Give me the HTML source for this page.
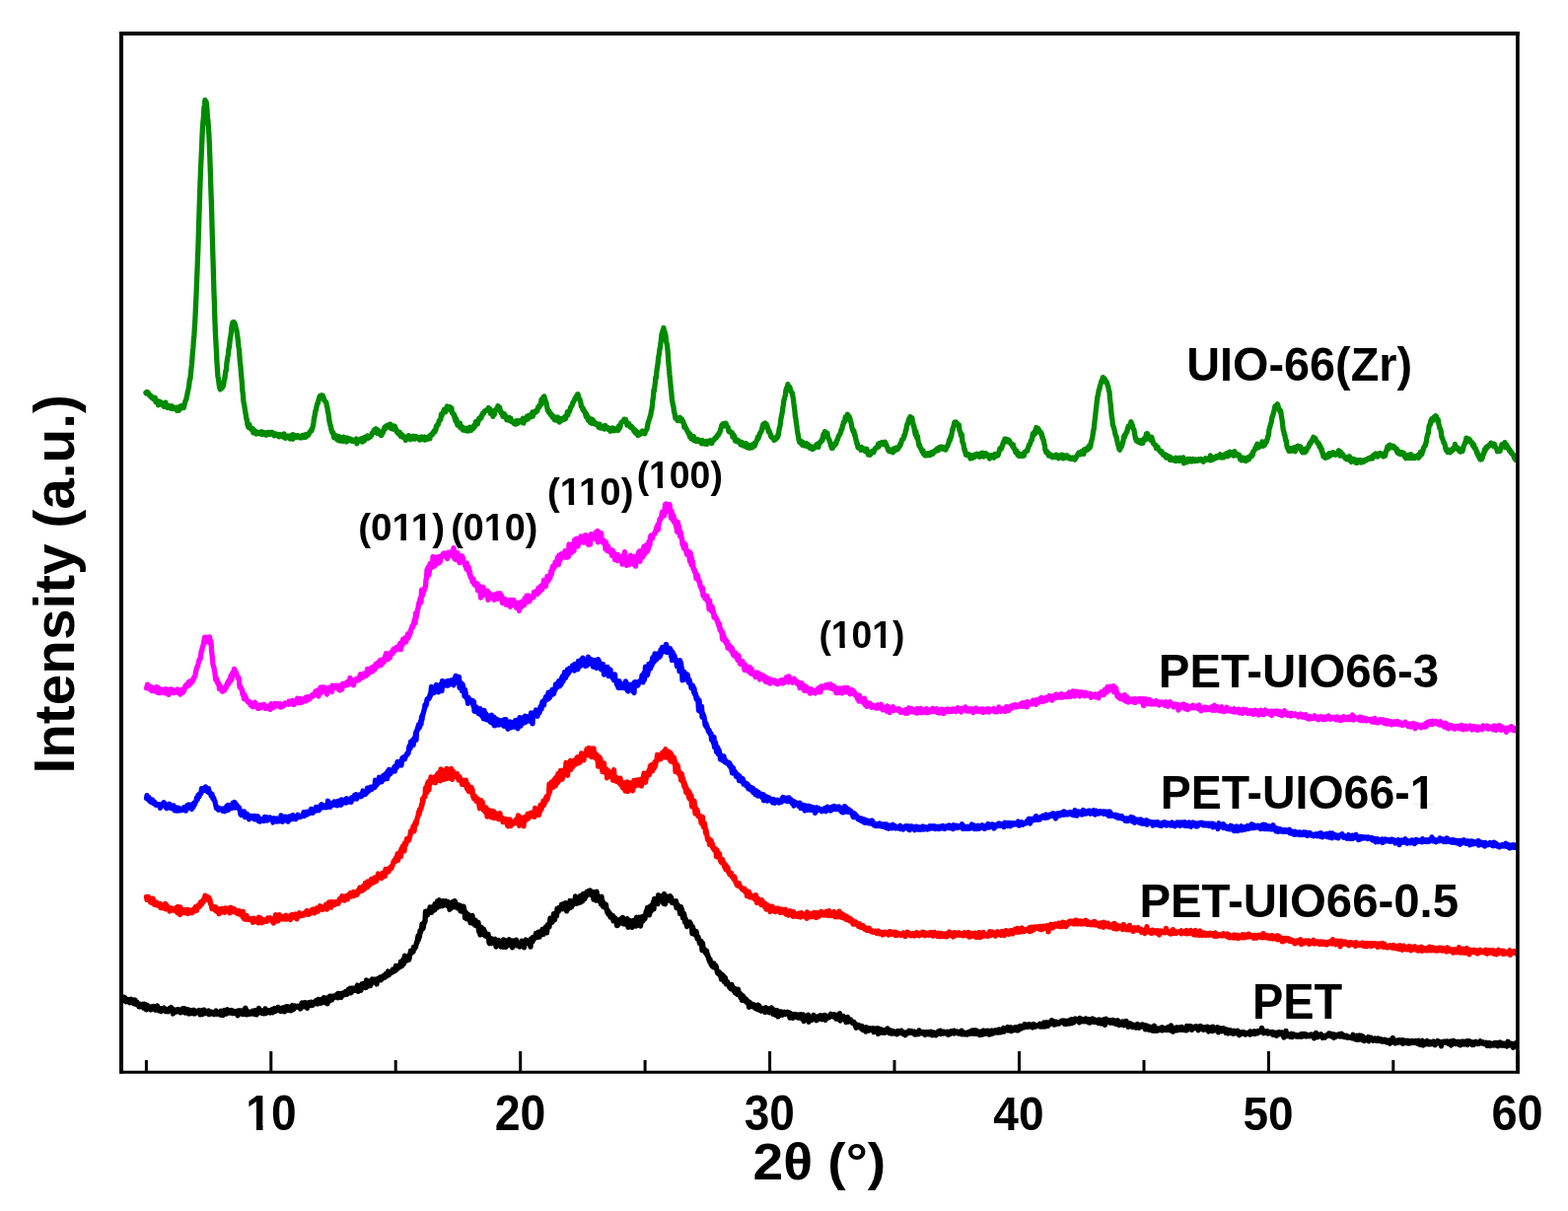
<!DOCTYPE html>
<html><head><meta charset="utf-8"><style>
html,body{margin:0;padding:0;background:#fff;}
svg{display:block;}
text{font-family:"Liberation Sans",Arial,sans-serif;font-weight:bold;fill:#000;}
</style></head><body>
<svg width="1590" height="1228" viewBox="0 0 1590 1228">
<rect width="1590" height="1228" fill="#fff"/>
<g fill="none" stroke-width="5.3" stroke-linejoin="round" stroke-linecap="round">
<path d="M124.0 1011.8 124.5 1012.6 125.0 1011.9 125.5 1011.2 126.0 1012.1 126.5 1011.6 127.0 1013.5 127.5 1015.8 128.0 1013.1 128.5 1013.2 129.0 1015.2 129.5 1015.3 130.0 1015.1 130.5 1013.7 131.0 1015.4 131.5 1016.7 132.0 1013.8 132.5 1015.4 133.0 1013.3 133.5 1014.5 134.0 1013.9 134.5 1016.6 135.0 1015.2 135.5 1017.8 136.0 1017.8 136.5 1017.4 137.0 1014.0 137.5 1017.3 138.0 1018.2 138.5 1018.6 139.0 1016.2 139.5 1018.0 140.0 1017.4 140.5 1017.8 141.0 1020.8 141.5 1018.0 142.0 1019.4 142.5 1020.9 143.0 1018.8 143.5 1019.6 144.0 1020.1 144.5 1020.1 145.0 1018.3 145.5 1020.4 146.0 1022.4 146.5 1018.2 147.0 1021.9 147.5 1020.9 148.0 1019.9 148.5 1023.9 149.0 1022.2 149.5 1019.3 150.0 1021.3 150.5 1022.2 151.0 1021.1 151.5 1022.5 152.0 1021.5 152.5 1022.7 153.0 1023.9 153.5 1020.9 154.0 1022.3 154.5 1021.3 155.0 1022.3 155.5 1020.4 156.0 1021.4 156.5 1022.1 157.0 1023.8 157.5 1024.2 158.0 1020.6 158.5 1021.5 159.0 1023.7 159.5 1019.8 160.0 1022.2 160.5 1022.8 161.0 1024.9 161.5 1024.1 162.0 1022.7 162.5 1022.7 163.0 1022.9 163.5 1025.6 164.0 1022.8 164.5 1023.0 165.0 1024.1 165.5 1023.4 166.0 1023.4 166.5 1022.1 167.0 1023.8 167.5 1023.2 168.0 1025.6 168.5 1024.9 169.0 1024.0 169.5 1025.1 170.0 1023.6 170.5 1025.7 171.0 1024.2 171.5 1025.2 172.0 1022.5 172.5 1024.9 173.0 1022.0 173.5 1021.6 174.0 1024.1 174.5 1023.3 175.0 1024.9 175.5 1028.0 176.0 1023.6 176.5 1023.9 177.0 1025.2 177.5 1025.7 178.0 1024.7 178.5 1024.7 179.0 1026.1 179.5 1025.9 180.0 1023.7 180.5 1025.1 181.0 1025.3 181.5 1023.8 182.0 1025.7 182.5 1024.1 183.0 1026.8 183.5 1025.7 184.0 1025.6 184.5 1024.7 185.0 1025.4 185.5 1022.7 186.0 1024.0 186.5 1026.2 187.0 1022.6 187.5 1027.0 188.0 1023.2 188.5 1026.9 189.0 1024.6 189.5 1027.0 190.0 1026.1 190.5 1023.7 191.0 1027.7 191.5 1028.0 192.0 1025.9 192.5 1025.6 193.0 1025.8 193.5 1024.6 194.0 1027.7 194.5 1025.3 195.0 1026.1 195.5 1025.0 196.0 1025.3 196.5 1024.4 197.0 1028.0 197.5 1026.0 198.0 1027.7 198.5 1026.3 199.0 1025.3 199.5 1025.9 200.0 1025.6 200.5 1026.4 201.0 1025.9 201.5 1026.0 202.0 1024.5 202.5 1025.3 203.0 1028.9 203.5 1025.5 204.0 1025.0 204.5 1027.0 205.0 1028.6 205.5 1024.5 206.0 1026.3 206.5 1025.7 207.0 1024.1 207.5 1027.7 208.0 1026.6 208.5 1026.8 209.0 1025.6 209.5 1027.4 210.0 1026.0 210.5 1026.5 211.0 1025.2 211.5 1025.0 212.0 1028.7 212.5 1026.1 213.0 1027.2 213.5 1026.8 214.0 1026.2 214.5 1026.1 215.0 1027.8 215.5 1026.4 216.0 1026.7 216.5 1026.9 217.0 1028.6 217.5 1027.9 218.0 1027.4 218.5 1026.1 219.0 1024.9 219.5 1028.3 220.0 1028.3 220.5 1026.7 221.0 1027.7 221.5 1028.0 222.0 1028.1 222.5 1028.2 223.0 1026.2 223.5 1029.1 224.0 1025.1 224.5 1028.1 225.0 1027.6 225.5 1028.1 226.0 1029.6 226.5 1029.0 227.0 1025.3 227.5 1024.5 228.0 1028.1 228.5 1025.4 229.0 1026.9 229.5 1028.1 230.0 1024.5 230.5 1023.9 231.0 1027.3 231.5 1027.0 232.0 1026.5 232.5 1027.0 233.0 1025.7 233.5 1024.7 234.0 1026.7 234.5 1025.5 235.0 1024.6 235.5 1027.6 236.0 1026.8 236.5 1027.5 237.0 1025.5 237.5 1026.0 238.0 1025.5 238.5 1025.6 239.0 1027.2 239.5 1025.8 240.0 1027.4 240.5 1027.4 241.0 1029.8 241.5 1024.9 242.0 1028.2 242.5 1026.8 243.0 1026.9 243.5 1024.8 244.0 1026.2 244.5 1028.0 245.0 1026.8 245.5 1027.0 246.0 1026.5 246.5 1028.6 247.0 1026.9 247.5 1023.8 248.0 1025.9 248.5 1024.1 249.0 1022.3 249.5 1026.1 250.0 1028.8 250.5 1027.0 251.0 1025.2 251.5 1025.6 252.0 1028.5 252.5 1027.1 253.0 1026.9 253.5 1026.8 254.0 1026.9 254.5 1028.0 255.0 1027.6 255.5 1027.1 256.0 1025.3 256.5 1027.5 257.0 1025.7 257.5 1028.2 258.0 1024.8 258.5 1026.4 259.0 1026.5 259.5 1024.6 260.0 1028.9 260.5 1028.5 261.0 1025.7 261.5 1027.5 262.0 1026.8 262.5 1022.5 263.0 1026.6 263.5 1026.1 264.0 1026.2 264.5 1024.5 265.0 1025.6 265.5 1025.7 266.0 1027.6 266.5 1026.3 267.0 1025.7 267.5 1027.9 268.0 1024.8 268.5 1025.0 269.0 1022.9 269.5 1027.7 270.0 1026.8 270.5 1026.6 271.0 1026.2 271.5 1025.3 272.0 1025.4 272.5 1024.7 273.0 1024.7 273.5 1025.0 274.0 1027.0 274.5 1025.6 275.0 1024.6 275.5 1023.8 276.0 1023.6 276.5 1026.8 277.0 1025.2 277.5 1024.5 278.0 1023.8 278.5 1022.6 279.0 1024.1 279.5 1025.4 280.0 1023.4 280.5 1023.6 281.0 1023.6 281.5 1024.0 282.0 1021.4 282.5 1023.4 283.0 1022.4 283.5 1024.9 284.0 1022.4 284.5 1024.3 285.0 1025.6 285.5 1022.8 286.0 1022.4 286.5 1023.5 287.0 1023.1 287.5 1021.6 288.0 1023.6 288.5 1025.9 289.0 1022.4 289.5 1022.4 290.0 1021.1 290.5 1023.1 291.0 1020.6 291.5 1020.8 292.0 1024.3 292.5 1020.9 293.0 1023.8 293.5 1024.4 294.0 1022.4 294.5 1022.8 295.0 1024.8 295.5 1021.5 296.0 1020.8 296.5 1019.6 297.0 1021.6 297.5 1023.7 298.0 1022.8 298.5 1019.9 299.0 1019.9 299.5 1020.3 300.0 1021.5 300.5 1020.6 301.0 1021.2 301.5 1021.2 302.0 1020.2 302.5 1020.5 303.0 1020.8 303.5 1020.3 304.0 1021.1 304.5 1023.0 305.0 1021.0 305.5 1020.1 306.0 1017.3 306.5 1020.4 307.0 1016.8 307.5 1017.5 308.0 1020.8 308.5 1020.5 309.0 1019.1 309.5 1016.6 310.0 1018.6 310.5 1018.0 311.0 1019.9 311.5 1022.3 312.0 1019.1 312.5 1017.4 313.0 1016.7 313.5 1018.3 314.0 1018.0 314.5 1016.4 315.0 1018.3 315.5 1016.2 316.0 1019.6 316.5 1019.4 317.0 1019.3 317.5 1016.8 318.0 1018.2 318.5 1017.1 319.0 1016.6 319.5 1016.5 320.0 1014.9 320.5 1014.6 321.0 1017.9 321.5 1016.3 322.0 1016.8 322.5 1017.9 323.0 1013.5 323.5 1014.8 324.0 1016.2 324.5 1016.4 325.0 1015.1 325.5 1017.2 326.0 1015.7 326.5 1013.3 327.0 1013.7 327.5 1016.3 328.0 1015.6 328.5 1011.7 329.0 1016.7 329.5 1015.4 330.0 1016.4 330.5 1013.5 331.0 1013.5 331.5 1012.1 332.0 1017.8 332.5 1013.3 333.0 1016.0 333.5 1012.2 334.0 1013.4 334.5 1010.2 335.0 1012.2 335.5 1014.2 336.0 1010.4 336.5 1014.0 337.0 1012.7 337.5 1010.3 338.0 1011.0 338.5 1010.9 339.0 1011.4 339.5 1010.4 340.0 1009.8 340.5 1010.4 341.0 1009.1 341.5 1008.5 342.0 1010.3 342.5 1011.7 343.0 1007.5 343.5 1009.9 344.0 1008.6 344.5 1007.9 345.0 1010.7 345.5 1008.3 346.0 1011.5 346.5 1007.5 347.0 1009.2 347.5 1008.0 348.0 1007.0 348.5 1009.0 349.0 1007.6 349.5 1008.6 350.0 1007.3 350.5 1005.4 351.0 1006.8 351.5 1006.9 352.0 1008.2 352.5 1004.9 353.0 1006.1 353.5 1003.1 354.0 1006.9 354.5 1003.7 355.0 1002.3 355.5 1005.1 356.0 1006.8 356.5 1002.1 357.0 1002.7 357.5 1003.0 358.0 1002.2 358.5 1004.6 359.0 1002.3 359.5 1002.2 360.0 1004.3 360.5 1001.8 361.0 1003.6 361.5 1001.0 362.0 1000.4 362.5 999.1 363.0 1005.3 363.5 1001.3 364.0 1002.1 364.5 1001.4 365.0 1001.6 365.5 1001.2 366.0 1004.3 366.5 998.9 367.0 997.8 367.5 998.6 368.0 997.8 368.5 1001.3 369.0 1001.2 369.5 997.9 370.0 996.9 370.5 998.5 371.0 1001.5 371.5 993.8 372.0 999.5 372.5 996.5 373.0 1000.1 373.5 996.1 374.0 997.3 374.5 994.9 375.0 995.6 375.5 999.7 376.0 998.5 376.5 996.0 377.0 995.0 377.5 992.9 378.0 995.4 378.5 995.9 379.0 995.6 379.5 995.3 380.0 993.2 380.5 995.0 381.0 994.8 381.5 997.0 382.0 997.9 382.5 994.0 383.0 992.6 383.5 993.7 384.0 992.5 384.5 992.0 385.0 993.1 385.5 991.0 386.0 993.9 386.5 992.3 387.0 992.8 387.5 991.7 388.0 990.5 388.5 989.8 389.0 990.9 389.5 990.1 390.0 991.3 390.5 990.6 391.0 987.8 391.5 990.2 392.0 987.2 392.5 988.3 393.0 988.6 393.5 985.0 394.0 988.8 394.5 988.6 395.0 987.6 395.5 986.8 396.0 986.5 396.5 985.0 397.0 986.0 397.5 985.0 398.0 985.9 398.5 983.0 399.0 985.3 399.5 984.7 400.0 983.8 400.5 982.7 401.0 984.2 401.5 979.5 402.0 983.2 402.5 982.3 403.0 981.9 403.5 981.7 404.0 979.2 404.5 979.5 405.0 980.9 405.5 980.0 406.0 979.1 406.5 975.2 407.0 978.8 407.5 979.6 408.0 978.8 408.5 976.8 409.0 972.7 409.5 977.2 410.0 974.5 410.5 969.1 411.0 974.5 411.5 970.1 412.0 969.9 412.5 970.7 413.0 974.0 413.5 970.0 414.0 970.7 414.5 973.2 415.0 972.2 415.5 968.0 416.0 967.0 416.5 964.1 417.0 964.6 417.5 966.2 418.0 965.4 418.5 964.0 419.0 965.1 419.5 960.4 420.0 961.1 420.5 961.9 421.0 960.6 421.5 960.6 422.0 958.1 422.5 955.4 423.0 955.8 423.5 951.6 424.0 949.0 424.5 952.7 425.0 950.1 425.5 949.7 426.0 943.8 426.5 945.6 427.0 943.7 427.5 941.7 428.0 937.1 428.5 940.2 429.0 941.6 429.5 938.9 430.0 935.0 430.5 934.9 431.0 934.9 431.5 924.2 432.0 928.4 432.5 927.9 433.0 926.5 433.5 927.8 434.0 925.8 434.5 923.3 435.0 922.8 435.5 923.6 436.0 920.0 436.5 920.9 437.0 923.0 437.5 925.4 438.0 919.9 438.5 920.0 439.0 920.4 439.5 923.1 440.0 919.4 440.5 923.0 441.0 916.6 441.5 918.3 442.0 918.0 442.5 920.2 443.0 920.6 443.5 913.9 444.0 915.1 444.5 918.0 445.0 915.2 445.5 912.8 446.0 919.1 446.5 917.5 447.0 917.4 447.5 914.8 448.0 918.5 448.5 915.3 449.0 918.7 449.5 913.6 450.0 913.8 450.5 916.5 451.0 914.2 451.5 917.7 452.0 916.7 452.5 913.8 453.0 916.3 453.5 915.3 454.0 918.6 454.5 914.7 455.0 915.3 455.5 919.5 456.0 922.2 456.5 921.7 457.0 916.9 457.5 917.3 458.0 920.7 458.5 916.6 459.0 914.6 459.5 917.5 460.0 918.5 460.5 915.5 461.0 913.6 461.5 914.3 462.0 919.9 462.5 916.5 463.0 918.3 463.5 919.5 464.0 920.8 464.5 918.7 465.0 921.1 465.5 917.9 466.0 919.5 466.5 918.2 467.0 923.9 467.5 921.3 468.0 919.9 468.5 921.2 469.0 921.9 469.5 924.5 470.0 919.2 470.5 921.0 471.0 923.1 471.5 930.8 472.0 927.5 472.5 925.4 473.0 927.9 473.5 931.8 474.0 926.8 474.5 927.1 475.0 931.5 475.5 930.4 476.0 931.4 476.5 929.2 477.0 935.7 477.5 935.8 478.0 933.6 478.5 934.4 479.0 928.5 479.5 935.5 480.0 934.1 480.5 936.3 481.0 937.5 481.5 935.7 482.0 933.1 482.5 938.7 483.0 936.7 483.5 938.3 484.0 938.3 484.5 939.5 485.0 935.5 485.5 944.4 486.0 942.7 486.5 945.3 487.0 947.9 487.5 943.8 488.0 940.1 488.5 942.7 489.0 942.5 489.5 944.7 490.0 946.5 490.5 942.2 491.0 948.1 491.5 944.4 492.0 949.0 492.5 948.5 493.0 948.5 493.5 949.5 494.0 948.9 494.5 949.2 495.0 947.2 495.5 951.3 496.0 955.9 496.5 956.6 497.0 955.4 497.5 954.3 498.0 951.5 498.5 956.5 499.0 953.4 499.5 953.6 500.0 953.3 500.5 954.3 501.0 953.3 501.5 954.3 502.0 952.3 502.5 954.0 503.0 960.1 503.5 955.1 504.0 954.9 504.5 956.7 505.0 957.3 505.5 953.4 506.0 955.6 506.5 958.2 507.0 956.9 507.5 956.7 508.0 960.0 508.5 955.2 509.0 957.0 509.5 955.8 510.0 960.3 510.5 952.8 511.0 955.7 511.5 956.1 512.0 958.7 512.5 958.7 513.0 960.4 513.5 953.9 514.0 959.0 514.5 956.8 515.0 955.9 515.5 958.6 516.0 955.4 516.5 952.8 517.0 956.6 517.5 954.1 518.0 956.0 518.5 958.2 519.0 958.1 519.5 960.9 520.0 957.0 520.5 954.0 521.0 955.7 521.5 955.4 522.0 954.7 522.5 958.4 523.0 956.0 523.5 953.1 524.0 958.9 524.5 957.2 525.0 958.2 525.5 957.6 526.0 958.8 526.5 957.5 527.0 960.1 527.5 958.3 528.0 958.3 528.5 958.3 529.0 954.2 529.5 957.0 530.0 956.8 530.5 957.8 531.0 954.3 531.5 960.8 532.0 957.3 532.5 954.3 533.0 953.0 533.5 956.0 534.0 956.2 534.5 954.6 535.0 956.2 535.5 954.4 536.0 956.8 536.5 953.7 537.0 954.9 537.5 956.9 538.0 960.2 538.5 951.9 539.0 952.9 539.5 951.7 540.0 955.0 540.5 950.4 541.0 951.6 541.5 952.3 542.0 949.9 542.5 949.6 543.0 950.4 543.5 946.4 544.0 947.5 544.5 949.5 545.0 950.3 545.5 949.2 546.0 945.1 546.5 947.7 547.0 950.1 547.5 949.1 548.0 947.1 548.5 944.8 549.0 947.7 549.5 944.4 550.0 942.5 550.5 942.8 551.0 947.5 551.5 944.1 552.0 945.7 552.5 941.3 553.0 944.0 553.5 939.8 554.0 940.3 554.5 945.9 555.0 941.3 555.5 937.7 556.0 938.1 556.5 938.4 557.0 939.8 557.5 935.0 558.0 931.2 558.5 933.9 559.0 933.7 559.5 933.1 560.0 935.1 560.5 931.8 561.0 932.1 561.5 926.6 562.0 930.5 562.5 932.7 563.0 928.6 563.5 926.5 564.0 925.5 564.5 928.8 565.0 921.4 565.5 922.8 566.0 923.7 566.5 923.9 567.0 920.5 567.5 922.1 568.0 920.3 568.5 921.0 569.0 920.1 569.5 917.3 570.0 919.8 570.5 921.8 571.0 917.0 571.5 918.6 572.0 920.7 572.5 916.1 573.0 919.1 573.5 915.7 574.0 921.1 574.5 923.9 575.0 923.0 575.5 917.1 576.0 919.4 576.5 917.7 577.0 917.4 577.5 920.9 578.0 913.5 578.5 919.3 579.0 916.3 579.5 919.8 580.0 916.5 580.5 914.0 581.0 916.2 581.5 917.2 582.0 915.2 582.5 916.1 583.0 913.3 583.5 908.9 584.0 916.4 584.5 915.7 585.0 914.0 585.5 913.6 586.0 915.8 586.5 911.8 587.0 910.9 587.5 911.9 588.0 915.2 588.5 908.3 589.0 914.7 589.5 909.6 590.0 908.1 590.5 913.9 591.0 910.0 591.5 906.4 592.0 908.3 592.5 911.2 593.0 911.3 593.5 906.6 594.0 908.3 594.5 908.6 595.0 904.5 595.5 906.7 596.0 905.3 596.5 903.7 597.0 903.5 597.5 904.8 598.0 904.6 598.5 903.0 599.0 903.5 599.5 907.6 600.0 905.5 600.5 907.5 601.0 908.7 601.5 907.4 602.0 912.2 602.5 904.6 603.0 909.3 603.5 906.9 604.0 913.0 604.5 913.1 605.0 904.2 605.5 907.3 606.0 912.0 606.5 912.8 607.0 913.2 607.5 911.6 608.0 913.5 608.5 914.6 609.0 913.4 609.5 916.8 610.0 909.1 610.5 917.1 611.0 913.6 611.5 919.3 612.0 917.0 612.5 916.1 613.0 920.0 613.5 917.4 614.0 918.1 614.5 917.2 615.0 921.8 615.5 923.7 616.0 925.7 616.5 923.4 617.0 927.1 617.5 925.2 618.0 925.7 618.5 928.1 619.0 930.0 619.5 927.3 620.0 928.2 620.5 929.1 621.0 930.4 621.5 928.6 622.0 933.9 622.5 930.9 623.0 933.4 623.5 930.6 624.0 933.8 624.5 934.1 625.0 932.4 625.5 938.5 626.0 934.7 626.5 938.3 627.0 936.6 627.5 932.9 628.0 933.8 628.5 935.9 629.0 935.2 629.5 935.3 630.0 934.7 630.5 931.2 631.0 935.2 631.5 930.5 632.0 936.8 632.5 934.3 633.0 934.5 633.5 935.8 634.0 937.0 634.5 933.0 635.0 932.3 635.5 934.0 636.0 931.7 636.5 934.3 637.0 940.4 637.5 934.1 638.0 938.1 638.5 933.3 639.0 937.2 639.5 935.7 640.0 936.2 640.5 937.6 641.0 940.3 641.5 936.5 642.0 936.2 642.5 933.5 643.0 937.0 643.5 934.9 644.0 937.3 644.5 935.1 645.0 939.2 645.5 930.1 646.0 933.9 646.5 936.5 647.0 933.4 647.5 932.1 648.0 933.2 648.5 930.3 649.0 933.6 649.5 939.0 650.0 935.7 650.5 930.0 651.0 930.2 651.5 931.0 652.0 934.0 652.5 929.1 653.0 928.9 653.5 932.1 654.0 931.5 654.5 927.8 655.0 925.3 655.5 923.6 656.0 925.0 656.5 920.5 657.0 927.1 657.5 923.0 658.0 925.1 658.5 927.8 659.0 925.4 659.5 919.0 660.0 923.4 660.5 923.6 661.0 918.2 661.5 917.2 662.0 918.8 662.5 914.5 663.0 921.8 663.5 911.4 664.0 914.1 664.5 915.7 665.0 915.3 665.5 915.7 666.0 915.4 666.5 913.7 667.0 916.6 667.5 907.7 668.0 912.7 668.5 910.4 669.0 912.2 669.5 912.0 670.0 908.8 670.5 909.2 671.0 912.7 671.5 911.3 672.0 908.5 672.5 915.5 673.0 916.2 673.5 906.4 674.0 911.0 674.5 916.8 675.0 912.4 675.5 911.1 676.0 910.0 676.5 909.3 677.0 910.3 677.5 909.6 678.0 913.1 678.5 910.3 679.0 910.4 679.5 908.6 680.0 911.8 680.5 909.8 681.0 911.9 681.5 915.3 682.0 913.8 682.5 914.4 683.0 914.4 683.5 914.0 684.0 914.1 684.5 914.3 685.0 917.7 685.5 913.7 686.0 920.7 686.5 918.2 687.0 917.1 687.5 918.7 688.0 919.1 688.5 922.1 689.0 920.9 689.5 926.4 690.0 922.5 690.5 919.7 691.0 924.3 691.5 922.0 692.0 927.5 692.5 930.9 693.0 930.6 693.5 926.4 694.0 928.5 694.5 935.4 695.0 932.5 695.5 932.4 696.0 935.5 696.5 939.5 697.0 937.4 697.5 935.3 698.0 936.4 698.5 937.7 699.0 935.5 699.5 935.1 700.0 938.4 700.5 936.8 701.0 939.6 701.5 940.7 702.0 946.7 702.5 940.0 703.0 942.5 703.5 943.3 704.0 945.5 704.5 947.8 705.0 945.2 705.5 945.5 706.0 944.6 706.5 947.2 707.0 951.6 707.5 951.5 708.0 950.1 708.5 952.6 709.0 954.5 709.5 956.6 710.0 955.1 710.5 956.9 711.0 954.4 711.5 956.8 712.0 963.7 712.5 956.3 713.0 961.2 713.5 963.3 714.0 962.9 714.5 962.8 715.0 965.3 715.5 966.3 716.0 967.0 716.5 964.1 717.0 968.5 717.5 967.9 718.0 969.4 718.5 971.8 719.0 973.4 719.5 974.8 720.0 972.7 720.5 976.4 721.0 977.7 721.5 978.3 722.0 979.6 722.5 977.3 723.0 977.9 723.5 980.7 724.0 977.0 724.5 980.9 725.0 980.1 725.5 981.2 726.0 979.2 726.5 981.5 727.0 983.9 727.5 986.4 728.0 987.2 728.5 985.8 729.0 986.3 729.5 985.7 730.0 988.7 730.5 988.1 731.0 990.4 731.5 993.1 732.0 990.4 732.5 988.3 733.0 990.0 733.5 989.5 734.0 990.6 734.5 995.8 735.0 994.3 735.5 991.7 736.0 996.2 736.5 997.9 737.0 995.4 737.5 995.4 738.0 996.5 738.5 998.2 739.0 999.3 739.5 1000.8 740.0 1001.3 740.5 1001.8 741.0 1002.6 741.5 1001.8 742.0 998.4 742.5 1001.4 743.0 1002.6 743.5 1001.9 744.0 1004.6 744.5 1002.9 745.0 1002.4 745.5 1006.9 746.0 1006.0 746.5 1005.7 747.0 1007.4 747.5 1008.1 748.0 1007.3 748.5 1003.1 749.0 1006.6 749.5 1007.4 750.0 1007.0 750.5 1009.5 751.0 1011.6 751.5 1009.3 752.0 1008.7 752.5 1014.4 753.0 1010.8 753.5 1010.0 754.0 1012.9 754.5 1013.6 755.0 1012.3 755.5 1015.1 756.0 1013.5 756.5 1013.2 757.0 1015.4 757.5 1016.7 758.0 1014.8 758.5 1016.7 759.0 1016.4 759.5 1021.3 760.0 1016.1 760.5 1019.6 761.0 1017.6 761.5 1017.8 762.0 1019.4 762.5 1019.9 763.0 1020.7 763.5 1019.5 764.0 1018.4 764.5 1018.7 765.0 1020.5 765.5 1020.9 766.0 1022.4 766.5 1021.1 767.0 1022.3 767.5 1023.2 768.0 1021.3 768.5 1019.1 769.0 1019.7 769.5 1019.6 770.0 1024.3 770.5 1020.8 771.0 1024.1 771.5 1023.3 772.0 1025.2 772.5 1024.3 773.0 1022.9 773.5 1022.9 774.0 1023.5 774.5 1023.8 775.0 1022.9 775.5 1023.8 776.0 1026.4 776.5 1021.6 777.0 1024.7 777.5 1023.1 778.0 1024.8 778.5 1025.9 779.0 1024.8 779.5 1026.1 780.0 1022.8 780.5 1026.8 781.0 1024.5 781.5 1026.4 782.0 1025.9 782.5 1022.0 783.0 1024.7 783.5 1026.3 784.0 1028.3 784.5 1026.6 785.0 1026.6 785.5 1024.3 786.0 1028.5 786.5 1029.2 787.0 1026.7 787.5 1026.5 788.0 1024.6 788.5 1028.2 789.0 1030.9 789.5 1028.2 790.0 1029.1 790.5 1028.1 791.0 1026.0 791.5 1029.4 792.0 1025.9 792.5 1027.4 793.0 1028.2 793.5 1029.1 794.0 1028.6 794.5 1028.6 795.0 1027.1 795.5 1026.4 796.0 1028.4 796.5 1027.4 797.0 1026.7 797.5 1026.8 798.0 1028.0 798.5 1026.2 799.0 1027.0 799.5 1026.7 800.0 1029.3 800.5 1029.7 801.0 1032.1 801.5 1027.3 802.0 1028.5 802.5 1030.9 803.0 1029.4 803.5 1029.4 804.0 1032.3 804.5 1029.6 805.0 1028.6 805.5 1028.4 806.0 1030.8 806.5 1030.9 807.0 1028.7 807.5 1029.4 808.0 1031.5 808.5 1031.7 809.0 1030.1 809.5 1032.0 810.0 1032.0 810.5 1028.9 811.0 1031.0 811.5 1032.1 812.0 1030.8 812.5 1028.8 813.0 1031.4 813.5 1032.9 814.0 1034.1 814.5 1029.0 815.0 1035.6 815.5 1030.6 816.0 1033.5 816.5 1033.9 817.0 1033.6 817.5 1032.6 818.0 1030.8 818.5 1033.3 819.0 1031.5 819.5 1029.1 820.0 1036.3 820.5 1033.5 821.0 1035.0 821.5 1031.3 822.0 1034.5 822.5 1034.6 823.0 1034.6 823.5 1032.4 824.0 1030.8 824.5 1032.1 825.0 1029.4 825.5 1030.0 826.0 1032.4 826.5 1030.9 827.0 1032.0 827.5 1032.0 828.0 1034.7 828.5 1033.8 829.0 1031.9 829.5 1033.6 830.0 1030.8 830.5 1031.4 831.0 1033.0 831.5 1030.0 832.0 1031.3 832.5 1029.8 833.0 1031.7 833.5 1033.7 834.0 1030.4 834.5 1031.7 835.0 1030.1 835.5 1029.7 836.0 1029.5 836.5 1033.2 837.0 1034.3 837.5 1031.7 838.0 1030.0 838.5 1031.9 839.0 1030.5 839.5 1032.0 840.0 1031.2 840.5 1031.2 841.0 1031.6 841.5 1029.9 842.0 1030.1 842.5 1028.3 843.0 1030.0 843.5 1028.7 844.0 1030.4 844.5 1029.3 845.0 1030.7 845.5 1031.2 846.0 1028.7 846.5 1029.5 847.0 1029.4 847.5 1031.7 848.0 1033.1 848.5 1032.0 849.0 1030.4 849.5 1033.0 850.0 1029.0 850.5 1033.3 851.0 1030.4 851.5 1027.6 852.0 1035.2 852.5 1033.8 853.0 1030.4 853.5 1032.2 854.0 1031.8 854.5 1032.4 855.0 1030.4 855.5 1031.7 856.0 1033.4 856.5 1033.2 857.0 1034.7 857.5 1033.4 858.0 1036.6 858.5 1032.7 859.0 1034.2 859.5 1031.4 860.0 1032.5 860.5 1036.1 861.0 1033.3 861.5 1035.4 862.0 1034.9 862.5 1033.9 863.0 1035.1 863.5 1035.2 864.0 1035.5 864.5 1037.5 865.0 1037.7 865.5 1036.4 866.0 1036.4 866.5 1038.2 867.0 1038.1 867.5 1039.9 868.0 1042.3 868.5 1040.3 869.0 1039.6 869.5 1039.7 870.0 1039.2 870.5 1039.5 871.0 1039.6 871.5 1040.6 872.0 1040.8 872.5 1042.4 873.0 1041.2 873.5 1041.6 874.0 1040.5 874.5 1044.1 875.0 1042.9 875.5 1044.5 876.0 1043.4 876.5 1044.4 877.0 1042.4 877.5 1043.7 878.0 1046.1 878.5 1041.6 879.0 1044.5 879.5 1045.2 880.0 1043.8 880.5 1044.3 881.0 1045.0 881.5 1042.8 882.0 1044.2 882.5 1042.7 883.0 1043.1 883.5 1043.2 884.0 1043.9 884.5 1044.3 885.0 1044.7 885.5 1042.6 886.0 1046.7 886.5 1045.8 887.0 1045.3 887.5 1044.1 888.0 1044.5 888.5 1045.3 889.0 1045.2 889.5 1042.8 890.0 1045.7 890.5 1048.4 891.0 1042.8 891.5 1046.2 892.0 1045.5 892.5 1045.0 893.0 1046.8 893.5 1043.9 894.0 1045.5 894.5 1047.1 895.0 1045.2 895.5 1045.0 896.0 1045.6 896.5 1045.0 897.0 1047.4 897.5 1044.6 898.0 1046.7 898.5 1044.3 899.0 1046.6 899.5 1045.7 900.0 1042.9 900.5 1045.9 901.0 1044.7 901.5 1045.5 902.0 1047.8 902.5 1044.8 903.0 1044.9 903.5 1047.9 904.0 1046.4 904.5 1048.1 905.0 1046.7 905.5 1045.4 906.0 1046.3 906.5 1047.9 907.0 1047.6 907.5 1046.5 908.0 1046.6 908.5 1046.5 909.0 1046.0 909.5 1048.9 910.0 1046.8 910.5 1045.5 911.0 1046.3 911.5 1047.7 912.0 1047.6 912.5 1046.8 913.0 1046.2 913.5 1047.0 914.0 1045.1 914.5 1045.6 915.0 1048.0 915.5 1046.6 916.0 1047.6 916.5 1048.6 917.0 1048.0 917.5 1047.3 918.0 1049.7 918.5 1048.1 919.0 1046.9 919.5 1048.2 920.0 1047.8 920.5 1046.4 921.0 1047.5 921.5 1047.2 922.0 1045.2 922.5 1047.3 923.0 1047.1 923.5 1047.0 924.0 1045.6 924.5 1047.1 925.0 1047.4 925.5 1047.6 926.0 1046.2 926.5 1048.2 927.0 1046.1 927.5 1047.2 928.0 1049.0 928.5 1046.7 929.0 1046.9 929.5 1048.7 930.0 1047.1 930.5 1047.2 931.0 1047.8 931.5 1048.7 932.0 1045.0 932.5 1046.6 933.0 1046.4 933.5 1046.3 934.0 1046.5 934.5 1046.5 935.0 1047.8 935.5 1046.5 936.0 1047.6 936.5 1048.0 937.0 1046.7 937.5 1047.6 938.0 1049.4 938.5 1047.9 939.0 1046.8 939.5 1047.4 940.0 1046.5 940.5 1047.8 941.0 1048.5 941.5 1046.6 942.0 1047.3 942.5 1048.8 943.0 1046.9 943.5 1047.7 944.0 1046.3 944.5 1046.6 945.0 1046.9 945.5 1049.9 946.0 1047.0 946.5 1046.9 947.0 1046.9 947.5 1047.3 948.0 1048.2 948.5 1047.7 949.0 1049.8 949.5 1047.7 950.0 1049.1 950.5 1047.8 951.0 1048.2 951.5 1045.9 952.0 1047.4 952.5 1047.4 953.0 1047.2 953.5 1045.1 954.0 1048.5 954.5 1047.1 955.0 1047.0 955.5 1047.2 956.0 1047.2 956.5 1047.9 957.0 1046.1 957.5 1046.5 958.0 1047.8 958.5 1047.7 959.0 1047.1 959.5 1046.9 960.0 1046.6 960.5 1047.4 961.0 1048.8 961.5 1046.3 962.0 1049.2 962.5 1048.4 963.0 1047.0 963.5 1048.4 964.0 1045.9 964.5 1045.6 965.0 1046.1 965.5 1047.0 966.0 1047.1 966.5 1046.9 967.0 1047.6 967.5 1045.1 968.0 1048.0 968.5 1045.9 969.0 1046.8 969.5 1047.0 970.0 1046.2 970.5 1046.0 971.0 1046.4 971.5 1047.5 972.0 1048.1 972.5 1048.1 973.0 1046.4 973.5 1046.6 974.0 1046.5 974.5 1048.0 975.0 1045.2 975.5 1048.8 976.0 1046.9 976.5 1046.6 977.0 1047.8 977.5 1048.6 978.0 1047.8 978.5 1048.6 979.0 1047.6 979.5 1048.8 980.0 1048.8 980.5 1047.3 981.0 1049.0 981.5 1047.6 982.0 1047.5 982.5 1046.4 983.0 1047.1 983.5 1048.2 984.0 1045.9 984.5 1048.1 985.0 1047.8 985.5 1047.7 986.0 1044.9 986.5 1047.2 987.0 1048.1 987.5 1046.5 988.0 1047.4 988.5 1044.7 989.0 1048.1 989.5 1046.6 990.0 1048.3 990.5 1045.2 991.0 1048.0 991.5 1047.0 992.0 1048.2 992.5 1046.2 993.0 1046.5 993.5 1049.7 994.0 1046.3 994.5 1046.4 995.0 1046.8 995.5 1046.0 996.0 1048.4 996.5 1049.0 997.0 1046.3 997.5 1045.1 998.0 1048.3 998.5 1048.2 999.0 1047.8 999.5 1048.2 1000.0 1045.9 1000.5 1046.6 1001.0 1045.2 1001.5 1045.2 1002.0 1047.8 1002.5 1045.9 1003.0 1049.2 1003.5 1046.7 1004.0 1045.8 1004.5 1047.4 1005.0 1048.5 1005.5 1047.0 1006.0 1045.0 1006.5 1046.8 1007.0 1047.9 1007.5 1045.7 1008.0 1045.4 1008.5 1047.3 1009.0 1046.3 1009.5 1044.8 1010.0 1045.6 1010.5 1045.1 1011.0 1046.3 1011.5 1046.0 1012.0 1047.1 1012.5 1046.5 1013.0 1043.9 1013.5 1046.1 1014.0 1046.6 1014.5 1046.0 1015.0 1046.6 1015.5 1044.7 1016.0 1044.1 1016.5 1046.2 1017.0 1043.8 1017.5 1042.5 1018.0 1046.1 1018.5 1044.0 1019.0 1044.4 1019.5 1043.0 1020.0 1043.0 1020.5 1043.1 1021.0 1043.9 1021.5 1044.7 1022.0 1041.5 1022.5 1044.9 1023.0 1042.6 1023.5 1042.6 1024.0 1044.6 1024.5 1043.6 1025.0 1041.8 1025.5 1045.7 1026.0 1042.4 1026.5 1043.6 1027.0 1043.4 1027.5 1044.8 1028.0 1042.5 1028.5 1044.1 1029.0 1041.9 1029.5 1044.0 1030.0 1041.7 1030.5 1042.1 1031.0 1044.7 1031.5 1042.7 1032.0 1042.4 1032.5 1044.9 1033.0 1042.5 1033.5 1041.0 1034.0 1042.8 1034.5 1040.4 1035.0 1043.1 1035.5 1043.1 1036.0 1040.9 1036.5 1040.8 1037.0 1041.7 1037.5 1041.4 1038.0 1040.1 1038.5 1041.9 1039.0 1038.7 1039.5 1040.5 1040.0 1040.5 1040.5 1040.6 1041.0 1041.2 1041.5 1039.3 1042.0 1041.4 1042.5 1040.4 1043.0 1039.8 1043.5 1038.8 1044.0 1039.0 1044.5 1040.8 1045.0 1039.1 1045.5 1040.3 1046.0 1041.4 1046.5 1041.3 1047.0 1041.9 1047.5 1039.6 1048.0 1038.5 1048.5 1041.0 1049.0 1040.1 1049.5 1041.0 1050.0 1039.6 1050.5 1041.0 1051.0 1040.5 1051.5 1040.3 1052.0 1039.9 1052.5 1039.7 1053.0 1039.5 1053.5 1039.4 1054.0 1040.3 1054.5 1038.3 1055.0 1041.1 1055.5 1038.7 1056.0 1040.0 1056.5 1038.6 1057.0 1038.3 1057.5 1041.1 1058.0 1038.1 1058.5 1036.9 1059.0 1037.5 1059.5 1037.9 1060.0 1041.0 1060.5 1038.5 1061.0 1039.3 1061.5 1036.8 1062.0 1038.5 1062.5 1038.8 1063.0 1040.2 1063.5 1037.0 1064.0 1038.6 1064.5 1038.1 1065.0 1036.4 1065.5 1037.6 1066.0 1037.2 1066.5 1034.6 1067.0 1038.2 1067.5 1038.1 1068.0 1036.8 1068.5 1035.6 1069.0 1039.1 1069.5 1037.5 1070.0 1038.4 1070.5 1038.8 1071.0 1036.3 1071.5 1037.9 1072.0 1036.5 1072.5 1036.7 1073.0 1036.6 1073.5 1036.6 1074.0 1038.0 1074.5 1036.6 1075.0 1036.2 1075.5 1036.0 1076.0 1036.7 1076.5 1035.1 1077.0 1035.5 1077.5 1036.0 1078.0 1035.3 1078.5 1035.8 1079.0 1035.1 1079.5 1038.4 1080.0 1037.5 1080.5 1036.3 1081.0 1035.6 1081.5 1038.5 1082.0 1036.0 1082.5 1035.4 1083.0 1035.9 1083.5 1035.8 1084.0 1037.2 1084.5 1035.3 1085.0 1038.0 1085.5 1034.1 1086.0 1036.1 1086.5 1033.8 1087.0 1037.5 1087.5 1034.7 1088.0 1035.0 1088.5 1036.2 1089.0 1036.7 1089.5 1033.5 1090.0 1034.5 1090.5 1033.1 1091.0 1035.1 1091.5 1034.8 1092.0 1034.5 1092.5 1034.0 1093.0 1034.4 1093.5 1033.9 1094.0 1035.6 1094.5 1036.9 1095.0 1032.4 1095.5 1034.8 1096.0 1034.4 1096.5 1035.6 1097.0 1033.7 1097.5 1034.7 1098.0 1033.6 1098.5 1035.9 1099.0 1035.1 1099.5 1034.7 1100.0 1035.5 1100.5 1034.7 1101.0 1032.9 1101.5 1035.8 1102.0 1035.4 1102.5 1034.8 1103.0 1036.3 1103.5 1036.6 1104.0 1033.6 1104.5 1034.1 1105.0 1037.1 1105.5 1037.0 1106.0 1034.2 1106.5 1033.6 1107.0 1034.3 1107.5 1034.5 1108.0 1033.1 1108.5 1035.3 1109.0 1033.6 1109.5 1033.7 1110.0 1036.5 1110.5 1034.4 1111.0 1035.2 1111.5 1036.1 1112.0 1036.4 1112.5 1034.9 1113.0 1035.4 1113.5 1034.3 1114.0 1037.7 1114.5 1036.3 1115.0 1034.0 1115.5 1035.5 1116.0 1036.5 1116.5 1036.2 1117.0 1038.0 1117.5 1037.4 1118.0 1034.9 1118.5 1035.5 1119.0 1034.0 1119.5 1036.0 1120.0 1035.9 1120.5 1039.3 1121.0 1035.9 1121.5 1033.1 1122.0 1035.0 1122.5 1036.0 1123.0 1034.3 1123.5 1034.8 1124.0 1035.5 1124.5 1036.4 1125.0 1035.8 1125.5 1034.9 1126.0 1037.2 1126.5 1035.5 1127.0 1035.6 1127.5 1034.5 1128.0 1035.3 1128.5 1037.3 1129.0 1034.4 1129.5 1036.4 1130.0 1037.5 1130.5 1036.2 1131.0 1037.0 1131.5 1035.4 1132.0 1038.5 1132.5 1038.3 1133.0 1037.3 1133.5 1034.8 1134.0 1035.8 1134.5 1038.5 1135.0 1039.5 1135.5 1037.8 1136.0 1039.0 1136.5 1036.8 1137.0 1037.4 1137.5 1037.7 1138.0 1038.3 1138.5 1035.9 1139.0 1039.1 1139.5 1039.7 1140.0 1036.6 1140.5 1036.5 1141.0 1038.7 1141.5 1037.5 1142.0 1035.4 1142.5 1039.5 1143.0 1038.8 1143.5 1038.1 1144.0 1041.4 1144.5 1039.0 1145.0 1038.0 1145.5 1039.1 1146.0 1037.8 1146.5 1038.2 1147.0 1039.7 1147.5 1038.6 1148.0 1038.8 1148.5 1041.5 1149.0 1040.6 1149.5 1040.6 1150.0 1040.3 1150.5 1040.3 1151.0 1041.6 1151.5 1039.8 1152.0 1042.2 1152.5 1038.8 1153.0 1039.8 1153.5 1038.5 1154.0 1039.8 1154.5 1041.0 1155.0 1042.2 1155.5 1039.7 1156.0 1040.6 1156.5 1040.2 1157.0 1039.8 1157.5 1039.4 1158.0 1041.0 1158.5 1038.9 1159.0 1041.2 1159.5 1041.2 1160.0 1040.5 1160.5 1040.2 1161.0 1039.8 1161.5 1043.8 1162.0 1040.0 1162.5 1043.6 1163.0 1042.5 1163.5 1041.5 1164.0 1040.6 1164.5 1043.3 1165.0 1044.2 1165.5 1041.1 1166.0 1042.0 1166.5 1043.6 1167.0 1042.9 1167.5 1044.9 1168.0 1041.9 1168.5 1043.3 1169.0 1041.3 1169.5 1045.3 1170.0 1042.0 1170.5 1040.3 1171.0 1042.8 1171.5 1042.9 1172.0 1045.3 1172.5 1042.7 1173.0 1043.2 1173.5 1043.9 1174.0 1045.1 1174.5 1043.2 1175.0 1044.5 1175.5 1043.9 1176.0 1043.0 1176.5 1043.5 1177.0 1043.4 1177.5 1042.3 1178.0 1044.8 1178.5 1041.8 1179.0 1044.8 1179.5 1044.5 1180.0 1043.3 1180.5 1042.5 1181.0 1043.1 1181.5 1043.9 1182.0 1044.2 1182.5 1043.7 1183.0 1044.5 1183.5 1042.7 1184.0 1043.6 1184.5 1041.5 1185.0 1044.2 1185.5 1043.5 1186.0 1042.8 1186.5 1044.7 1187.0 1044.1 1187.5 1039.9 1188.0 1043.3 1188.5 1041.5 1189.0 1044.5 1189.5 1046.1 1190.0 1042.6 1190.5 1043.3 1191.0 1042.9 1191.5 1043.6 1192.0 1043.9 1192.5 1044.6 1193.0 1041.9 1193.5 1044.9 1194.0 1042.0 1194.5 1043.4 1195.0 1044.4 1195.5 1043.8 1196.0 1041.9 1196.5 1042.1 1197.0 1042.4 1197.5 1042.9 1198.0 1044.3 1198.5 1041.4 1199.0 1043.4 1199.5 1043.6 1200.0 1043.5 1200.5 1043.4 1201.0 1044.6 1201.5 1043.4 1202.0 1043.8 1202.5 1043.4 1203.0 1044.9 1203.5 1040.5 1204.0 1044.2 1204.5 1042.4 1205.0 1042.3 1205.5 1041.5 1206.0 1040.4 1206.5 1042.2 1207.0 1041.8 1207.5 1043.2 1208.0 1040.8 1208.5 1044.3 1209.0 1042.9 1209.5 1042.3 1210.0 1041.7 1210.5 1041.6 1211.0 1041.2 1211.5 1041.9 1212.0 1042.5 1212.5 1042.3 1213.0 1040.8 1213.5 1042.2 1214.0 1041.4 1214.5 1042.7 1215.0 1044.7 1215.5 1043.2 1216.0 1042.1 1216.5 1040.6 1217.0 1040.8 1217.5 1040.5 1218.0 1043.4 1218.5 1041.6 1219.0 1042.6 1219.5 1041.8 1220.0 1042.7 1220.5 1044.3 1221.0 1041.8 1221.5 1042.3 1222.0 1041.8 1222.5 1043.8 1223.0 1041.6 1223.5 1041.5 1224.0 1041.2 1224.5 1041.2 1225.0 1043.5 1225.5 1046.0 1226.0 1041.9 1226.5 1044.2 1227.0 1043.4 1227.5 1041.9 1228.0 1042.9 1228.5 1043.0 1229.0 1042.6 1229.5 1045.7 1230.0 1041.2 1230.5 1044.0 1231.0 1044.0 1231.5 1043.0 1232.0 1043.9 1232.5 1044.8 1233.0 1044.0 1233.5 1044.4 1234.0 1044.8 1234.5 1041.7 1235.0 1045.8 1235.5 1046.8 1236.0 1045.4 1236.5 1045.5 1237.0 1042.7 1237.5 1044.3 1238.0 1043.6 1238.5 1043.9 1239.0 1045.8 1239.5 1043.8 1240.0 1044.6 1240.5 1042.6 1241.0 1044.7 1241.5 1045.1 1242.0 1044.2 1242.5 1044.3 1243.0 1047.3 1243.5 1043.8 1244.0 1044.1 1244.5 1044.4 1245.0 1046.8 1245.5 1047.9 1246.0 1045.9 1246.5 1044.8 1247.0 1045.2 1247.5 1047.0 1248.0 1044.8 1248.5 1047.6 1249.0 1047.7 1249.5 1046.2 1250.0 1047.0 1250.5 1047.2 1251.0 1048.2 1251.5 1045.3 1252.0 1047.9 1252.5 1046.3 1253.0 1046.0 1253.5 1047.0 1254.0 1046.8 1254.5 1046.0 1255.0 1045.4 1255.5 1046.2 1256.0 1049.0 1256.5 1049.6 1257.0 1048.2 1257.5 1048.9 1258.0 1047.1 1258.5 1047.6 1259.0 1048.1 1259.5 1046.6 1260.0 1046.8 1260.5 1048.0 1261.0 1047.6 1261.5 1046.8 1262.0 1048.4 1262.5 1047.7 1263.0 1049.1 1263.5 1048.0 1264.0 1047.7 1264.5 1048.1 1265.0 1047.7 1265.5 1047.2 1266.0 1047.4 1266.5 1048.6 1267.0 1048.5 1267.5 1049.1 1268.0 1045.8 1268.5 1047.1 1269.0 1047.0 1269.5 1047.6 1270.0 1046.8 1270.5 1046.7 1271.0 1048.1 1271.5 1047.3 1272.0 1045.7 1272.5 1048.5 1273.0 1048.0 1273.5 1046.2 1274.0 1047.7 1274.5 1045.9 1275.0 1047.9 1275.5 1046.3 1276.0 1045.6 1276.5 1046.1 1277.0 1045.6 1277.5 1046.7 1278.0 1046.6 1278.5 1046.4 1279.0 1045.8 1279.5 1042.3 1280.0 1046.5 1280.5 1044.3 1281.0 1046.7 1281.5 1047.7 1282.0 1046.8 1282.5 1046.1 1283.0 1046.3 1283.5 1046.4 1284.0 1046.0 1284.5 1046.0 1285.0 1045.6 1285.5 1048.0 1286.0 1046.7 1286.5 1047.9 1287.0 1046.6 1287.5 1047.0 1288.0 1046.8 1288.5 1047.5 1289.0 1048.0 1289.5 1047.4 1290.0 1046.4 1290.5 1046.4 1291.0 1049.2 1291.5 1047.1 1292.0 1047.1 1292.5 1049.1 1293.0 1048.8 1293.5 1048.3 1294.0 1047.3 1294.5 1050.4 1295.0 1048.3 1295.5 1048.6 1296.0 1047.8 1296.5 1046.6 1297.0 1046.7 1297.5 1048.7 1298.0 1048.8 1298.5 1048.1 1299.0 1047.2 1299.5 1047.0 1300.0 1048.3 1300.5 1047.1 1301.0 1049.8 1301.5 1050.1 1302.0 1052.0 1302.5 1050.0 1303.0 1048.4 1303.5 1048.2 1304.0 1045.4 1304.5 1048.6 1305.0 1049.1 1305.5 1050.5 1306.0 1050.1 1306.5 1050.2 1307.0 1049.8 1307.5 1050.4 1308.0 1051.3 1308.5 1048.6 1309.0 1049.3 1309.5 1048.3 1310.0 1051.7 1310.5 1051.4 1311.0 1050.8 1311.5 1048.7 1312.0 1050.2 1312.5 1049.8 1313.0 1050.2 1313.5 1049.9 1314.0 1050.7 1314.5 1049.7 1315.0 1051.1 1315.5 1050.5 1316.0 1049.9 1316.5 1050.1 1317.0 1049.7 1317.5 1051.1 1318.0 1049.9 1318.5 1050.5 1319.0 1049.8 1319.5 1048.6 1320.0 1051.2 1320.5 1049.0 1321.0 1050.9 1321.5 1050.7 1322.0 1048.4 1322.5 1049.2 1323.0 1049.6 1323.5 1049.3 1324.0 1048.9 1324.5 1051.0 1325.0 1049.9 1325.5 1050.6 1326.0 1049.7 1326.5 1050.5 1327.0 1049.4 1327.5 1050.2 1328.0 1050.8 1328.5 1050.2 1329.0 1049.7 1329.5 1049.0 1330.0 1050.4 1330.5 1050.6 1331.0 1049.9 1331.5 1049.4 1332.0 1050.8 1332.5 1052.9 1333.0 1049.9 1333.5 1050.6 1334.0 1050.6 1334.5 1047.4 1335.0 1050.3 1335.5 1049.4 1336.0 1051.7 1336.5 1049.9 1337.0 1049.3 1337.5 1050.0 1338.0 1050.4 1338.5 1049.6 1339.0 1050.1 1339.5 1048.7 1340.0 1050.0 1340.5 1051.1 1341.0 1052.4 1341.5 1051.0 1342.0 1050.5 1342.5 1051.5 1343.0 1051.3 1343.5 1052.0 1344.0 1051.4 1344.5 1050.1 1345.0 1050.5 1345.5 1050.4 1346.0 1050.5 1346.5 1050.4 1347.0 1049.3 1347.5 1047.9 1348.0 1049.5 1348.5 1048.0 1349.0 1050.3 1349.5 1050.2 1350.0 1048.4 1350.5 1051.0 1351.0 1051.2 1351.5 1050.3 1352.0 1052.0 1352.5 1052.3 1353.0 1048.9 1353.5 1051.3 1354.0 1050.7 1354.5 1050.7 1355.0 1051.2 1355.5 1049.4 1356.0 1049.6 1356.5 1049.3 1357.0 1049.4 1357.5 1050.1 1358.0 1048.7 1358.5 1049.1 1359.0 1051.0 1359.5 1050.3 1360.0 1050.8 1360.5 1048.3 1361.0 1049.6 1361.5 1049.9 1362.0 1050.5 1362.5 1049.9 1363.0 1051.6 1363.5 1050.6 1364.0 1050.7 1364.5 1050.7 1365.0 1051.5 1365.5 1050.3 1366.0 1052.1 1366.5 1051.4 1367.0 1051.1 1367.5 1051.1 1368.0 1051.6 1368.5 1052.2 1369.0 1052.2 1369.5 1051.7 1370.0 1052.3 1370.5 1051.5 1371.0 1052.8 1371.5 1051.5 1372.0 1049.3 1372.5 1053.1 1373.0 1051.8 1373.5 1050.4 1374.0 1051.6 1374.5 1050.9 1375.0 1054.2 1375.5 1052.5 1376.0 1050.3 1376.5 1052.7 1377.0 1051.8 1377.5 1054.4 1378.0 1051.2 1378.5 1049.9 1379.0 1052.5 1379.5 1052.2 1380.0 1052.1 1380.5 1050.3 1381.0 1053.2 1381.5 1054.6 1382.0 1050.8 1382.5 1054.2 1383.0 1052.4 1383.5 1055.6 1384.0 1053.6 1384.5 1053.0 1385.0 1054.5 1385.5 1053.9 1386.0 1052.7 1386.5 1054.2 1387.0 1052.9 1387.5 1051.6 1388.0 1055.8 1388.5 1053.3 1389.0 1053.0 1389.5 1054.1 1390.0 1052.1 1390.5 1052.4 1391.0 1053.4 1391.5 1053.4 1392.0 1054.1 1392.5 1055.3 1393.0 1053.6 1393.5 1054.7 1394.0 1054.8 1394.5 1053.0 1395.0 1054.5 1395.5 1053.3 1396.0 1055.5 1396.5 1054.9 1397.0 1054.4 1397.5 1053.0 1398.0 1054.6 1398.5 1053.7 1399.0 1055.4 1399.5 1054.5 1400.0 1053.8 1400.5 1055.8 1401.0 1055.6 1401.5 1054.2 1402.0 1056.2 1402.5 1054.6 1403.0 1054.6 1403.5 1055.2 1404.0 1054.2 1404.5 1054.6 1405.0 1055.0 1405.5 1056.9 1406.0 1056.9 1406.5 1055.0 1407.0 1057.1 1407.5 1055.3 1408.0 1055.8 1408.5 1056.4 1409.0 1055.8 1409.5 1058.2 1410.0 1055.9 1410.5 1054.3 1411.0 1057.1 1411.5 1055.3 1412.0 1055.4 1412.5 1052.5 1413.0 1056.9 1413.5 1056.8 1414.0 1056.8 1414.5 1057.0 1415.0 1057.9 1415.5 1056.0 1416.0 1057.1 1416.5 1055.3 1417.0 1055.8 1417.5 1057.3 1418.0 1056.6 1418.5 1054.8 1419.0 1056.7 1419.5 1056.1 1420.0 1055.4 1420.5 1056.9 1421.0 1056.0 1421.5 1054.7 1422.0 1055.2 1422.5 1058.4 1423.0 1054.9 1423.5 1056.8 1424.0 1057.2 1424.5 1057.3 1425.0 1055.3 1425.5 1056.3 1426.0 1056.8 1426.5 1057.6 1427.0 1056.0 1427.5 1055.4 1428.0 1057.8 1428.5 1058.0 1429.0 1057.2 1429.5 1056.1 1430.0 1057.3 1430.5 1056.9 1431.0 1057.8 1431.5 1055.5 1432.0 1057.0 1432.5 1056.7 1433.0 1055.7 1433.5 1057.1 1434.0 1056.9 1434.5 1056.5 1435.0 1057.4 1435.5 1055.4 1436.0 1056.9 1436.5 1057.4 1437.0 1057.3 1437.5 1058.2 1438.0 1055.7 1438.5 1055.3 1439.0 1057.3 1439.5 1057.5 1440.0 1059.4 1440.5 1057.7 1441.0 1056.1 1441.5 1057.9 1442.0 1056.1 1442.5 1055.4 1443.0 1060.0 1443.5 1057.5 1444.0 1057.9 1444.5 1057.7 1445.0 1059.1 1445.5 1057.4 1446.0 1058.5 1446.5 1056.0 1447.0 1055.6 1447.5 1058.7 1448.0 1058.8 1448.5 1057.7 1449.0 1057.4 1449.5 1057.4 1450.0 1056.4 1450.5 1058.9 1451.0 1057.9 1451.5 1057.8 1452.0 1057.6 1452.5 1058.4 1453.0 1057.8 1453.5 1058.1 1454.0 1056.0 1454.5 1057.8 1455.0 1059.7 1455.5 1056.7 1456.0 1057.1 1456.5 1058.2 1457.0 1058.3 1457.5 1058.0 1458.0 1055.5 1458.5 1057.8 1459.0 1056.0 1459.5 1056.4 1460.0 1057.9 1460.5 1057.0 1461.0 1058.2 1461.5 1060.8 1462.0 1058.2 1462.5 1058.1 1463.0 1056.4 1463.5 1056.6 1464.0 1056.2 1464.5 1056.8 1465.0 1056.2 1465.5 1056.6 1466.0 1057.1 1466.5 1056.3 1467.0 1055.8 1467.5 1055.9 1468.0 1057.9 1468.5 1057.5 1469.0 1058.5 1469.5 1058.6 1470.0 1057.0 1470.5 1058.2 1471.0 1055.9 1471.5 1060.0 1472.0 1058.8 1472.5 1057.2 1473.0 1056.2 1473.5 1057.9 1474.0 1055.4 1474.5 1056.6 1475.0 1058.3 1475.5 1057.6 1476.0 1057.0 1476.5 1058.6 1477.0 1056.4 1477.5 1057.8 1478.0 1057.0 1478.5 1056.6 1479.0 1058.1 1479.5 1056.5 1480.0 1059.7 1480.5 1056.9 1481.0 1059.8 1481.5 1056.4 1482.0 1058.3 1482.5 1056.3 1483.0 1056.2 1483.5 1057.8 1484.0 1058.4 1484.5 1056.3 1485.0 1059.0 1485.5 1056.8 1486.0 1057.8 1486.5 1058.1 1487.0 1058.4 1487.5 1055.7 1488.0 1059.5 1488.5 1058.4 1489.0 1057.3 1489.5 1056.6 1490.0 1055.9 1490.5 1056.3 1491.0 1058.4 1491.5 1057.4 1492.0 1056.6 1492.5 1057.3 1493.0 1059.6 1493.5 1057.5 1494.0 1057.2 1494.5 1059.4 1495.0 1058.4 1495.5 1058.0 1496.0 1057.3 1496.5 1056.3 1497.0 1056.7 1497.5 1057.5 1498.0 1057.8 1498.5 1058.4 1499.0 1058.6 1499.5 1058.3 1500.0 1058.3 1500.5 1057.0 1501.0 1055.7 1501.5 1057.5 1502.0 1057.1 1502.5 1057.4 1503.0 1057.9 1503.5 1056.8 1504.0 1057.0 1504.5 1058.1 1505.0 1058.4 1505.5 1057.5 1506.0 1058.8 1506.5 1058.0 1507.0 1057.2 1507.5 1058.4 1508.0 1060.4 1508.5 1057.6 1509.0 1059.7 1509.5 1059.9 1510.0 1060.1 1510.5 1057.5 1511.0 1060.7 1511.5 1058.6 1512.0 1058.2 1512.5 1058.3 1513.0 1059.2 1513.5 1058.6 1514.0 1058.4 1514.5 1060.0 1515.0 1057.8 1515.5 1057.5 1516.0 1059.5 1516.5 1059.4 1517.0 1059.9 1517.5 1057.5 1518.0 1059.9 1518.5 1059.3 1519.0 1060.7 1519.5 1057.4 1520.0 1059.1 1520.5 1058.5 1521.0 1057.1 1521.5 1058.1 1522.0 1060.1 1522.5 1058.4 1523.0 1058.1 1523.5 1059.9 1524.0 1060.1 1524.5 1060.1 1525.0 1058.2 1525.5 1059.0 1526.0 1060.2 1526.5 1058.4 1527.0 1058.3 1527.5 1060.1 1528.0 1060.9 1528.5 1057.9 1529.0 1056.3 1529.5 1057.6 1530.0 1058.1 1530.5 1059.1 1531.0 1060.0 1531.5 1059.2 1532.0 1058.6 1532.5 1059.5 1533.0 1058.3 1533.5 1059.4 1534.0 1058.7 1534.5 1062.4 1535.0 1060.4 1535.5 1058.6 1536.0 1058.4 1536.5 1059.1 1537.0 1057.8 1537.5 1058.8" stroke="#000000"/>
<path d="M148.5 909.4 149.0 912.4 149.5 910.5 150.0 910.2 150.5 909.6 151.0 910.2 151.5 912.3 152.0 912.3 152.5 914.8 153.0 912.2 153.5 915.2 154.0 914.2 154.5 914.1 155.0 911.1 155.5 912.5 156.0 916.0 156.5 917.3 157.0 915.6 157.5 916.7 158.0 915.1 158.5 915.4 159.0 915.2 159.5 918.0 160.0 917.2 160.5 916.5 161.0 916.6 161.5 918.2 162.0 918.0 162.5 916.5 163.0 920.6 163.5 918.6 164.0 918.4 164.5 920.9 165.0 920.4 165.5 918.9 166.0 920.0 166.5 917.8 167.0 918.6 167.5 916.4 168.0 921.9 168.5 917.3 169.0 921.4 169.5 919.3 170.0 919.2 170.5 920.6 171.0 921.5 171.5 922.1 172.0 924.0 172.5 922.1 173.0 923.0 173.5 920.9 174.0 923.0 174.5 922.3 175.0 921.5 175.5 922.2 176.0 922.4 176.5 922.8 177.0 923.3 177.5 922.0 178.0 921.8 178.5 924.1 179.0 920.5 179.5 922.2 180.0 925.5 180.5 919.3 181.0 922.4 181.5 924.5 182.0 921.1 182.5 927.5 183.0 919.9 183.5 925.9 184.0 926.2 184.5 925.3 185.0 923.7 185.5 924.7 186.0 922.9 186.5 925.4 187.0 922.7 187.5 924.0 188.0 925.9 188.5 922.9 189.0 924.0 189.5 924.8 190.0 922.6 190.5 926.3 191.0 925.2 191.5 922.5 192.0 924.6 192.5 923.6 193.0 923.7 193.5 924.7 194.0 923.4 194.5 925.7 195.0 923.0 195.5 925.1 196.0 923.3 196.5 924.2 197.0 921.7 197.5 921.2 198.0 919.8 198.5 921.9 199.0 921.9 199.5 923.2 200.0 921.4 200.5 919.3 201.0 918.1 201.5 918.5 202.0 917.4 202.5 919.3 203.0 918.0 203.5 914.7 204.0 914.4 204.5 917.1 205.0 914.8 205.5 913.4 206.0 915.1 206.5 912.0 207.0 911.7 207.5 910.9 208.0 908.1 208.5 912.4 209.0 908.8 209.5 909.7 210.0 909.4 210.5 912.1 211.0 911.3 211.5 912.1 212.0 910.3 212.5 913.8 213.0 912.6 213.5 916.4 214.0 917.5 214.5 917.8 215.0 921.7 215.5 919.9 216.0 920.5 216.5 920.2 217.0 920.1 217.5 922.3 218.0 922.9 218.5 919.7 219.0 923.6 219.5 923.2 220.0 924.2 220.5 923.8 221.0 921.6 221.5 922.0 222.0 926.7 222.5 924.6 223.0 922.3 223.5 925.0 224.0 924.1 224.5 922.0 225.0 921.4 225.5 922.3 226.0 925.0 226.5 924.5 227.0 924.1 227.5 924.8 228.0 925.1 228.5 921.0 229.0 923.5 229.5 922.6 230.0 921.8 230.5 922.7 231.0 923.2 231.5 922.8 232.0 920.9 232.5 922.3 233.0 925.9 233.5 921.3 234.0 920.3 234.5 923.2 235.0 923.7 235.5 923.6 236.0 921.3 236.5 924.6 237.0 922.1 237.5 921.7 238.0 922.7 238.5 923.6 239.0 925.1 239.5 925.2 240.0 924.5 240.5 926.1 241.0 925.1 241.5 926.6 242.0 923.5 242.5 923.6 243.0 927.2 243.5 924.4 244.0 926.2 244.5 926.8 245.0 926.5 245.5 926.8 246.0 929.6 246.5 924.3 247.0 929.4 247.5 931.7 248.0 928.8 248.5 929.1 249.0 930.4 249.5 932.3 250.0 928.5 250.5 930.6 251.0 930.5 251.5 931.9 252.0 931.6 252.5 932.6 253.0 931.4 253.5 932.3 254.0 931.6 254.5 931.8 255.0 932.7 255.5 932.8 256.0 931.5 256.5 935.3 257.0 933.0 257.5 931.3 258.0 934.7 258.5 932.2 259.0 933.9 259.5 933.1 260.0 933.5 260.5 933.4 261.0 932.4 261.5 933.2 262.0 935.8 262.5 930.1 263.0 933.1 263.5 933.6 264.0 931.6 264.5 931.1 265.0 935.8 265.5 932.4 266.0 935.6 266.5 933.5 267.0 932.9 267.5 933.4 268.0 933.5 268.5 934.2 269.0 933.2 269.5 932.7 270.0 932.7 270.5 934.3 271.0 933.5 271.5 931.0 272.0 931.4 272.5 932.7 273.0 931.4 273.5 931.6 274.0 930.8 274.5 931.7 275.0 932.6 275.5 933.3 276.0 931.9 276.5 934.7 277.0 931.7 277.5 936.1 278.0 933.0 278.5 932.3 279.0 930.9 279.5 927.7 280.0 931.2 280.5 931.6 281.0 934.0 281.5 929.4 282.0 933.9 282.5 930.9 283.0 932.1 283.5 927.6 284.0 931.2 284.5 930.5 285.0 931.8 285.5 931.0 286.0 929.2 286.5 932.0 287.0 931.6 287.5 931.4 288.0 931.9 288.5 932.0 289.0 930.4 289.5 928.5 290.0 928.3 290.5 932.1 291.0 931.1 291.5 930.2 292.0 929.4 292.5 929.9 293.0 929.8 293.5 929.3 294.0 928.7 294.5 932.6 295.0 929.8 295.5 928.6 296.0 927.5 296.5 928.2 297.0 930.1 297.5 930.1 298.0 928.7 298.5 928.9 299.0 928.3 299.5 927.1 300.0 930.4 300.5 929.0 301.0 931.9 301.5 927.2 302.0 928.0 302.5 929.3 303.0 927.6 303.5 925.8 304.0 926.3 304.5 927.7 305.0 927.9 305.5 927.1 306.0 928.6 306.5 928.4 307.0 927.3 307.5 926.7 308.0 926.2 308.5 927.2 309.0 927.6 309.5 926.2 310.0 926.6 310.5 925.3 311.0 923.6 311.5 924.0 312.0 926.4 312.5 925.8 313.0 927.3 313.5 924.8 314.0 925.9 314.5 926.4 315.0 925.7 315.5 923.2 316.0 923.6 316.5 923.9 317.0 922.1 317.5 924.1 318.0 924.7 318.5 922.3 319.0 925.8 319.5 922.3 320.0 922.2 320.5 922.0 321.0 921.1 321.5 922.6 322.0 921.8 322.5 924.1 323.0 922.3 323.5 922.0 324.0 920.7 324.5 918.7 325.0 920.5 325.5 919.2 326.0 921.7 326.5 920.0 327.0 922.4 327.5 920.8 328.0 920.7 328.5 919.6 329.0 919.4 329.5 919.8 330.0 920.0 330.5 917.3 331.0 919.0 331.5 922.1 332.0 917.7 332.5 917.2 333.0 916.3 333.5 914.9 334.0 918.8 334.5 916.9 335.0 917.0 335.5 919.3 336.0 920.1 336.5 914.5 337.0 917.4 337.5 916.5 338.0 916.0 338.5 915.9 339.0 914.9 339.5 917.3 340.0 915.5 340.5 914.9 341.0 916.2 341.5 915.4 342.0 914.5 342.5 914.2 343.0 916.3 343.5 914.1 344.0 912.9 344.5 911.5 345.0 912.2 345.5 910.8 346.0 912.5 346.5 912.6 347.0 908.6 347.5 911.8 348.0 912.7 348.5 911.7 349.0 909.7 349.5 913.1 350.0 909.7 350.5 908.6 351.0 908.6 351.5 910.2 352.0 911.6 352.5 911.7 353.0 909.9 353.5 907.4 354.0 908.1 354.5 907.4 355.0 908.4 355.5 905.5 356.0 908.4 356.5 909.0 357.0 907.5 357.5 908.2 358.0 905.6 358.5 904.4 359.0 905.5 359.5 908.3 360.0 907.7 360.5 904.9 361.0 907.4 361.5 904.5 362.0 907.3 362.5 905.2 363.0 903.2 363.5 905.0 364.0 901.9 364.5 901.3 365.0 900.0 365.5 902.6 366.0 901.7 366.5 901.3 367.0 900.3 367.5 903.2 368.0 899.5 368.5 898.6 369.0 901.7 369.5 901.7 370.0 899.4 370.5 895.3 371.0 896.9 371.5 898.7 372.0 897.3 372.5 899.7 373.0 894.0 373.5 897.4 374.0 894.6 374.5 897.8 375.0 894.9 375.5 896.6 376.0 893.2 376.5 891.4 377.0 891.7 377.5 892.3 378.0 891.2 378.5 895.0 379.0 894.9 379.5 892.7 380.0 889.9 380.5 891.3 381.0 890.0 381.5 893.7 382.0 891.3 382.5 891.3 383.0 889.4 383.5 886.0 384.0 888.1 384.5 887.1 385.0 889.6 385.5 888.8 386.0 886.8 386.5 887.3 387.0 890.6 387.5 885.5 388.0 885.2 388.5 886.2 389.0 885.0 389.5 885.1 390.0 886.6 390.5 888.5 391.0 881.3 391.5 884.3 392.0 884.0 392.5 883.3 393.0 882.7 393.5 881.9 394.0 884.0 394.5 880.6 395.0 880.7 395.5 880.4 396.0 880.0 396.5 878.8 397.0 880.5 397.5 877.9 398.0 877.6 398.5 876.4 399.0 873.8 399.5 873.4 400.0 872.2 400.5 874.0 401.0 871.4 401.5 869.9 402.0 871.8 402.5 871.6 403.0 866.0 403.5 872.4 404.0 868.1 404.5 867.0 405.0 868.7 405.5 865.7 406.0 863.4 406.5 868.5 407.0 860.7 407.5 861.9 408.0 863.1 408.5 858.0 409.0 859.3 409.5 859.5 410.0 863.0 410.5 854.9 411.0 855.9 411.5 856.6 412.0 854.4 412.5 850.6 413.0 853.3 413.5 851.7 414.0 851.5 414.5 852.1 415.0 850.8 415.5 848.4 416.0 847.2 416.5 842.9 417.0 844.0 417.5 843.8 418.0 841.2 418.5 841.3 419.0 838.0 419.5 842.4 420.0 842.8 420.5 835.6 421.0 836.2 421.5 833.5 422.0 835.8 422.5 832.6 423.0 830.4 423.5 828.3 424.0 827.8 424.5 823.5 425.0 826.1 425.5 821.0 426.0 822.4 426.5 819.6 427.0 820.3 427.5 815.8 428.0 816.8 428.5 810.2 429.0 812.7 429.5 809.1 430.0 808.8 430.5 807.1 431.0 808.0 431.5 798.9 432.0 803.8 432.5 797.7 433.0 803.7 433.5 794.1 434.0 795.6 434.5 792.8 435.0 800.8 435.5 791.9 436.0 794.8 436.5 792.2 437.0 787.9 437.5 791.2 438.0 793.2 438.5 790.4 439.0 793.0 439.5 789.0 440.0 789.6 440.5 788.2 441.0 789.8 441.5 793.8 442.0 789.2 442.5 788.5 443.0 786.0 443.5 785.3 444.0 791.3 444.5 783.9 445.0 784.3 445.5 786.4 446.0 785.4 446.5 791.9 447.0 779.8 447.5 787.2 448.0 788.1 448.5 782.9 449.0 784.2 449.5 787.1 450.0 790.3 450.5 783.2 451.0 781.3 451.5 788.3 452.0 789.8 452.5 784.5 453.0 779.3 453.5 789.4 454.0 784.8 454.5 788.4 455.0 785.2 455.5 784.3 456.0 784.0 456.5 789.4 457.0 789.3 457.5 779.5 458.0 782.8 458.5 790.4 459.0 784.6 459.5 781.9 460.0 785.8 460.5 785.6 461.0 785.8 461.5 784.9 462.0 785.5 462.5 785.2 463.0 787.6 463.5 784.6 464.0 786.2 464.5 786.8 465.0 791.0 465.5 788.6 466.0 787.6 466.5 789.7 467.0 789.8 467.5 792.2 468.0 791.2 468.5 795.4 469.0 794.8 469.5 791.7 470.0 791.5 470.5 795.7 471.0 795.5 471.5 794.5 472.0 791.5 472.5 791.3 473.0 797.8 473.5 799.6 474.0 800.3 474.5 795.4 475.0 802.3 475.5 798.9 476.0 802.0 476.5 802.8 477.0 800.3 477.5 801.6 478.0 798.4 478.5 802.2 479.0 800.6 479.5 807.2 480.0 806.9 480.5 809.8 481.0 809.0 481.5 807.1 482.0 810.3 482.5 809.0 483.0 812.3 483.5 812.2 484.0 809.5 484.5 812.7 485.0 813.5 485.5 813.2 486.0 817.0 486.5 819.7 487.0 815.1 487.5 815.7 488.0 811.6 488.5 817.6 489.0 817.4 489.5 813.6 490.0 820.4 490.5 821.7 491.0 818.9 491.5 820.3 492.0 819.3 492.5 824.0 493.0 818.8 493.5 822.1 494.0 828.1 494.5 823.7 495.0 825.1 495.5 823.9 496.0 821.6 496.5 824.7 497.0 826.1 497.5 822.8 498.0 826.4 498.5 828.9 499.0 828.7 499.5 822.4 500.0 824.1 500.5 822.7 501.0 829.5 501.5 828.6 502.0 829.1 502.5 825.4 503.0 824.9 503.5 828.2 504.0 828.5 504.5 826.4 505.0 829.1 505.5 830.6 506.0 829.9 506.5 827.1 507.0 824.8 507.5 829.6 508.0 830.9 508.5 830.2 509.0 830.2 509.5 829.9 510.0 833.6 510.5 832.0 511.0 832.8 511.5 830.4 512.0 831.6 512.5 833.7 513.0 831.1 513.5 830.7 514.0 833.1 514.5 836.9 515.0 834.6 515.5 837.8 516.0 834.0 516.5 833.6 517.0 830.9 517.5 832.9 518.0 837.6 518.5 834.9 519.0 835.8 519.5 835.6 520.0 833.8 520.5 833.2 521.0 833.8 521.5 835.0 522.0 834.3 522.5 834.2 523.0 833.3 523.5 830.9 524.0 831.9 524.5 830.1 525.0 834.6 525.5 826.9 526.0 831.3 526.5 837.4 527.0 830.6 527.5 828.5 528.0 831.0 528.5 834.0 529.0 830.3 529.5 832.1 530.0 830.7 530.5 829.4 531.0 837.8 531.5 830.2 532.0 828.6 532.5 828.5 533.0 830.5 533.5 830.5 534.0 831.2 534.5 829.5 535.0 825.5 535.5 830.2 536.0 828.0 536.5 827.9 537.0 824.8 537.5 826.8 538.0 826.3 538.5 827.8 539.0 824.1 539.5 827.6 540.0 827.5 540.5 824.2 541.0 825.2 541.5 824.3 542.0 828.3 542.5 819.5 543.0 824.4 543.5 820.8 544.0 823.3 544.5 826.0 545.0 821.8 545.5 823.2 546.0 820.1 546.5 826.5 547.0 823.3 547.5 823.2 548.0 816.3 548.5 816.2 549.0 821.0 549.5 817.1 550.0 816.2 550.5 816.9 551.0 812.1 551.5 816.5 552.0 813.8 552.5 814.2 553.0 810.2 553.5 812.2 554.0 807.9 554.5 811.1 555.0 810.3 555.5 808.4 556.0 806.1 556.5 805.1 557.0 795.0 557.5 803.1 558.0 799.0 558.5 798.9 559.0 796.9 559.5 793.0 560.0 794.5 560.5 797.0 561.0 798.3 561.5 792.1 562.0 790.7 562.5 796.4 563.0 789.4 563.5 796.9 564.0 790.7 564.5 787.6 565.0 792.2 565.5 793.6 566.0 784.4 566.5 792.1 567.0 786.5 567.5 790.9 568.0 785.2 568.5 781.4 569.0 786.7 569.5 787.4 570.0 790.1 570.5 788.6 571.0 785.2 571.5 782.2 572.0 780.9 572.5 781.0 573.0 779.1 573.5 780.2 574.0 773.4 574.5 780.6 575.0 779.6 575.5 786.4 576.0 780.9 576.5 777.0 577.0 779.6 577.5 774.1 578.0 775.4 578.5 771.4 579.0 780.4 579.5 777.6 580.0 772.2 580.5 775.0 581.0 777.4 581.5 775.7 582.0 775.0 582.5 771.1 583.0 771.3 583.5 773.0 584.0 774.9 584.5 769.5 585.0 768.2 585.5 774.2 586.0 767.7 586.5 773.0 587.0 770.0 587.5 771.3 588.0 773.2 588.5 769.6 589.0 769.3 589.5 763.9 590.0 764.0 590.5 767.4 591.0 769.5 591.5 768.6 592.0 770.9 592.5 764.7 593.0 764.0 593.5 766.1 594.0 763.0 594.5 762.6 595.0 759.6 595.5 765.5 596.0 759.5 596.5 764.2 597.0 758.6 597.5 766.2 598.0 760.1 598.5 765.8 599.0 759.0 599.5 762.6 600.0 767.7 600.5 762.2 601.0 765.1 601.5 763.9 602.0 759.0 602.5 767.1 603.0 767.8 603.5 763.8 604.0 769.1 604.5 765.6 605.0 765.5 605.5 769.0 606.0 767.7 606.5 777.1 607.0 766.9 607.5 774.4 608.0 776.2 608.5 768.7 609.0 770.5 609.5 778.1 610.0 776.2 610.5 779.6 611.0 782.6 611.5 779.2 612.0 777.9 612.5 773.8 613.0 782.6 613.5 779.8 614.0 783.7 614.5 783.9 615.0 779.8 615.5 788.8 616.0 787.4 616.5 787.1 617.0 781.7 617.5 784.2 618.0 784.1 618.5 784.8 619.0 783.1 619.5 787.7 620.0 787.4 620.5 788.1 621.0 786.0 621.5 791.2 622.0 788.5 622.5 780.7 623.0 786.8 623.5 788.7 624.0 791.9 624.5 788.8 625.0 789.3 625.5 788.6 626.0 792.7 626.5 790.1 627.0 790.1 627.5 790.2 628.0 794.2 628.5 791.7 629.0 789.1 629.5 795.8 630.0 792.7 630.5 796.0 631.0 796.5 631.5 799.1 632.0 799.1 632.5 795.1 633.0 796.6 633.5 793.9 634.0 802.1 634.5 799.1 635.0 801.8 635.5 797.4 636.0 792.9 636.5 802.6 637.0 798.7 637.5 798.8 638.0 798.6 638.5 800.1 639.0 799.7 639.5 793.8 640.0 800.8 640.5 796.3 641.0 796.2 641.5 801.9 642.0 799.4 642.5 795.8 643.0 791.4 643.5 796.5 644.0 797.2 644.5 795.2 645.0 791.7 645.5 792.6 646.0 791.0 646.5 794.6 647.0 795.9 647.5 796.1 648.0 791.0 648.5 793.3 649.0 793.8 649.5 790.5 650.0 791.1 650.5 797.0 651.0 791.3 651.5 792.7 652.0 788.7 652.5 789.5 653.0 784.2 653.5 788.3 654.0 791.2 654.5 793.2 655.0 790.2 655.5 788.2 656.0 785.9 656.5 783.5 657.0 784.2 657.5 785.7 658.0 781.3 658.5 785.5 659.0 779.5 659.5 776.6 660.0 778.1 660.5 775.6 661.0 775.6 661.5 781.9 662.0 777.2 662.5 777.5 663.0 779.3 663.5 778.6 664.0 772.7 664.5 777.0 665.0 773.4 665.5 771.4 666.0 771.8 666.5 765.5 667.0 766.6 667.5 767.9 668.0 769.3 668.5 765.9 669.0 766.1 669.5 768.9 670.0 769.8 670.5 767.5 671.0 768.5 671.5 763.3 672.0 763.2 672.5 764.7 673.0 762.6 673.5 761.7 674.0 767.8 674.5 762.2 675.0 759.8 675.5 764.0 676.0 768.0 676.5 763.0 677.0 766.6 677.5 762.1 678.0 762.5 678.5 762.5 679.0 764.7 679.5 771.2 680.0 763.3 680.5 772.2 681.0 765.4 681.5 768.5 682.0 772.5 682.5 772.8 683.0 772.7 683.5 768.1 684.0 774.7 684.5 771.6 685.0 782.7 685.5 775.7 686.0 777.9 686.5 775.1 687.0 778.1 687.5 776.9 688.0 784.4 688.5 782.0 689.0 785.5 689.5 783.2 690.0 784.9 690.5 791.1 691.0 786.0 691.5 784.9 692.0 792.2 692.5 789.1 693.0 792.2 693.5 796.9 694.0 793.4 694.5 799.1 695.0 796.0 695.5 802.9 696.0 803.6 696.5 799.9 697.0 801.7 697.5 801.2 698.0 805.1 698.5 808.7 699.0 803.0 699.5 810.3 700.0 805.6 700.5 807.9 701.0 806.6 701.5 817.7 702.0 813.5 702.5 815.1 703.0 813.8 703.5 819.2 704.0 812.2 704.5 818.6 705.0 825.0 705.5 819.5 706.0 821.4 706.5 824.0 707.0 821.2 707.5 824.2 708.0 827.5 708.5 826.5 709.0 827.9 709.5 827.1 710.0 829.7 710.5 830.1 711.0 834.5 711.5 833.8 712.0 832.6 712.5 828.4 713.0 837.2 713.5 838.6 714.0 836.1 714.5 835.0 715.0 838.5 715.5 844.8 716.0 841.7 716.5 844.6 717.0 847.6 717.5 851.3 718.0 849.7 718.5 850.7 719.0 850.8 719.5 856.6 720.0 856.2 720.5 854.4 721.0 852.2 721.5 854.3 722.0 858.1 722.5 856.0 723.0 860.3 723.5 859.9 724.0 860.6 724.5 862.1 725.0 862.6 725.5 860.5 726.0 862.4 726.5 868.9 727.0 862.1 727.5 864.5 728.0 868.5 728.5 866.7 729.0 866.2 729.5 865.9 730.0 870.6 730.5 872.4 731.0 873.9 731.5 872.0 732.0 874.8 732.5 871.3 733.0 874.6 733.5 873.7 734.0 876.3 734.5 878.3 735.0 879.7 735.5 876.5 736.0 881.8 736.5 879.2 737.0 878.9 737.5 881.5 738.0 879.8 738.5 883.4 739.0 884.8 739.5 884.6 740.0 886.8 740.5 885.9 741.0 887.2 741.5 885.2 742.0 888.7 742.5 887.6 743.0 889.1 743.5 890.4 744.0 891.6 744.5 888.8 745.0 889.6 745.5 892.6 746.0 894.6 746.5 895.0 747.0 896.6 747.5 897.9 748.0 897.0 748.5 896.7 749.0 895.4 749.5 896.1 750.0 897.5 750.5 899.4 751.0 899.8 751.5 899.9 752.0 900.1 752.5 901.9 753.0 901.6 753.5 902.2 754.0 902.7 754.5 901.6 755.0 901.2 755.5 904.2 756.0 904.4 756.5 903.7 757.0 903.8 757.5 908.7 758.0 903.9 758.5 905.2 759.0 906.3 759.5 904.3 760.0 906.7 760.5 909.9 761.0 908.8 761.5 908.6 762.0 908.9 762.5 908.4 763.0 910.1 763.5 908.6 764.0 908.5 764.5 909.7 765.0 911.4 765.5 910.8 766.0 911.7 766.5 907.6 767.0 913.3 767.5 915.5 768.0 914.3 768.5 912.0 769.0 911.6 769.5 913.8 770.0 912.2 770.5 915.3 771.0 913.7 771.5 916.5 772.0 917.5 772.5 912.6 773.0 916.6 773.5 915.5 774.0 914.7 774.5 916.4 775.0 917.3 775.5 919.6 776.0 916.0 776.5 920.3 777.0 922.0 777.5 920.1 778.0 920.3 778.5 919.7 779.0 918.1 779.5 920.9 780.0 920.9 780.5 921.6 781.0 924.5 781.5 921.9 782.0 921.6 782.5 923.4 783.0 919.2 783.5 919.6 784.0 920.9 784.5 920.6 785.0 922.8 785.5 921.4 786.0 924.6 786.5 924.4 787.0 923.3 787.5 921.7 788.0 923.3 788.5 923.7 789.0 921.0 789.5 923.2 790.0 923.9 790.5 923.3 791.0 925.4 791.5 924.9 792.0 922.0 792.5 923.6 793.0 922.3 793.5 924.5 794.0 922.4 794.5 925.2 795.0 924.6 795.5 925.5 796.0 924.0 796.5 922.3 797.0 927.1 797.5 924.5 798.0 926.9 798.5 925.7 799.0 926.2 799.5 928.0 800.0 926.0 800.5 927.7 801.0 923.7 801.5 927.3 802.0 925.8 802.5 926.2 803.0 926.5 803.5 927.2 804.0 929.2 804.5 924.3 805.0 927.2 805.5 926.2 806.0 929.1 806.5 926.9 807.0 928.3 807.5 927.2 808.0 928.8 808.5 929.4 809.0 927.5 809.5 928.2 810.0 926.3 810.5 928.8 811.0 929.6 811.5 927.6 812.0 930.0 812.5 925.6 813.0 925.9 813.5 926.5 814.0 927.8 814.5 928.5 815.0 928.4 815.5 928.4 816.0 929.4 816.5 927.7 817.0 926.6 817.5 926.6 818.0 931.3 818.5 924.9 819.0 927.9 819.5 930.2 820.0 928.8 820.5 926.9 821.0 928.0 821.5 929.1 822.0 929.6 822.5 926.5 823.0 928.8 823.5 928.0 824.0 929.2 824.5 929.5 825.0 927.0 825.5 925.4 826.0 927.9 826.5 929.8 827.0 928.2 827.5 927.5 828.0 930.5 828.5 925.6 829.0 928.3 829.5 926.1 830.0 927.0 830.5 927.0 831.0 929.0 831.5 925.4 832.0 926.0 832.5 924.4 833.0 927.4 833.5 926.0 834.0 927.2 834.5 925.1 835.0 926.1 835.5 928.1 836.0 926.4 836.5 927.5 837.0 927.4 837.5 926.1 838.0 924.4 838.5 928.1 839.0 927.0 839.5 928.2 840.0 923.9 840.5 924.5 841.0 923.8 841.5 925.7 842.0 928.5 842.5 927.9 843.0 927.1 843.5 927.4 844.0 928.4 844.5 926.9 845.0 928.0 845.5 927.7 846.0 924.5 846.5 927.1 847.0 929.7 847.5 927.3 848.0 927.7 848.5 927.2 849.0 927.4 849.5 929.8 850.0 927.9 850.5 927.0 851.0 924.1 851.5 927.8 852.0 926.0 852.5 926.3 853.0 930.1 853.5 930.2 854.0 926.7 854.5 930.7 855.0 930.4 855.5 928.8 856.0 931.1 856.5 928.1 857.0 928.9 857.5 928.8 858.0 929.5 858.5 932.5 859.0 929.7 859.5 930.2 860.0 930.7 860.5 932.5 861.0 932.1 861.5 933.9 862.0 932.1 862.5 931.6 863.0 932.9 863.5 933.9 864.0 932.8 864.5 934.7 865.0 937.0 865.5 934.1 866.0 935.1 866.5 937.1 867.0 934.8 867.5 934.8 868.0 934.8 868.5 937.0 869.0 937.5 869.5 936.9 870.0 937.5 870.5 939.4 871.0 939.2 871.5 936.7 872.0 938.7 872.5 939.2 873.0 940.3 873.5 939.4 874.0 939.2 874.5 939.8 875.0 938.5 875.5 940.9 876.0 940.5 876.5 942.0 877.0 940.5 877.5 941.4 878.0 941.0 878.5 941.1 879.0 943.3 879.5 942.1 880.0 943.3 880.5 941.6 881.0 943.2 881.5 941.2 882.0 942.8 882.5 942.9 883.0 944.3 883.5 944.0 884.0 943.7 884.5 945.0 885.0 944.4 885.5 944.9 886.0 945.3 886.5 944.5 887.0 944.3 887.5 945.2 888.0 944.4 888.5 945.4 889.0 946.4 889.5 946.2 890.0 944.9 890.5 943.9 891.0 945.4 891.5 945.4 892.0 946.9 892.5 945.3 893.0 945.6 893.5 946.7 894.0 945.4 894.5 945.8 895.0 948.0 895.5 947.8 896.0 946.9 896.5 946.5 897.0 945.2 897.5 946.9 898.0 946.4 898.5 946.6 899.0 945.8 899.5 946.4 900.0 946.3 900.5 946.8 901.0 948.1 901.5 947.0 902.0 944.7 902.5 945.5 903.0 944.9 903.5 945.8 904.0 947.3 904.5 947.2 905.0 946.1 905.5 947.1 906.0 946.0 906.5 945.2 907.0 945.3 907.5 945.9 908.0 948.5 908.5 945.4 909.0 948.3 909.5 948.4 910.0 946.8 910.5 946.9 911.0 946.3 911.5 947.0 912.0 947.8 912.5 947.1 913.0 948.2 913.5 948.4 914.0 947.5 914.5 947.5 915.0 947.1 915.5 947.6 916.0 946.0 916.5 947.7 917.0 947.4 917.5 946.3 918.0 949.6 918.5 946.2 919.0 946.3 919.5 947.6 920.0 945.1 920.5 946.4 921.0 945.6 921.5 946.2 922.0 947.2 922.5 947.7 923.0 948.5 923.5 948.2 924.0 948.6 924.5 948.0 925.0 946.8 925.5 948.6 926.0 946.8 926.5 946.7 927.0 949.0 927.5 948.2 928.0 947.6 928.5 948.2 929.0 948.3 929.5 945.8 930.0 947.2 930.5 946.0 931.0 947.5 931.5 946.6 932.0 948.8 932.5 947.9 933.0 946.4 933.5 947.3 934.0 946.0 934.5 947.4 935.0 947.9 935.5 947.6 936.0 945.2 936.5 947.0 937.0 947.9 937.5 947.7 938.0 948.6 938.5 945.9 939.0 947.9 939.5 946.6 940.0 947.6 940.5 947.8 941.0 948.1 941.5 946.7 942.0 947.5 942.5 946.0 943.0 945.8 943.5 948.0 944.0 947.3 944.5 945.5 945.0 946.4 945.5 947.4 946.0 949.1 946.5 948.5 947.0 948.2 947.5 945.4 948.0 947.2 948.5 947.9 949.0 947.8 949.5 947.8 950.0 947.1 950.5 949.3 951.0 949.0 951.5 947.2 952.0 946.3 952.5 949.6 953.0 946.7 953.5 948.7 954.0 949.4 954.5 946.3 955.0 947.7 955.5 947.0 956.0 947.9 956.5 947.7 957.0 949.5 957.5 948.0 958.0 947.3 958.5 948.6 959.0 947.0 959.5 946.9 960.0 949.8 960.5 946.4 961.0 946.8 961.5 947.4 962.0 946.2 962.5 945.0 963.0 948.5 963.5 946.5 964.0 946.7 964.5 946.9 965.0 946.3 965.5 946.2 966.0 947.5 966.5 950.0 967.0 948.2 967.5 948.2 968.0 945.7 968.5 947.4 969.0 946.1 969.5 948.3 970.0 947.2 970.5 947.5 971.0 947.4 971.5 946.8 972.0 945.8 972.5 948.2 973.0 946.0 973.5 946.3 974.0 947.3 974.5 946.8 975.0 947.9 975.5 948.8 976.0 948.0 976.5 947.9 977.0 947.8 977.5 948.7 978.0 945.7 978.5 948.2 979.0 946.8 979.5 946.5 980.0 947.9 980.5 947.5 981.0 948.6 981.5 949.1 982.0 945.4 982.5 947.9 983.0 950.1 983.5 949.0 984.0 949.6 984.5 948.2 985.0 946.5 985.5 946.8 986.0 948.9 986.5 949.1 987.0 947.3 987.5 947.8 988.0 948.4 988.5 946.2 989.0 947.7 989.5 949.9 990.0 950.5 990.5 948.0 991.0 950.1 991.5 947.5 992.0 947.2 992.5 945.6 993.0 949.1 993.5 947.7 994.0 950.6 994.5 948.4 995.0 948.2 995.5 946.0 996.0 949.6 996.5 947.6 997.0 947.8 997.5 945.5 998.0 948.9 998.5 948.9 999.0 947.2 999.5 947.9 1000.0 948.2 1000.5 948.8 1001.0 947.8 1001.5 949.5 1002.0 947.3 1002.5 946.9 1003.0 947.0 1003.5 944.7 1004.0 946.6 1004.5 948.5 1005.0 947.7 1005.5 946.4 1006.0 947.7 1006.5 945.0 1007.0 946.9 1007.5 947.8 1008.0 947.9 1008.5 946.3 1009.0 948.1 1009.5 949.1 1010.0 946.5 1010.5 947.8 1011.0 945.2 1011.5 944.7 1012.0 947.5 1012.5 946.8 1013.0 946.9 1013.5 946.0 1014.0 946.3 1014.5 947.4 1015.0 948.4 1015.5 946.2 1016.0 944.5 1016.5 947.7 1017.0 946.9 1017.5 946.9 1018.0 946.3 1018.5 948.6 1019.0 946.0 1019.5 946.5 1020.0 943.7 1020.5 945.1 1021.0 944.9 1021.5 945.6 1022.0 945.9 1022.5 944.6 1023.0 947.3 1023.5 944.1 1024.0 944.7 1024.5 945.4 1025.0 943.6 1025.5 945.6 1026.0 945.6 1026.5 944.5 1027.0 947.0 1027.5 944.8 1028.0 944.9 1028.5 943.4 1029.0 942.5 1029.5 943.6 1030.0 943.9 1030.5 943.7 1031.0 945.0 1031.5 941.3 1032.0 942.7 1032.5 941.8 1033.0 945.4 1033.5 943.1 1034.0 943.1 1034.5 942.3 1035.0 944.6 1035.5 943.0 1036.0 943.7 1036.5 941.0 1037.0 944.7 1037.5 943.7 1038.0 943.8 1038.5 944.5 1039.0 942.8 1039.5 942.8 1040.0 943.7 1040.5 943.3 1041.0 942.5 1041.5 942.7 1042.0 942.0 1042.5 943.4 1043.0 943.6 1043.5 942.4 1044.0 944.6 1044.5 940.5 1045.0 942.0 1045.5 944.2 1046.0 941.6 1046.5 940.1 1047.0 943.6 1047.5 942.6 1048.0 940.4 1048.5 942.7 1049.0 940.5 1049.5 940.0 1050.0 941.4 1050.5 940.9 1051.0 940.1 1051.5 940.9 1052.0 940.1 1052.5 941.3 1053.0 941.2 1053.5 942.0 1054.0 940.5 1054.5 939.4 1055.0 939.3 1055.5 940.5 1056.0 942.7 1056.5 941.7 1057.0 939.9 1057.5 941.7 1058.0 939.1 1058.5 941.7 1059.0 939.9 1059.5 941.2 1060.0 941.0 1060.5 939.8 1061.0 940.5 1061.5 938.7 1062.0 939.9 1062.5 941.2 1063.0 944.9 1063.5 940.6 1064.0 939.8 1064.5 938.3 1065.0 940.8 1065.5 937.4 1066.0 938.4 1066.5 939.7 1067.0 937.7 1067.5 941.0 1068.0 940.4 1068.5 938.2 1069.0 938.2 1069.5 937.1 1070.0 936.9 1070.5 939.1 1071.0 939.2 1071.5 938.8 1072.0 938.6 1072.5 937.4 1073.0 938.5 1073.5 936.1 1074.0 937.9 1074.5 939.6 1075.0 939.3 1075.5 936.9 1076.0 937.0 1076.5 939.1 1077.0 939.5 1077.5 935.2 1078.0 936.5 1078.5 937.2 1079.0 938.4 1079.5 935.7 1080.0 937.5 1080.5 936.2 1081.0 939.6 1081.5 937.0 1082.0 936.2 1082.5 935.8 1083.0 937.6 1083.5 937.0 1084.0 934.7 1084.5 936.3 1085.0 934.2 1085.5 934.9 1086.0 934.2 1086.5 934.1 1087.0 934.9 1087.5 934.5 1088.0 936.5 1088.5 936.8 1089.0 935.4 1089.5 934.3 1090.0 936.8 1090.5 933.1 1091.0 933.2 1091.5 936.7 1092.0 936.6 1092.5 937.0 1093.0 935.5 1093.5 934.1 1094.0 935.1 1094.5 936.6 1095.0 934.8 1095.5 934.9 1096.0 934.0 1096.5 934.4 1097.0 937.0 1097.5 936.5 1098.0 934.4 1098.5 934.5 1099.0 935.2 1099.5 936.7 1100.0 934.5 1100.5 935.8 1101.0 933.3 1101.5 934.5 1102.0 936.7 1102.5 937.3 1103.0 934.7 1103.5 935.2 1104.0 937.3 1104.5 935.8 1105.0 935.6 1105.5 937.0 1106.0 936.6 1106.5 937.8 1107.0 937.4 1107.5 935.7 1108.0 936.3 1108.5 936.4 1109.0 934.8 1109.5 935.3 1110.0 937.9 1110.5 934.6 1111.0 938.0 1111.5 937.1 1112.0 936.6 1112.5 937.5 1113.0 937.4 1113.5 938.4 1114.0 936.4 1114.5 936.6 1115.0 936.7 1115.5 939.4 1116.0 938.3 1116.5 935.9 1117.0 936.7 1117.5 936.3 1118.0 937.3 1118.5 937.6 1119.0 940.3 1119.5 935.1 1120.0 938.8 1120.5 938.1 1121.0 936.8 1121.5 937.5 1122.0 937.2 1122.5 937.9 1123.0 939.2 1123.5 936.1 1124.0 939.7 1124.5 937.7 1125.0 940.1 1125.5 938.8 1126.0 939.9 1126.5 939.2 1127.0 939.9 1127.5 938.7 1128.0 937.6 1128.5 939.6 1129.0 939.7 1129.5 941.6 1130.0 936.5 1130.5 938.8 1131.0 940.5 1131.5 937.7 1132.0 939.0 1132.5 942.0 1133.0 941.2 1133.5 938.5 1134.0 941.4 1134.5 941.2 1135.0 940.7 1135.5 940.3 1136.0 940.2 1136.5 938.9 1137.0 939.4 1137.5 941.1 1138.0 940.4 1138.5 942.6 1139.0 940.0 1139.5 937.5 1140.0 940.1 1140.5 940.9 1141.0 941.1 1141.5 940.8 1142.0 939.8 1142.5 942.7 1143.0 940.1 1143.5 941.9 1144.0 940.7 1144.5 939.7 1145.0 942.9 1145.5 938.3 1146.0 940.3 1146.5 942.0 1147.0 941.1 1147.5 942.5 1148.0 941.6 1148.5 941.2 1149.0 944.4 1149.5 941.7 1150.0 941.8 1150.5 940.8 1151.0 941.3 1151.5 943.0 1152.0 943.0 1152.5 942.4 1153.0 941.6 1153.5 943.4 1154.0 940.6 1154.5 942.3 1155.0 942.5 1155.5 941.8 1156.0 943.1 1156.5 942.2 1157.0 942.1 1157.5 945.3 1158.0 944.1 1158.5 944.7 1159.0 943.4 1159.5 944.5 1160.0 944.4 1160.5 945.0 1161.0 946.4 1161.5 943.4 1162.0 944.0 1162.5 943.7 1163.0 939.7 1163.5 942.2 1164.0 943.9 1164.5 944.7 1165.0 943.3 1165.5 945.4 1166.0 945.6 1166.5 943.7 1167.0 945.8 1167.5 946.3 1168.0 944.8 1168.5 943.1 1169.0 946.0 1169.5 944.1 1170.0 943.9 1170.5 944.5 1171.0 943.8 1171.5 945.7 1172.0 945.4 1172.5 945.9 1173.0 945.2 1173.5 943.6 1174.0 944.4 1174.5 945.6 1175.0 944.1 1175.5 948.0 1176.0 944.3 1176.5 944.0 1177.0 946.0 1177.5 945.5 1178.0 944.7 1178.5 944.4 1179.0 945.2 1179.5 945.7 1180.0 945.6 1180.5 944.4 1181.0 945.3 1181.5 945.8 1182.0 945.7 1182.5 941.3 1183.0 943.8 1183.5 944.0 1184.0 944.6 1184.5 945.1 1185.0 946.0 1185.5 945.6 1186.0 944.8 1186.5 945.0 1187.0 947.0 1187.5 944.3 1188.0 945.3 1188.5 946.8 1189.0 945.4 1189.5 942.7 1190.0 945.5 1190.5 944.6 1191.0 944.9 1191.5 946.3 1192.0 945.6 1192.5 944.8 1193.0 946.2 1193.5 945.7 1194.0 945.3 1194.5 945.5 1195.0 945.5 1195.5 944.8 1196.0 944.7 1196.5 945.3 1197.0 944.2 1197.5 943.9 1198.0 946.8 1198.5 945.1 1199.0 945.4 1199.5 945.3 1200.0 945.5 1200.5 945.5 1201.0 945.6 1201.5 944.6 1202.0 946.6 1202.5 944.8 1203.0 946.8 1203.5 943.5 1204.0 944.5 1204.5 946.8 1205.0 945.6 1205.5 945.0 1206.0 946.2 1206.5 944.7 1207.0 946.0 1207.5 943.4 1208.0 945.4 1208.5 945.3 1209.0 946.6 1209.5 947.0 1210.0 945.1 1210.5 947.9 1211.0 945.5 1211.5 943.9 1212.0 943.6 1212.5 948.0 1213.0 946.2 1213.5 945.6 1214.0 945.5 1214.5 945.2 1215.0 948.0 1215.5 946.4 1216.0 948.5 1216.5 946.3 1217.0 944.0 1217.5 947.6 1218.0 946.3 1218.5 946.5 1219.0 948.5 1219.5 946.5 1220.0 948.1 1220.5 946.9 1221.0 946.1 1221.5 947.5 1222.0 946.3 1222.5 948.4 1223.0 948.1 1223.5 947.1 1224.0 947.8 1224.5 947.8 1225.0 946.9 1225.5 948.2 1226.0 947.0 1226.5 948.0 1227.0 946.3 1227.5 947.5 1228.0 947.9 1228.5 946.6 1229.0 947.0 1229.5 946.9 1230.0 948.4 1230.5 946.8 1231.0 948.1 1231.5 949.4 1232.0 948.1 1232.5 946.0 1233.0 948.0 1233.5 949.0 1234.0 947.6 1234.5 949.2 1235.0 948.7 1235.5 948.5 1236.0 947.8 1236.5 947.6 1237.0 947.9 1237.5 948.3 1238.0 948.8 1238.5 948.8 1239.0 948.0 1239.5 948.4 1240.0 948.8 1240.5 946.7 1241.0 947.7 1241.5 947.7 1242.0 948.4 1242.5 948.3 1243.0 948.4 1243.5 947.7 1244.0 949.5 1244.5 949.1 1245.0 947.0 1245.5 948.8 1246.0 947.6 1246.5 950.8 1247.0 948.4 1247.5 948.5 1248.0 949.0 1248.5 948.8 1249.0 948.9 1249.5 950.7 1250.0 949.3 1250.5 950.0 1251.0 950.3 1251.5 948.0 1252.0 951.0 1252.5 949.9 1253.0 950.2 1253.5 948.2 1254.0 950.0 1254.5 949.6 1255.0 948.5 1255.5 951.6 1256.0 949.8 1256.5 948.9 1257.0 949.4 1257.5 950.1 1258.0 950.4 1258.5 949.8 1259.0 950.5 1259.5 950.8 1260.0 947.8 1260.5 948.6 1261.0 948.1 1261.5 949.3 1262.0 950.7 1262.5 949.9 1263.0 948.0 1263.5 948.8 1264.0 950.3 1264.5 948.6 1265.0 949.1 1265.5 949.5 1266.0 947.2 1266.5 950.0 1267.0 949.6 1267.5 949.8 1268.0 948.1 1268.5 948.3 1269.0 948.5 1269.5 949.5 1270.0 949.3 1270.5 949.3 1271.0 951.2 1271.5 950.6 1272.0 948.4 1272.5 948.5 1273.0 951.1 1273.5 948.8 1274.0 950.7 1274.5 951.0 1275.0 948.6 1275.5 948.9 1276.0 949.3 1276.5 948.3 1277.0 948.1 1277.5 948.8 1278.0 950.2 1278.5 948.7 1279.0 949.0 1279.5 948.7 1280.0 947.7 1280.5 950.9 1281.0 946.7 1281.5 948.6 1282.0 950.0 1282.5 947.8 1283.0 950.1 1283.5 950.8 1284.0 948.6 1284.5 949.8 1285.0 948.4 1285.5 950.2 1286.0 949.8 1286.5 950.0 1287.0 951.4 1287.5 950.4 1288.0 951.5 1288.5 950.8 1289.0 948.8 1289.5 950.5 1290.0 950.9 1290.5 948.8 1291.0 952.0 1291.5 950.7 1292.0 951.1 1292.5 949.8 1293.0 950.9 1293.5 951.3 1294.0 950.7 1294.5 951.3 1295.0 948.9 1295.5 952.9 1296.0 950.2 1296.5 949.2 1297.0 950.6 1297.5 950.9 1298.0 952.5 1298.5 951.0 1299.0 952.4 1299.5 951.1 1300.0 954.7 1300.5 953.0 1301.0 954.7 1301.5 951.5 1302.0 953.5 1302.5 951.8 1303.0 953.6 1303.5 953.8 1304.0 951.4 1304.5 952.0 1305.0 952.0 1305.5 951.8 1306.0 952.7 1306.5 952.6 1307.0 952.1 1307.5 953.9 1308.0 954.5 1308.5 952.5 1309.0 953.4 1309.5 954.1 1310.0 953.9 1310.5 953.5 1311.0 955.2 1311.5 955.3 1312.0 955.2 1312.5 954.3 1313.0 956.8 1313.5 956.6 1314.0 954.3 1314.5 954.6 1315.0 956.1 1315.5 954.0 1316.0 955.3 1316.5 955.0 1317.0 954.2 1317.5 954.7 1318.0 953.3 1318.5 954.4 1319.0 952.8 1319.5 957.6 1320.0 956.7 1320.5 956.5 1321.0 955.5 1321.5 956.3 1322.0 956.6 1322.5 956.3 1323.0 956.2 1323.5 954.3 1324.0 955.7 1324.5 954.7 1325.0 954.0 1325.5 954.1 1326.0 955.8 1326.5 956.5 1327.0 953.9 1327.5 957.3 1328.0 957.1 1328.5 955.0 1329.0 955.0 1329.5 955.4 1330.0 956.6 1330.5 955.1 1331.0 954.3 1331.5 955.9 1332.0 953.3 1332.5 955.7 1333.0 956.9 1333.5 956.0 1334.0 956.5 1334.5 956.2 1335.0 956.5 1335.5 955.8 1336.0 954.8 1336.5 955.5 1337.0 955.6 1337.5 957.1 1338.0 957.5 1338.5 956.2 1339.0 954.9 1339.5 955.0 1340.0 955.6 1340.5 957.3 1341.0 956.2 1341.5 955.8 1342.0 955.0 1342.5 956.8 1343.0 956.2 1343.5 955.8 1344.0 956.0 1344.5 957.8 1345.0 955.7 1345.5 957.8 1346.0 957.3 1346.5 956.0 1347.0 956.9 1347.5 955.8 1348.0 955.1 1348.5 955.7 1349.0 955.0 1349.5 956.6 1350.0 956.1 1350.5 956.7 1351.0 957.0 1351.5 952.6 1352.0 956.4 1352.5 954.1 1353.0 956.3 1353.5 955.2 1354.0 956.3 1354.5 957.7 1355.0 954.3 1355.5 956.4 1356.0 956.1 1356.5 954.1 1357.0 956.9 1357.5 956.3 1358.0 955.7 1358.5 955.5 1359.0 959.8 1359.5 955.9 1360.0 954.3 1360.5 955.3 1361.0 955.9 1361.5 955.9 1362.0 956.3 1362.5 955.2 1363.0 957.0 1363.5 955.9 1364.0 954.9 1364.5 955.5 1365.0 956.0 1365.5 957.4 1366.0 957.0 1366.5 956.1 1367.0 956.6 1367.5 956.8 1368.0 958.8 1368.5 955.9 1369.0 957.1 1369.5 957.4 1370.0 955.6 1370.5 956.9 1371.0 956.9 1371.5 956.2 1372.0 957.4 1372.5 957.9 1373.0 958.0 1373.5 956.6 1374.0 957.0 1374.5 959.5 1375.0 955.7 1375.5 957.2 1376.0 957.9 1376.5 957.1 1377.0 957.7 1377.5 957.2 1378.0 957.9 1378.5 958.5 1379.0 956.9 1379.5 957.4 1380.0 957.1 1380.5 956.8 1381.0 957.2 1381.5 956.1 1382.0 958.2 1382.5 959.2 1383.0 959.3 1383.5 958.8 1384.0 956.4 1384.5 959.2 1385.0 956.8 1385.5 957.5 1386.0 959.7 1386.5 956.5 1387.0 958.6 1387.5 958.1 1388.0 957.6 1388.5 956.9 1389.0 958.4 1389.5 957.4 1390.0 959.1 1390.5 959.4 1391.0 956.5 1391.5 957.6 1392.0 957.8 1392.5 956.9 1393.0 957.0 1393.5 958.4 1394.0 958.1 1394.5 956.6 1395.0 957.8 1395.5 959.0 1396.0 957.2 1396.5 957.6 1397.0 960.4 1397.5 960.1 1398.0 956.9 1398.5 957.3 1399.0 959.2 1399.5 957.5 1400.0 958.6 1400.5 958.5 1401.0 959.6 1401.5 956.3 1402.0 956.7 1402.5 957.8 1403.0 960.3 1403.5 959.1 1404.0 957.4 1404.5 959.9 1405.0 960.2 1405.5 959.2 1406.0 959.1 1406.5 960.0 1407.0 960.9 1407.5 959.8 1408.0 960.3 1408.5 959.7 1409.0 959.4 1409.5 958.8 1410.0 960.2 1410.5 959.6 1411.0 959.7 1411.5 961.0 1412.0 960.6 1412.5 961.1 1413.0 958.4 1413.5 960.8 1414.0 959.6 1414.5 959.4 1415.0 959.4 1415.5 961.7 1416.0 961.3 1416.5 959.7 1417.0 959.3 1417.5 960.6 1418.0 960.1 1418.5 962.5 1419.0 959.1 1419.5 958.7 1420.0 960.5 1420.5 960.8 1421.0 961.0 1421.5 961.7 1422.0 963.2 1422.5 960.6 1423.0 960.4 1423.5 959.1 1424.0 961.4 1424.5 962.1 1425.0 960.9 1425.5 962.5 1426.0 961.3 1426.5 962.9 1427.0 961.7 1427.5 960.2 1428.0 960.7 1428.5 959.7 1429.0 959.5 1429.5 961.8 1430.0 962.5 1430.5 963.7 1431.0 961.5 1431.5 961.3 1432.0 960.4 1432.5 962.8 1433.0 962.1 1433.5 961.1 1434.0 962.5 1434.5 962.4 1435.0 959.8 1435.5 962.7 1436.0 962.0 1436.5 961.5 1437.0 961.5 1437.5 963.9 1438.0 963.7 1438.5 964.0 1439.0 960.8 1439.5 961.4 1440.0 963.1 1440.5 960.8 1441.0 961.4 1441.5 960.2 1442.0 964.3 1442.5 963.4 1443.0 962.8 1443.5 962.5 1444.0 961.9 1444.5 961.9 1445.0 963.1 1445.5 961.6 1446.0 963.8 1446.5 961.9 1447.0 961.5 1447.5 963.9 1448.0 962.4 1448.5 963.2 1449.0 962.1 1449.5 960.1 1450.0 963.2 1450.5 961.2 1451.0 963.9 1451.5 961.0 1452.0 960.7 1452.5 963.1 1453.0 963.3 1453.5 962.9 1454.0 961.5 1454.5 963.8 1455.0 961.3 1455.5 962.4 1456.0 962.1 1456.5 962.5 1457.0 963.9 1457.5 962.3 1458.0 963.7 1458.5 963.8 1459.0 961.2 1459.5 961.8 1460.0 962.7 1460.5 962.5 1461.0 963.5 1461.5 961.1 1462.0 964.0 1462.5 964.1 1463.0 963.1 1463.5 961.8 1464.0 963.3 1464.5 962.7 1465.0 964.0 1465.5 963.3 1466.0 964.2 1466.5 963.0 1467.0 965.0 1467.5 960.9 1468.0 962.4 1468.5 964.1 1469.0 961.9 1469.5 964.4 1470.0 962.3 1470.5 963.7 1471.0 962.6 1471.5 963.2 1472.0 963.9 1472.5 963.6 1473.0 963.3 1473.5 966.1 1474.0 963.8 1474.5 962.7 1475.0 964.8 1475.5 964.7 1476.0 965.2 1476.5 965.8 1477.0 962.9 1477.5 965.1 1478.0 965.2 1478.5 964.0 1479.0 964.3 1479.5 960.7 1480.0 963.4 1480.5 966.0 1481.0 962.1 1481.5 963.5 1482.0 964.4 1482.5 964.8 1483.0 966.0 1483.5 962.2 1484.0 964.2 1484.5 965.2 1485.0 962.8 1485.5 964.2 1486.0 966.4 1486.5 965.8 1487.0 964.9 1487.5 961.5 1488.0 964.2 1488.5 964.8 1489.0 964.1 1489.5 964.4 1490.0 967.8 1490.5 964.2 1491.0 963.4 1491.5 964.8 1492.0 964.2 1492.5 964.2 1493.0 964.5 1493.5 965.4 1494.0 964.9 1494.5 963.3 1495.0 964.5 1495.5 965.2 1496.0 964.2 1496.5 966.0 1497.0 965.6 1497.5 963.7 1498.0 965.1 1498.5 967.0 1499.0 966.5 1499.5 964.8 1500.0 965.8 1500.5 964.1 1501.0 963.3 1501.5 965.5 1502.0 965.2 1502.5 965.5 1503.0 965.0 1503.5 965.4 1504.0 964.5 1504.5 965.6 1505.0 966.0 1505.5 965.0 1506.0 966.0 1506.5 963.2 1507.0 964.3 1507.5 966.7 1508.0 967.1 1508.5 965.5 1509.0 965.1 1509.5 963.8 1510.0 965.6 1510.5 966.1 1511.0 963.7 1511.5 965.9 1512.0 965.9 1512.5 965.8 1513.0 964.1 1513.5 966.0 1514.0 963.7 1514.5 967.1 1515.0 965.6 1515.5 964.2 1516.0 966.9 1516.5 966.8 1517.0 964.8 1517.5 967.9 1518.0 964.4 1518.5 965.9 1519.0 966.9 1519.5 963.1 1520.0 966.7 1520.5 965.6 1521.0 965.6 1521.5 964.5 1522.0 966.0 1522.5 964.5 1523.0 964.7 1523.5 965.2 1524.0 964.4 1524.5 967.5 1525.0 964.3 1525.5 965.0 1526.0 965.5 1526.5 965.8 1527.0 966.7 1527.5 966.8 1528.0 965.6 1528.5 965.5 1529.0 966.0 1529.5 966.8 1530.0 966.7 1530.5 965.4 1531.0 963.7 1531.5 968.4 1532.0 967.1 1532.5 966.3 1533.0 966.4 1533.5 965.5 1534.0 965.0 1534.5 965.7 1535.0 965.9 1535.5 965.4 1536.0 964.5 1536.5 965.8 1537.0 966.8 1537.5 965.7" stroke="#ff0000"/>
<path d="M148.5 809.6 149.0 806.7 149.5 809.9 150.0 810.4 150.5 809.0 151.0 808.6 151.5 812.2 152.0 810.6 152.5 812.9 153.0 811.8 153.5 813.6 154.0 812.4 154.5 810.9 155.0 813.2 155.5 813.1 156.0 814.7 156.5 813.3 157.0 813.5 157.5 815.6 158.0 816.2 158.5 815.7 159.0 816.3 159.5 815.6 160.0 816.2 160.5 816.5 161.0 815.9 161.5 815.6 162.0 815.8 162.5 819.3 163.0 815.9 163.5 815.7 164.0 815.6 164.5 816.2 165.0 816.7 165.5 814.9 166.0 813.7 166.5 817.2 167.0 814.5 167.5 817.4 168.0 817.3 168.5 818.9 169.0 819.8 169.5 818.0 170.0 816.9 170.5 816.1 171.0 816.8 171.5 818.1 172.0 815.3 172.5 818.5 173.0 818.5 173.5 819.6 174.0 818.4 174.5 819.1 175.0 818.1 175.5 818.6 176.0 816.9 176.5 819.7 177.0 821.9 177.5 820.1 178.0 820.5 178.5 818.7 179.0 822.2 179.5 819.2 180.0 821.5 180.5 820.7 181.0 819.3 181.5 822.1 182.0 820.8 182.5 821.1 183.0 821.5 183.5 820.9 184.0 820.4 184.5 821.6 185.0 820.4 185.5 821.1 186.0 820.0 186.5 818.8 187.0 819.9 187.5 820.0 188.0 820.6 188.5 822.1 189.0 817.9 189.5 820.3 190.0 816.7 190.5 818.1 191.0 818.7 191.5 815.9 192.0 816.2 192.5 818.8 193.0 818.4 193.5 817.8 194.0 816.5 194.5 820.5 195.0 816.7 195.5 815.3 196.0 818.5 196.5 816.3 197.0 814.1 197.5 815.7 198.0 813.3 198.5 813.2 199.0 811.7 199.5 808.9 200.0 811.1 200.5 808.9 201.0 806.2 201.5 805.8 202.0 807.8 202.5 804.9 203.0 804.8 203.5 804.9 204.0 803.2 204.5 799.6 205.0 802.3 205.5 802.0 206.0 801.2 206.5 801.8 207.0 799.3 207.5 799.7 208.0 801.0 208.5 797.9 209.0 801.6 209.5 801.9 210.0 800.7 210.5 803.0 211.0 801.9 211.5 799.7 212.0 803.7 212.5 803.0 213.0 803.9 213.5 804.1 214.0 806.8 214.5 806.3 215.0 805.3 215.5 808.3 216.0 809.8 216.5 808.8 217.0 810.5 217.5 811.8 218.0 812.7 218.5 815.3 219.0 817.3 219.5 819.6 220.0 819.4 220.5 819.9 221.0 820.6 221.5 821.2 222.0 819.2 222.5 821.0 223.0 820.9 223.5 820.6 224.0 820.4 224.5 820.6 225.0 821.1 225.5 820.0 226.0 822.5 226.5 821.9 227.0 822.0 227.5 822.3 228.0 822.7 228.5 820.6 229.0 821.0 229.5 818.5 230.0 817.3 230.5 817.2 231.0 821.7 231.5 816.5 232.0 819.3 232.5 820.3 233.0 817.0 233.5 819.6 234.0 819.5 234.5 817.8 235.0 819.5 235.5 816.7 236.0 814.5 236.5 816.2 237.0 814.7 237.5 813.4 238.0 813.6 238.5 819.2 239.0 815.4 239.5 816.7 240.0 816.4 240.5 818.2 241.0 818.3 241.5 818.8 242.0 818.5 242.5 819.0 243.0 820.7 243.5 822.8 244.0 825.9 244.5 825.1 245.0 826.6 245.5 825.2 246.0 824.8 246.5 823.4 247.0 825.5 247.5 822.9 248.0 825.7 248.5 828.5 249.0 827.0 249.5 828.3 250.0 826.6 250.5 825.5 251.0 826.9 251.5 827.3 252.0 829.5 252.5 830.7 253.0 827.4 253.5 828.1 254.0 828.5 254.5 828.4 255.0 827.4 255.5 829.2 256.0 829.7 256.5 829.8 257.0 827.9 257.5 829.4 258.0 827.4 258.5 830.8 259.0 828.5 259.5 829.5 260.0 829.4 260.5 829.3 261.0 828.7 261.5 827.9 262.0 832.4 262.5 830.6 263.0 830.7 263.5 833.1 264.0 830.4 264.5 831.3 265.0 830.7 265.5 832.2 266.0 831.4 266.5 831.2 267.0 830.5 267.5 831.3 268.0 832.4 268.5 828.4 269.0 830.9 269.5 830.6 270.0 830.7 270.5 828.7 271.0 832.1 271.5 830.2 272.0 831.0 272.5 830.6 273.0 829.2 273.5 830.7 274.0 829.0 274.5 830.2 275.0 830.9 275.5 831.3 276.0 831.4 276.5 831.2 277.0 834.0 277.5 831.9 278.0 829.8 278.5 830.5 279.0 830.5 279.5 831.0 280.0 830.5 280.5 830.1 281.0 833.2 281.5 831.2 282.0 830.7 282.5 830.8 283.0 830.8 283.5 832.7 284.0 831.5 284.5 832.3 285.0 826.9 285.5 831.2 286.0 832.1 286.5 833.2 287.0 830.7 287.5 828.4 288.0 831.3 288.5 829.7 289.0 828.1 289.5 829.5 290.0 831.6 290.5 831.7 291.0 831.0 291.5 828.7 292.0 833.2 292.5 828.4 293.0 829.7 293.5 827.9 294.0 831.3 294.5 830.1 295.0 830.6 295.5 829.5 296.0 829.2 296.5 829.5 297.0 826.7 297.5 830.3 298.0 830.2 298.5 828.4 299.0 828.8 299.5 829.1 300.0 830.6 300.5 829.1 301.0 828.5 301.5 827.7 302.0 826.3 302.5 827.3 303.0 828.0 303.5 827.4 304.0 827.7 304.5 828.4 305.0 827.8 305.5 827.4 306.0 827.7 306.5 826.9 307.0 826.4 307.5 826.9 308.0 823.7 308.5 827.5 309.0 823.8 309.5 826.5 310.0 825.1 310.5 826.4 311.0 824.7 311.5 823.1 312.0 825.6 312.5 824.2 313.0 823.8 313.5 823.6 314.0 824.6 314.5 824.1 315.0 823.1 315.5 820.4 316.0 821.8 316.5 822.3 317.0 824.4 317.5 822.2 318.0 821.4 318.5 823.0 319.0 821.0 319.5 820.9 320.0 821.0 320.5 818.5 321.0 821.8 321.5 820.9 322.0 819.7 322.5 818.4 323.0 820.1 323.5 821.7 324.0 818.6 324.5 817.9 325.0 819.8 325.5 816.8 326.0 815.7 326.5 818.1 327.0 817.6 327.5 818.1 328.0 817.5 328.5 818.7 329.0 817.7 329.5 817.0 330.0 817.1 330.5 818.5 331.0 818.8 331.5 818.6 332.0 818.2 332.5 812.2 333.0 815.4 333.5 816.3 334.0 816.9 334.5 814.1 335.0 818.4 335.5 816.6 336.0 815.1 336.5 816.1 337.0 815.2 337.5 814.4 338.0 816.2 338.5 814.6 339.0 813.0 339.5 814.0 340.0 814.7 340.5 813.1 341.0 816.4 341.5 812.8 342.0 816.9 342.5 815.5 343.0 812.6 343.5 814.0 344.0 815.5 344.5 813.3 345.0 811.6 345.5 813.5 346.0 816.2 346.5 810.8 347.0 813.7 347.5 812.8 348.0 812.4 348.5 811.9 349.0 811.8 349.5 813.8 350.0 812.9 350.5 810.4 351.0 814.1 351.5 809.6 352.0 812.4 352.5 811.5 353.0 812.9 353.5 811.5 354.0 812.4 354.5 810.6 355.0 811.9 355.5 810.8 356.0 813.4 356.5 808.8 357.0 811.6 357.5 810.2 358.0 809.6 358.5 808.2 359.0 809.6 359.5 806.4 360.0 806.4 360.5 809.4 361.0 805.7 361.5 810.2 362.0 807.2 362.5 807.8 363.0 807.3 363.5 807.7 364.0 806.3 364.5 805.9 365.0 806.1 365.5 807.7 366.0 807.6 366.5 807.6 367.0 805.8 367.5 804.7 368.0 802.0 368.5 805.5 369.0 805.5 369.5 803.2 370.0 804.9 370.5 805.4 371.0 803.2 371.5 804.4 372.0 802.9 372.5 799.2 373.0 801.0 373.5 800.7 374.0 802.0 374.5 799.3 375.0 799.6 375.5 798.3 376.0 799.4 376.5 799.2 377.0 800.3 377.5 799.5 378.0 798.0 378.5 797.7 379.0 797.0 379.5 796.5 380.0 798.5 380.5 791.1 381.0 794.6 381.5 795.0 382.0 795.9 382.5 791.6 383.0 793.6 383.5 794.1 384.0 791.3 384.5 788.3 385.0 790.6 385.5 788.7 386.0 791.6 386.5 788.5 387.0 792.9 387.5 789.5 388.0 787.4 388.5 787.6 389.0 786.1 389.5 788.4 390.0 790.0 390.5 786.6 391.0 788.3 391.5 784.5 392.0 786.4 392.5 789.7 393.0 782.4 393.5 786.9 394.0 786.4 394.5 780.4 395.0 780.8 395.5 781.2 396.0 784.5 396.5 781.4 397.0 781.5 397.5 782.7 398.0 781.2 398.5 781.0 399.0 779.5 399.5 781.8 400.0 777.7 400.5 782.0 401.0 777.7 401.5 776.3 402.0 778.6 402.5 777.8 403.0 772.6 403.5 776.4 404.0 772.8 404.5 773.3 405.0 776.0 405.5 772.2 406.0 774.0 406.5 772.0 407.0 776.0 407.5 771.4 408.0 768.6 408.5 768.2 409.0 767.9 409.5 769.3 410.0 768.4 410.5 769.7 411.0 767.3 411.5 766.5 412.0 766.2 412.5 764.4 413.0 764.5 413.5 764.7 414.0 763.9 414.5 760.2 415.0 756.7 415.5 757.7 416.0 759.0 416.5 752.1 417.0 755.3 417.5 756.2 418.0 752.8 418.5 750.5 419.0 755.5 419.5 753.5 420.0 748.7 420.5 751.0 421.0 749.8 421.5 743.1 422.0 750.4 422.5 741.0 423.0 741.2 423.5 738.0 424.0 739.4 424.5 734.8 425.0 736.4 425.5 737.5 426.0 734.1 426.5 731.5 427.0 734.3 427.5 727.0 428.0 729.7 428.5 724.9 429.0 724.3 429.5 722.1 430.0 720.5 430.5 718.4 431.0 715.0 431.5 714.2 432.0 715.5 432.5 712.9 433.0 709.2 433.5 709.2 434.0 708.2 434.5 708.8 435.0 708.5 435.5 707.3 436.0 704.5 436.5 705.4 437.0 701.1 437.5 696.4 438.0 703.1 438.5 698.3 439.0 699.5 439.5 698.3 440.0 702.6 440.5 697.3 441.0 700.6 441.5 698.2 442.0 695.8 442.5 694.5 443.0 699.4 443.5 698.8 444.0 699.5 444.5 701.9 445.0 697.5 445.5 697.3 446.0 695.9 446.5 696.3 447.0 694.9 447.5 693.2 448.0 700.6 448.5 690.3 449.0 695.7 449.5 696.0 450.0 695.0 450.5 691.9 451.0 693.8 451.5 693.0 452.0 691.2 452.5 693.8 453.0 692.7 453.5 692.1 454.0 695.3 454.5 690.5 455.0 694.4 455.5 691.5 456.0 694.1 456.5 693.0 457.0 693.3 457.5 689.9 458.0 690.3 458.5 689.9 459.0 692.5 459.5 693.9 460.0 694.7 460.5 690.3 461.0 691.8 461.5 687.1 462.0 685.4 462.5 688.9 463.0 689.4 463.5 686.9 464.0 686.3 464.5 692.4 465.0 688.8 465.5 686.5 466.0 697.5 466.5 692.4 467.0 692.0 467.5 695.7 468.0 693.2 468.5 700.7 469.0 693.8 469.5 695.8 470.0 700.1 470.5 699.5 471.0 706.1 471.5 699.1 472.0 702.2 472.5 705.4 473.0 707.0 473.5 708.9 474.0 708.0 474.5 713.4 475.0 707.3 475.5 709.7 476.0 712.1 476.5 709.8 477.0 710.5 477.5 710.7 478.0 710.9 478.5 710.3 479.0 712.4 479.5 710.5 480.0 715.9 480.5 711.6 481.0 721.2 481.5 720.9 482.0 720.0 482.5 717.3 483.0 717.0 483.5 722.0 484.0 720.0 484.5 721.5 485.0 718.9 485.5 723.8 486.0 719.8 486.5 722.6 487.0 718.6 487.5 721.7 488.0 725.0 488.5 723.2 489.0 723.6 489.5 727.0 490.0 725.3 490.5 728.8 491.0 720.5 491.5 727.9 492.0 728.1 492.5 723.5 493.0 724.4 493.5 729.8 494.0 725.5 494.5 726.8 495.0 730.0 495.5 728.1 496.0 730.2 496.5 727.3 497.0 730.3 497.5 732.4 498.0 730.8 498.5 725.1 499.0 732.1 499.5 730.9 500.0 728.8 500.5 734.4 501.0 727.2 501.5 735.9 502.0 730.2 502.5 735.5 503.0 731.8 503.5 729.0 504.0 732.4 504.5 733.1 505.0 733.7 505.5 735.0 506.0 730.5 506.5 733.8 507.0 734.5 507.5 732.2 508.0 730.8 508.5 730.8 509.0 734.9 509.5 735.1 510.0 731.3 510.5 730.2 511.0 736.3 511.5 729.9 512.0 733.9 512.5 731.8 513.0 729.6 513.5 734.0 514.0 733.4 514.5 737.2 515.0 739.2 515.5 733.5 516.0 736.4 516.5 736.5 517.0 732.9 517.5 732.1 518.0 737.9 518.5 733.3 519.0 734.1 519.5 733.5 520.0 733.9 520.5 732.8 521.0 735.9 521.5 737.0 522.0 733.2 522.5 730.8 523.0 734.0 523.5 730.3 524.0 732.2 524.5 736.4 525.0 738.8 525.5 734.2 526.0 730.7 526.5 734.8 527.0 727.6 527.5 731.1 528.0 736.1 528.5 734.1 529.0 728.9 529.5 728.1 530.0 733.7 530.5 731.4 531.0 730.0 531.5 732.1 532.0 729.6 532.5 726.2 533.0 732.4 533.5 728.8 534.0 727.8 534.5 726.8 535.0 730.3 535.5 727.5 536.0 730.6 536.5 728.2 537.0 731.1 537.5 727.4 538.0 726.4 538.5 723.0 539.0 724.7 539.5 728.7 540.0 733.9 540.5 723.2 541.0 723.4 541.5 726.3 542.0 726.2 542.5 723.0 543.0 724.4 543.5 719.9 544.0 722.6 544.5 725.0 545.0 726.3 545.5 721.4 546.0 720.6 546.5 721.7 547.0 722.6 547.5 720.4 548.0 716.6 548.5 718.5 549.0 719.2 549.5 714.2 550.0 711.8 550.5 715.6 551.0 714.4 551.5 715.0 552.0 712.0 552.5 709.3 553.0 709.0 553.5 706.7 554.0 706.1 554.5 706.3 555.0 705.7 555.5 709.1 556.0 702.5 556.5 704.8 557.0 702.8 557.5 707.5 558.0 703.8 558.5 701.5 559.0 704.0 559.5 701.5 560.0 699.5 560.5 704.2 561.0 701.5 561.5 703.5 562.0 701.5 562.5 700.0 563.0 697.7 563.5 694.0 564.0 698.1 564.5 695.9 565.0 696.9 565.5 694.6 566.0 692.2 566.5 690.8 567.0 694.8 567.5 695.8 568.0 691.0 568.5 692.3 569.0 694.2 569.5 687.7 570.0 688.3 570.5 685.6 571.0 691.1 571.5 688.0 572.0 685.4 572.5 681.6 573.0 684.9 573.5 687.5 574.0 683.3 574.5 682.4 575.0 684.7 575.5 679.0 576.0 681.9 576.5 682.8 577.0 678.5 577.5 677.8 578.0 680.3 578.5 678.9 579.0 678.0 579.5 678.8 580.0 678.5 580.5 675.0 581.0 675.3 581.5 678.1 582.0 679.6 582.5 679.9 583.0 673.4 583.5 678.4 584.0 677.2 584.5 674.6 585.0 675.7 585.5 676.4 586.0 678.7 586.5 670.5 587.0 674.8 587.5 672.4 588.0 671.9 588.5 675.4 589.0 674.2 589.5 668.9 590.0 670.7 590.5 671.9 591.0 667.1 591.5 673.3 592.0 670.5 592.5 671.0 593.0 671.4 593.5 675.4 594.0 670.3 594.5 669.2 595.0 675.0 595.5 668.7 596.0 668.7 596.5 666.3 597.0 673.3 597.5 671.1 598.0 671.7 598.5 671.0 599.0 670.3 599.5 668.7 600.0 668.9 600.5 672.5 601.0 671.8 601.5 676.2 602.0 669.8 602.5 670.8 603.0 669.6 603.5 676.5 604.0 669.6 604.5 675.4 605.0 677.5 605.5 673.5 606.0 676.1 606.5 668.6 607.0 673.7 607.5 670.4 608.0 675.8 608.5 675.6 609.0 673.8 609.5 678.8 610.0 677.5 610.5 675.4 611.0 675.8 611.5 673.5 612.0 677.4 612.5 684.1 613.0 676.8 613.5 680.3 614.0 678.0 614.5 682.2 615.0 681.6 615.5 680.2 616.0 676.5 616.5 680.4 617.0 685.5 617.5 682.1 618.0 684.9 618.5 682.4 619.0 679.2 619.5 685.9 620.0 686.1 620.5 684.2 621.0 685.4 621.5 687.9 622.0 686.3 622.5 689.6 623.0 688.9 623.5 684.0 624.0 690.6 624.5 690.2 625.0 690.2 625.5 694.1 626.0 692.3 626.5 695.5 627.0 697.3 627.5 695.0 628.0 690.7 628.5 693.0 629.0 697.5 629.5 694.5 630.0 693.2 630.5 695.2 631.0 696.9 631.5 696.4 632.0 697.5 632.5 693.8 633.0 695.3 633.5 695.4 634.0 696.1 634.5 690.8 635.0 695.7 635.5 692.9 636.0 700.0 636.5 700.5 637.0 700.9 637.5 698.6 638.0 695.3 638.5 699.0 639.0 696.0 639.5 698.1 640.0 694.1 640.5 694.8 641.0 697.4 641.5 700.6 642.0 695.7 642.5 701.4 643.0 702.5 643.5 691.6 644.0 694.5 644.5 691.8 645.0 693.5 645.5 692.1 646.0 692.9 646.5 695.1 647.0 694.6 647.5 692.4 648.0 691.2 648.5 691.0 649.0 690.6 649.5 691.3 650.0 689.3 650.5 690.1 651.0 684.8 651.5 689.9 652.0 691.9 652.5 687.2 653.0 682.4 653.5 689.2 654.0 684.1 654.5 676.2 655.0 682.9 655.5 684.4 656.0 683.0 656.5 684.6 657.0 682.1 657.5 679.9 658.0 673.3 658.5 674.8 659.0 677.5 659.5 678.0 660.0 672.5 660.5 672.8 661.0 675.0 661.5 667.6 662.0 666.7 662.5 670.7 663.0 671.4 663.5 668.7 664.0 662.9 664.5 668.7 665.0 664.2 665.5 669.1 666.0 666.2 666.5 666.5 667.0 666.8 667.5 662.7 668.0 665.8 668.5 666.3 669.0 663.2 669.5 665.2 670.0 659.0 670.5 662.8 671.0 660.4 671.5 656.3 672.0 658.4 672.5 656.8 673.0 656.4 673.5 658.0 674.0 660.6 674.5 656.6 675.0 657.8 675.5 653.4 676.0 658.1 676.5 661.5 677.0 660.9 677.5 660.3 678.0 658.0 678.5 657.3 679.0 660.5 679.5 657.6 680.0 658.6 680.5 665.6 681.0 661.0 681.5 669.5 682.0 661.1 682.5 667.1 683.0 663.3 683.5 667.8 684.0 665.1 684.5 668.8 685.0 668.9 685.5 668.7 686.0 672.1 686.5 675.5 687.0 670.3 687.5 675.1 688.0 673.6 688.5 674.0 689.0 680.9 689.5 669.6 690.0 674.4 690.5 672.1 691.0 677.0 691.5 678.0 692.0 689.8 692.5 681.1 693.0 685.9 693.5 685.3 694.0 681.4 694.5 684.8 695.0 688.8 695.5 685.7 696.0 686.6 696.5 688.3 697.0 683.9 697.5 686.6 698.0 690.6 698.5 692.1 699.0 689.2 699.5 691.8 700.0 693.3 700.5 694.3 701.0 697.5 701.5 697.0 702.0 698.2 702.5 695.2 703.0 697.2 703.5 701.9 704.0 698.2 704.5 704.1 705.0 703.0 705.5 703.9 706.0 708.8 706.5 706.8 707.0 707.7 707.5 709.4 708.0 712.6 708.5 720.7 709.0 710.0 709.5 716.5 710.0 717.4 710.5 721.7 711.0 719.9 711.5 716.4 712.0 727.1 712.5 722.9 713.0 726.9 713.5 725.3 714.0 727.4 714.5 730.2 715.0 734.7 715.5 735.9 716.0 733.7 716.5 737.4 717.0 736.5 717.5 738.7 718.0 739.9 718.5 742.0 719.0 740.2 719.5 742.3 720.0 744.1 720.5 744.8 721.0 743.9 721.5 750.4 722.0 746.7 722.5 750.4 723.0 750.3 723.5 753.6 724.0 747.4 724.5 757.6 725.0 753.9 725.5 752.9 726.0 757.0 726.5 762.6 727.0 760.1 727.5 757.5 728.0 760.2 728.5 764.9 729.0 760.3 729.5 763.7 730.0 764.3 730.5 770.1 731.0 765.8 731.5 769.8 732.0 766.5 732.5 766.9 733.0 771.1 733.5 770.9 734.0 766.9 734.5 772.1 735.0 772.7 735.5 770.8 736.0 773.0 736.5 773.6 737.0 772.7 737.5 773.0 738.0 773.4 738.5 774.7 739.0 773.3 739.5 776.3 740.0 774.2 740.5 777.8 741.0 778.1 741.5 776.9 742.0 781.1 742.5 783.7 743.0 783.2 743.5 778.7 744.0 784.3 744.5 782.9 745.0 783.0 745.5 782.6 746.0 784.3 746.5 787.4 747.0 786.5 747.5 785.3 748.0 785.4 748.5 786.4 749.0 788.8 749.5 791.6 750.0 786.9 750.5 789.4 751.0 789.2 751.5 789.1 752.0 791.7 752.5 792.5 753.0 789.6 753.5 790.8 754.0 795.2 754.5 794.2 755.0 795.1 755.5 793.8 756.0 794.5 756.5 796.5 757.0 795.3 757.5 794.8 758.0 797.1 758.5 799.1 759.0 796.3 759.5 800.2 760.0 800.0 760.5 797.8 761.0 799.6 761.5 799.9 762.0 801.4 762.5 801.9 763.0 799.0 763.5 799.3 764.0 803.6 764.5 802.4 765.0 803.3 765.5 803.5 766.0 805.8 766.5 801.7 767.0 805.8 767.5 803.0 768.0 805.8 768.5 807.1 769.0 803.1 769.5 806.2 770.0 805.5 770.5 805.7 771.0 806.6 771.5 805.1 772.0 805.5 772.5 808.3 773.0 808.9 773.5 806.9 774.0 805.7 774.5 811.8 775.0 810.2 775.5 809.2 776.0 807.3 776.5 808.1 777.0 809.6 777.5 808.0 778.0 812.1 778.5 810.1 779.0 810.6 779.5 808.7 780.0 809.1 780.5 809.4 781.0 811.2 781.5 810.6 782.0 810.7 782.5 811.8 783.0 811.8 783.5 813.9 784.0 811.5 784.5 810.4 785.0 812.0 785.5 814.3 786.0 811.4 786.5 812.4 787.0 811.8 787.5 813.0 788.0 812.8 788.5 811.2 789.0 812.1 789.5 813.8 790.0 814.0 790.5 813.6 791.0 813.5 791.5 811.5 792.0 811.4 792.5 813.2 793.0 809.9 793.5 811.4 794.0 808.5 794.5 810.6 795.0 810.0 795.5 809.1 796.0 811.7 796.5 809.6 797.0 810.1 797.5 810.2 798.0 809.4 798.5 812.7 799.0 809.9 799.5 811.0 800.0 808.9 800.5 810.3 801.0 810.7 801.5 810.9 802.0 810.7 802.5 812.1 803.0 814.5 803.5 812.3 804.0 812.6 804.5 812.5 805.0 817.2 805.5 816.1 806.0 814.9 806.5 815.5 807.0 813.8 807.5 814.9 808.0 815.8 808.5 816.0 809.0 814.9 809.5 815.3 810.0 817.5 810.5 817.4 811.0 814.2 811.5 817.6 812.0 819.5 812.5 816.9 813.0 818.3 813.5 816.1 814.0 819.4 814.5 816.8 815.0 816.7 815.5 818.1 816.0 822.0 816.5 817.9 817.0 817.1 817.5 819.7 818.0 819.4 818.5 821.5 819.0 817.6 819.5 817.2 820.0 819.1 820.5 820.2 821.0 820.2 821.5 821.3 822.0 817.8 822.5 818.8 823.0 819.9 823.5 821.3 824.0 820.9 824.5 819.7 825.0 818.9 825.5 821.6 826.0 821.8 826.5 824.3 827.0 820.3 827.5 822.9 828.0 819.0 828.5 820.0 829.0 819.8 829.5 820.1 830.0 819.6 830.5 820.1 831.0 820.8 831.5 820.2 832.0 821.8 832.5 820.7 833.0 820.8 833.5 822.8 834.0 821.2 834.5 821.0 835.0 820.7 835.5 820.7 836.0 821.4 836.5 819.5 837.0 822.1 837.5 822.6 838.0 822.0 838.5 819.6 839.0 818.1 839.5 819.6 840.0 820.4 840.5 821.3 841.0 819.8 841.5 819.6 842.0 822.1 842.5 819.0 843.0 821.4 843.5 821.2 844.0 818.1 844.5 820.4 845.0 819.2 845.5 818.7 846.0 817.4 846.5 817.9 847.0 820.6 847.5 819.5 848.0 820.5 848.5 818.7 849.0 819.7 849.5 819.8 850.0 818.1 850.5 818.0 851.0 821.0 851.5 820.6 852.0 819.2 852.5 820.4 853.0 821.5 853.5 823.2 854.0 819.5 854.5 821.6 855.0 823.8 855.5 821.0 856.0 823.0 856.5 817.6 857.0 823.2 857.5 821.3 858.0 818.8 858.5 822.5 859.0 823.0 859.5 823.3 860.0 823.4 860.5 821.8 861.0 821.0 861.5 821.6 862.0 822.5 862.5 823.4 863.0 822.6 863.5 823.8 864.0 825.3 864.5 825.1 865.0 828.2 865.5 828.5 866.0 824.7 866.5 825.9 867.0 825.5 867.5 826.1 868.0 828.8 868.5 827.2 869.0 827.6 869.5 828.9 870.0 830.5 870.5 829.3 871.0 829.5 871.5 831.4 872.0 831.1 872.5 831.3 873.0 832.1 873.5 829.9 874.0 831.7 874.5 830.8 875.0 833.1 875.5 833.0 876.0 831.0 876.5 834.0 877.0 831.2 877.5 834.2 878.0 833.2 878.5 832.1 879.0 832.0 879.5 833.2 880.0 833.7 880.5 833.0 881.0 834.7 881.5 832.5 882.0 834.3 882.5 834.4 883.0 832.4 883.5 835.1 884.0 833.4 884.5 832.1 885.0 834.4 885.5 834.9 886.0 836.4 886.5 834.9 887.0 837.3 887.5 837.3 888.0 837.0 888.5 837.4 889.0 836.4 889.5 835.5 890.0 837.0 890.5 837.5 891.0 836.7 891.5 836.3 892.0 834.9 892.5 837.5 893.0 837.3 893.5 835.5 894.0 837.2 894.5 838.0 895.0 837.1 895.5 838.2 896.0 838.3 896.5 835.9 897.0 837.3 897.5 838.3 898.0 838.8 898.5 839.4 899.0 835.8 899.5 838.0 900.0 838.9 900.5 839.5 901.0 840.1 901.5 837.3 902.0 838.0 902.5 837.3 903.0 839.4 903.5 837.1 904.0 839.9 904.5 839.7 905.0 839.2 905.5 836.3 906.0 838.0 906.5 839.6 907.0 837.3 907.5 838.6 908.0 838.8 908.5 839.9 909.0 839.3 909.5 839.3 910.0 838.5 910.5 839.0 911.0 838.9 911.5 839.9 912.0 838.9 912.5 840.3 913.0 837.3 913.5 840.5 914.0 839.0 914.5 840.5 915.0 839.3 915.5 840.2 916.0 840.9 916.5 838.7 917.0 839.4 917.5 839.2 918.0 839.6 918.5 837.6 919.0 839.2 919.5 839.2 920.0 838.6 920.5 839.3 921.0 837.8 921.5 841.0 922.0 840.0 922.5 841.6 923.0 838.6 923.5 838.3 924.0 839.9 924.5 837.8 925.0 839.9 925.5 838.9 926.0 839.3 926.5 839.9 927.0 839.7 927.5 841.7 928.0 840.4 928.5 838.3 929.0 840.8 929.5 838.3 930.0 839.8 930.5 838.4 931.0 838.8 931.5 841.2 932.0 839.1 932.5 839.0 933.0 839.1 933.5 839.4 934.0 841.3 934.5 838.5 935.0 838.4 935.5 840.4 936.0 838.0 936.5 839.4 937.0 841.0 937.5 839.8 938.0 839.2 938.5 839.0 939.0 838.7 939.5 839.1 940.0 839.9 940.5 841.0 941.0 840.7 941.5 839.0 942.0 838.8 942.5 840.4 943.0 837.6 943.5 839.1 944.0 839.2 944.5 838.3 945.0 838.4 945.5 839.9 946.0 837.7 946.5 838.5 947.0 838.7 947.5 839.5 948.0 837.9 948.5 840.5 949.0 839.0 949.5 839.0 950.0 838.9 950.5 838.5 951.0 838.2 951.5 840.5 952.0 839.4 952.5 839.0 953.0 840.2 953.5 838.3 954.0 839.8 954.5 839.1 955.0 838.1 955.5 839.9 956.0 837.4 956.5 839.7 957.0 838.0 957.5 839.4 958.0 840.4 958.5 839.5 959.0 838.2 959.5 838.9 960.0 838.5 960.5 837.6 961.0 837.6 961.5 838.9 962.0 839.4 962.5 836.9 963.0 838.7 963.5 839.4 964.0 838.9 964.5 837.7 965.0 839.9 965.5 837.5 966.0 839.5 966.5 840.6 967.0 836.6 967.5 839.1 968.0 839.2 968.5 839.1 969.0 838.0 969.5 838.5 970.0 837.3 970.5 839.0 971.0 839.4 971.5 838.1 972.0 837.8 972.5 838.3 973.0 838.8 973.5 838.9 974.0 838.7 974.5 838.9 975.0 837.4 975.5 835.8 976.0 839.5 976.5 840.4 977.0 837.3 977.5 838.1 978.0 839.2 978.5 839.9 979.0 839.6 979.5 840.3 980.0 838.8 980.5 839.3 981.0 839.3 981.5 838.4 982.0 840.2 982.5 839.6 983.0 839.9 983.5 838.5 984.0 840.0 984.5 837.7 985.0 839.3 985.5 836.0 986.0 837.8 986.5 839.7 987.0 838.4 987.5 839.1 988.0 837.1 988.5 840.6 989.0 839.5 989.5 838.9 990.0 839.3 990.5 839.2 991.0 840.4 991.5 839.1 992.0 837.2 992.5 838.5 993.0 840.2 993.5 839.4 994.0 838.3 994.5 839.4 995.0 838.8 995.5 839.3 996.0 836.8 996.5 837.5 997.0 839.2 997.5 838.1 998.0 838.7 998.5 840.4 999.0 837.8 999.5 838.4 1000.0 837.4 1000.5 837.3 1001.0 837.8 1001.5 836.3 1002.0 835.5 1002.5 839.2 1003.0 837.6 1003.5 838.9 1004.0 837.7 1004.5 837.6 1005.0 838.2 1005.5 838.2 1006.0 836.0 1006.5 838.6 1007.0 836.1 1007.5 837.4 1008.0 840.0 1008.5 837.2 1009.0 838.9 1009.5 836.6 1010.0 837.6 1010.5 837.0 1011.0 837.4 1011.5 835.9 1012.0 835.8 1012.5 837.2 1013.0 835.0 1013.5 835.8 1014.0 837.4 1014.5 836.0 1015.0 835.6 1015.5 835.4 1016.0 836.8 1016.5 836.2 1017.0 836.7 1017.5 836.3 1018.0 838.6 1018.5 836.0 1019.0 834.2 1019.5 836.5 1020.0 836.4 1020.5 836.5 1021.0 834.5 1021.5 837.6 1022.0 836.3 1022.5 836.2 1023.0 834.4 1023.5 836.7 1024.0 836.1 1024.5 837.7 1025.0 835.7 1025.5 834.7 1026.0 836.2 1026.5 835.0 1027.0 836.5 1027.5 834.8 1028.0 835.8 1028.5 835.7 1029.0 835.8 1029.5 835.3 1030.0 834.9 1030.5 835.7 1031.0 835.1 1031.5 835.9 1032.0 835.3 1032.5 833.0 1033.0 835.5 1033.5 837.1 1034.0 835.8 1034.5 836.1 1035.0 835.9 1035.5 834.8 1036.0 833.7 1036.5 836.1 1037.0 836.3 1037.5 835.7 1038.0 835.4 1038.5 835.3 1039.0 834.7 1039.5 834.9 1040.0 834.5 1040.5 834.7 1041.0 833.0 1041.5 833.2 1042.0 834.4 1042.5 833.2 1043.0 830.6 1043.5 833.3 1044.0 830.3 1044.5 835.0 1045.0 833.4 1045.5 833.1 1046.0 831.3 1046.5 830.6 1047.0 831.4 1047.5 831.5 1048.0 830.3 1048.5 831.2 1049.0 831.6 1049.5 831.3 1050.0 829.1 1050.5 827.6 1051.0 830.0 1051.5 829.0 1052.0 830.2 1052.5 831.4 1053.0 831.3 1053.5 829.5 1054.0 830.3 1054.5 830.8 1055.0 828.8 1055.5 828.9 1056.0 829.5 1056.5 828.3 1057.0 827.7 1057.5 827.2 1058.0 828.1 1058.5 827.2 1059.0 828.9 1059.5 827.4 1060.0 829.5 1060.5 829.1 1061.0 826.0 1061.5 828.8 1062.0 826.9 1062.5 829.0 1063.0 827.8 1063.5 827.1 1064.0 827.9 1064.5 826.3 1065.0 827.3 1065.5 827.3 1066.0 826.5 1066.5 827.1 1067.0 825.3 1067.5 827.2 1068.0 824.9 1068.5 827.2 1069.0 826.9 1069.5 827.2 1070.0 825.5 1070.5 830.0 1071.0 825.8 1071.5 826.2 1072.0 825.0 1072.5 827.7 1073.0 825.3 1073.5 827.1 1074.0 824.6 1074.5 826.1 1075.0 825.2 1075.5 826.8 1076.0 825.2 1076.5 824.4 1077.0 826.0 1077.5 823.9 1078.0 824.1 1078.5 826.2 1079.0 822.8 1079.5 826.1 1080.0 824.6 1080.5 823.9 1081.0 825.3 1081.5 825.8 1082.0 824.2 1082.5 824.6 1083.0 825.8 1083.5 825.7 1084.0 824.6 1084.5 823.7 1085.0 823.4 1085.5 823.8 1086.0 825.4 1086.5 825.2 1087.0 824.8 1087.5 826.2 1088.0 824.0 1088.5 823.8 1089.0 823.8 1089.5 826.7 1090.0 821.6 1090.5 824.5 1091.0 824.7 1091.5 824.2 1092.0 827.1 1092.5 825.6 1093.0 825.0 1093.5 822.9 1094.0 824.6 1094.5 823.5 1095.0 824.0 1095.5 824.2 1096.0 823.4 1096.5 824.8 1097.0 826.1 1097.5 825.3 1098.0 824.2 1098.5 821.5 1099.0 825.4 1099.5 825.3 1100.0 823.7 1100.5 823.4 1101.0 824.8 1101.5 822.9 1102.0 825.0 1102.5 822.6 1103.0 822.8 1103.5 824.0 1104.0 822.1 1104.5 824.0 1105.0 824.7 1105.5 822.3 1106.0 825.2 1106.5 823.3 1107.0 824.7 1107.5 824.3 1108.0 823.4 1108.5 823.3 1109.0 821.8 1109.5 823.1 1110.0 823.0 1110.5 826.1 1111.0 825.3 1111.5 822.2 1112.0 825.0 1112.5 824.3 1113.0 823.5 1113.5 824.6 1114.0 825.0 1114.5 823.3 1115.0 823.6 1115.5 824.2 1116.0 822.7 1116.5 824.2 1117.0 823.9 1117.5 823.1 1118.0 822.9 1118.5 824.4 1119.0 825.1 1119.5 824.4 1120.0 822.9 1120.5 825.0 1121.0 824.3 1121.5 824.9 1122.0 825.7 1122.5 823.2 1123.0 824.3 1123.5 823.8 1124.0 823.6 1124.5 827.4 1125.0 826.2 1125.5 823.0 1126.0 826.0 1126.5 824.9 1127.0 827.3 1127.5 826.1 1128.0 826.0 1128.5 826.6 1129.0 827.1 1129.5 826.9 1130.0 826.8 1130.5 827.1 1131.0 828.1 1131.5 826.3 1132.0 827.9 1132.5 827.9 1133.0 827.6 1133.5 829.3 1134.0 827.0 1134.5 828.2 1135.0 827.7 1135.5 829.5 1136.0 828.5 1136.5 829.2 1137.0 829.7 1137.5 827.5 1138.0 830.0 1138.5 828.7 1139.0 829.4 1139.5 829.7 1140.0 830.9 1140.5 830.9 1141.0 832.2 1141.5 830.5 1142.0 829.8 1142.5 829.9 1143.0 831.4 1143.5 832.6 1144.0 831.2 1144.5 830.2 1145.0 831.3 1145.5 831.4 1146.0 831.2 1146.5 830.4 1147.0 828.5 1147.5 830.9 1148.0 832.8 1148.5 831.9 1149.0 829.2 1149.5 831.9 1150.0 829.8 1150.5 834.3 1151.0 832.4 1151.5 830.8 1152.0 833.2 1152.5 831.5 1153.0 833.1 1153.5 832.6 1154.0 831.3 1154.5 833.5 1155.0 831.3 1155.5 834.4 1156.0 833.0 1156.5 831.9 1157.0 831.0 1157.5 835.0 1158.0 834.9 1158.5 831.9 1159.0 835.2 1159.5 833.6 1160.0 833.3 1160.5 833.5 1161.0 833.3 1161.5 835.3 1162.0 833.9 1162.5 831.8 1163.0 836.2 1163.5 834.9 1164.0 832.8 1164.5 833.7 1165.0 833.1 1165.5 834.3 1166.0 834.7 1166.5 834.6 1167.0 833.7 1167.5 833.6 1168.0 835.4 1168.5 834.4 1169.0 837.1 1169.5 833.8 1170.0 835.6 1170.5 834.8 1171.0 834.0 1171.5 836.4 1172.0 835.0 1172.5 834.0 1173.0 834.6 1173.5 836.2 1174.0 833.7 1174.5 836.6 1175.0 835.9 1175.5 834.9 1176.0 836.7 1176.5 837.2 1177.0 835.9 1177.5 835.5 1178.0 837.3 1178.5 837.0 1179.0 834.3 1179.5 835.1 1180.0 835.1 1180.5 834.9 1181.0 833.7 1181.5 836.4 1182.0 835.5 1182.5 835.5 1183.0 837.0 1183.5 834.8 1184.0 835.4 1184.5 835.8 1185.0 835.0 1185.5 835.4 1186.0 836.4 1186.5 835.5 1187.0 837.0 1187.5 834.7 1188.0 835.8 1188.5 834.0 1189.0 835.5 1189.5 834.8 1190.0 837.1 1190.5 836.4 1191.0 836.2 1191.5 837.7 1192.0 837.2 1192.5 836.4 1193.0 834.9 1193.5 834.1 1194.0 835.6 1194.5 835.3 1195.0 835.0 1195.5 835.4 1196.0 833.9 1196.5 837.3 1197.0 834.4 1197.5 835.0 1198.0 836.3 1198.5 833.9 1199.0 836.7 1199.5 836.8 1200.0 835.4 1200.5 834.5 1201.0 835.2 1201.5 833.7 1202.0 837.3 1202.5 835.8 1203.0 835.0 1203.5 834.8 1204.0 836.4 1204.5 837.4 1205.0 834.4 1205.5 835.2 1206.0 833.9 1206.5 836.5 1207.0 836.0 1207.5 838.3 1208.0 835.7 1208.5 835.3 1209.0 835.1 1209.5 836.8 1210.0 834.0 1210.5 836.7 1211.0 836.1 1211.5 835.3 1212.0 834.9 1212.5 837.1 1213.0 838.0 1213.5 835.4 1214.0 836.5 1214.5 837.8 1215.0 835.2 1215.5 835.7 1216.0 834.6 1216.5 835.8 1217.0 835.9 1217.5 835.5 1218.0 835.2 1218.5 834.3 1219.0 834.5 1219.5 834.9 1220.0 836.7 1220.5 835.5 1221.0 835.1 1221.5 836.8 1222.0 836.7 1222.5 835.3 1223.0 835.4 1223.5 836.9 1224.0 836.6 1224.5 835.2 1225.0 836.5 1225.5 836.2 1226.0 837.5 1226.5 835.3 1227.0 837.3 1227.5 836.8 1228.0 835.3 1228.5 837.6 1229.0 837.5 1229.5 835.1 1230.0 838.8 1230.5 835.4 1231.0 835.7 1231.5 836.4 1232.0 837.7 1232.5 837.6 1233.0 836.9 1233.5 838.6 1234.0 837.6 1234.5 838.8 1235.0 840.5 1235.5 837.7 1236.0 834.8 1236.5 837.2 1237.0 836.6 1237.5 838.0 1238.0 838.1 1238.5 836.7 1239.0 836.9 1239.5 838.0 1240.0 838.1 1240.5 835.6 1241.0 839.6 1241.5 838.6 1242.0 838.7 1242.5 839.1 1243.0 837.8 1243.5 838.9 1244.0 840.2 1244.5 840.3 1245.0 839.7 1245.5 839.0 1246.0 838.5 1246.5 840.9 1247.0 840.1 1247.5 839.1 1248.0 837.3 1248.5 838.8 1249.0 837.7 1249.5 841.1 1250.0 840.0 1250.5 839.1 1251.0 839.6 1251.5 842.7 1252.0 841.3 1252.5 838.5 1253.0 839.9 1253.5 838.7 1254.0 838.1 1254.5 840.2 1255.0 842.6 1255.5 841.6 1256.0 840.0 1256.5 839.5 1257.0 840.1 1257.5 841.0 1258.0 838.2 1258.5 837.8 1259.0 841.8 1259.5 840.0 1260.0 841.4 1260.5 839.8 1261.0 841.1 1261.5 838.8 1262.0 840.0 1262.5 841.1 1263.0 840.4 1263.5 838.7 1264.0 840.2 1264.5 838.4 1265.0 837.5 1265.5 839.6 1266.0 840.5 1266.5 839.8 1267.0 837.5 1267.5 839.7 1268.0 839.5 1268.5 838.2 1269.0 835.9 1269.5 839.7 1270.0 839.5 1270.5 839.1 1271.0 836.5 1271.5 836.8 1272.0 839.5 1272.5 839.3 1273.0 838.9 1273.5 838.1 1274.0 838.8 1274.5 837.7 1275.0 838.0 1275.5 837.3 1276.0 838.6 1276.5 837.8 1277.0 839.4 1277.5 839.2 1278.0 837.5 1278.5 840.5 1279.0 837.2 1279.5 839.0 1280.0 839.7 1280.5 840.0 1281.0 836.1 1281.5 839.8 1282.0 840.1 1282.5 840.4 1283.0 836.3 1283.5 838.1 1284.0 838.8 1284.5 838.5 1285.0 840.6 1285.5 838.4 1286.0 840.6 1286.5 839.9 1287.0 837.8 1287.5 838.4 1288.0 839.0 1288.5 839.7 1289.0 840.8 1289.5 839.6 1290.0 840.9 1290.5 838.3 1291.0 836.7 1291.5 839.8 1292.0 840.8 1292.5 840.0 1293.0 839.4 1293.5 841.1 1294.0 842.8 1294.5 840.7 1295.0 840.1 1295.5 840.1 1296.0 843.3 1296.5 841.2 1297.0 842.0 1297.5 842.8 1298.0 842.7 1298.5 840.7 1299.0 842.8 1299.5 842.8 1300.0 842.5 1300.5 843.2 1301.0 841.6 1301.5 842.2 1302.0 841.9 1302.5 843.4 1303.0 841.9 1303.5 843.2 1304.0 841.7 1304.5 842.8 1305.0 842.7 1305.5 843.0 1306.0 843.4 1306.5 843.2 1307.0 843.2 1307.5 841.3 1308.0 844.9 1308.5 843.1 1309.0 843.6 1309.5 843.0 1310.0 845.1 1310.5 843.1 1311.0 844.7 1311.5 845.5 1312.0 846.1 1312.5 845.7 1313.0 845.2 1313.5 843.2 1314.0 846.0 1314.5 846.0 1315.0 845.7 1315.5 845.7 1316.0 844.9 1316.5 844.3 1317.0 846.1 1317.5 846.4 1318.0 843.9 1318.5 846.1 1319.0 845.4 1319.5 846.2 1320.0 845.5 1320.5 846.5 1321.0 846.4 1321.5 846.3 1322.0 843.9 1322.5 846.3 1323.0 845.5 1323.5 844.3 1324.0 846.3 1324.5 844.1 1325.0 846.6 1325.5 847.5 1326.0 845.2 1326.5 846.8 1327.0 846.3 1327.5 846.6 1328.0 844.4 1328.5 846.6 1329.0 846.1 1329.5 846.8 1330.0 846.0 1330.5 847.3 1331.0 846.4 1331.5 846.9 1332.0 847.7 1332.5 846.4 1333.0 847.3 1333.5 846.5 1334.0 846.9 1334.5 845.8 1335.0 847.2 1335.5 847.8 1336.0 846.4 1336.5 847.3 1337.0 847.0 1337.5 845.3 1338.0 847.0 1338.5 848.0 1339.0 846.1 1339.5 844.7 1340.0 846.9 1340.5 846.0 1341.0 848.8 1341.5 846.7 1342.0 846.8 1342.5 846.2 1343.0 847.2 1343.5 846.3 1344.0 846.0 1344.5 846.9 1345.0 846.1 1345.5 848.5 1346.0 845.8 1346.5 847.0 1347.0 846.4 1347.5 845.7 1348.0 849.0 1348.5 844.9 1349.0 848.8 1349.5 845.7 1350.0 847.4 1350.5 849.8 1351.0 845.0 1351.5 845.9 1352.0 848.8 1352.5 847.6 1353.0 846.9 1353.5 847.5 1354.0 846.5 1354.5 847.7 1355.0 849.2 1355.5 847.2 1356.0 847.8 1356.5 849.0 1357.0 849.8 1357.5 847.1 1358.0 848.1 1358.5 847.2 1359.0 847.1 1359.5 847.4 1360.0 847.2 1360.5 846.0 1361.0 845.8 1361.5 847.2 1362.0 848.1 1362.5 849.3 1363.0 847.5 1363.5 847.9 1364.0 848.8 1364.5 848.9 1365.0 848.1 1365.5 848.2 1366.0 850.3 1366.5 847.9 1367.0 847.8 1367.5 846.6 1368.0 848.8 1368.5 848.1 1369.0 850.5 1369.5 848.1 1370.0 849.4 1370.5 849.5 1371.0 850.4 1371.5 847.2 1372.0 850.3 1372.5 848.7 1373.0 848.6 1373.5 848.4 1374.0 848.4 1374.5 848.5 1375.0 846.4 1375.5 849.5 1376.0 849.0 1376.5 848.0 1377.0 849.0 1377.5 851.6 1378.0 849.5 1378.5 848.8 1379.0 851.1 1379.5 848.4 1380.0 849.2 1380.5 848.8 1381.0 849.2 1381.5 850.2 1382.0 850.1 1382.5 848.8 1383.0 849.5 1383.5 849.8 1384.0 849.3 1384.5 849.7 1385.0 849.0 1385.5 849.1 1386.0 850.0 1386.5 848.9 1387.0 850.5 1387.5 849.9 1388.0 849.1 1388.5 849.5 1389.0 849.7 1389.5 850.1 1390.0 850.5 1390.5 850.2 1391.0 849.5 1391.5 852.0 1392.0 851.5 1392.5 850.7 1393.0 851.7 1393.5 851.1 1394.0 850.5 1394.5 850.9 1395.0 853.8 1395.5 852.0 1396.0 852.1 1396.5 850.6 1397.0 851.8 1397.5 853.6 1398.0 851.7 1398.5 852.4 1399.0 852.7 1399.5 852.1 1400.0 853.1 1400.5 851.7 1401.0 852.1 1401.5 850.9 1402.0 854.5 1402.5 852.0 1403.0 851.9 1403.5 853.3 1404.0 851.3 1404.5 851.9 1405.0 851.1 1405.5 852.0 1406.0 851.7 1406.5 852.7 1407.0 852.0 1407.5 851.6 1408.0 851.9 1408.5 852.2 1409.0 851.8 1409.5 853.4 1410.0 853.2 1410.5 852.6 1411.0 851.3 1411.5 853.1 1412.0 851.3 1412.5 852.9 1413.0 852.7 1413.5 852.1 1414.0 851.9 1414.5 852.1 1415.0 855.0 1415.5 852.6 1416.0 852.7 1416.5 854.0 1417.0 853.4 1417.5 854.1 1418.0 851.7 1418.5 851.9 1419.0 856.6 1419.5 853.1 1420.0 852.9 1420.5 853.4 1421.0 854.3 1421.5 852.0 1422.0 853.6 1422.5 853.2 1423.0 854.0 1423.5 853.5 1424.0 852.8 1424.5 852.4 1425.0 850.8 1425.5 854.4 1426.0 851.8 1426.5 853.0 1427.0 855.2 1427.5 853.0 1428.0 854.1 1428.5 853.2 1429.0 854.2 1429.5 853.5 1430.0 852.9 1430.5 854.9 1431.0 853.1 1431.5 852.0 1432.0 853.0 1432.5 853.9 1433.0 852.2 1433.5 854.2 1434.0 854.1 1434.5 855.5 1435.0 852.6 1435.5 853.9 1436.0 851.4 1436.5 852.7 1437.0 853.2 1437.5 853.5 1438.0 852.9 1438.5 852.8 1439.0 852.2 1439.5 852.4 1440.0 853.1 1440.5 853.3 1441.0 853.4 1441.5 853.7 1442.0 853.8 1442.5 850.6 1443.0 851.9 1443.5 852.3 1444.0 851.7 1444.5 853.4 1445.0 853.1 1445.5 852.1 1446.0 852.3 1446.5 853.4 1447.0 851.7 1447.5 851.7 1448.0 852.9 1448.5 852.4 1449.0 853.4 1449.5 852.2 1450.0 852.6 1450.5 851.2 1451.0 850.7 1451.5 851.7 1452.0 848.9 1452.5 852.1 1453.0 852.6 1453.5 851.7 1454.0 851.3 1454.5 852.7 1455.0 851.5 1455.5 852.6 1456.0 853.8 1456.5 852.3 1457.0 852.5 1457.5 852.1 1458.0 851.8 1458.5 851.9 1459.0 851.6 1459.5 852.7 1460.0 849.9 1460.5 851.4 1461.0 852.4 1461.5 850.8 1462.0 851.6 1462.5 851.0 1463.0 852.3 1463.5 852.7 1464.0 853.4 1464.5 852.4 1465.0 851.2 1465.5 852.3 1466.0 852.6 1466.5 853.6 1467.0 849.9 1467.5 852.6 1468.0 850.3 1468.5 853.0 1469.0 852.8 1469.5 852.9 1470.0 853.4 1470.5 852.9 1471.0 851.9 1471.5 853.0 1472.0 854.0 1472.5 852.6 1473.0 852.8 1473.5 851.6 1474.0 854.2 1474.5 852.5 1475.0 852.3 1475.5 852.7 1476.0 852.3 1476.5 853.0 1477.0 854.7 1477.5 854.2 1478.0 854.9 1478.5 855.1 1479.0 852.6 1479.5 854.1 1480.0 855.2 1480.5 856.1 1481.0 852.3 1481.5 852.3 1482.0 854.4 1482.5 853.6 1483.0 853.0 1483.5 854.5 1484.0 853.3 1484.5 851.8 1485.0 854.2 1485.5 854.4 1486.0 855.0 1486.5 855.3 1487.0 854.6 1487.5 854.2 1488.0 853.8 1488.5 852.8 1489.0 854.1 1489.5 855.6 1490.0 855.3 1490.5 856.8 1491.0 854.5 1491.5 852.9 1492.0 855.7 1492.5 855.9 1493.0 853.6 1493.5 853.2 1494.0 855.1 1494.5 855.7 1495.0 853.9 1495.5 854.7 1496.0 854.3 1496.5 853.9 1497.0 853.8 1497.5 855.4 1498.0 854.9 1498.5 854.6 1499.0 852.6 1499.5 857.2 1500.0 854.4 1500.5 855.3 1501.0 854.3 1501.5 855.9 1502.0 854.0 1502.5 855.7 1503.0 855.5 1503.5 856.7 1504.0 854.6 1504.5 855.1 1505.0 855.6 1505.5 858.1 1506.0 854.3 1506.5 856.2 1507.0 855.3 1507.5 856.3 1508.0 856.7 1508.5 856.2 1509.0 856.4 1509.5 856.5 1510.0 855.6 1510.5 856.0 1511.0 854.5 1511.5 855.9 1512.0 855.5 1512.5 856.1 1513.0 857.2 1513.5 856.9 1514.0 857.0 1514.5 857.7 1515.0 854.1 1515.5 857.1 1516.0 856.6 1516.5 856.6 1517.0 855.3 1517.5 857.3 1518.0 858.0 1518.5 857.9 1519.0 856.8 1519.5 857.6 1520.0 857.9 1520.5 858.9 1521.0 858.3 1521.5 857.2 1522.0 857.2 1522.5 857.3 1523.0 857.4 1523.5 856.7 1524.0 858.0 1524.5 856.5 1525.0 856.4 1525.5 857.7 1526.0 856.7 1526.5 857.1 1527.0 855.2 1527.5 858.3 1528.0 857.5 1528.5 857.4 1529.0 858.0 1529.5 857.8 1530.0 856.9 1530.5 859.8 1531.0 857.2 1531.5 858.7 1532.0 859.7 1532.5 857.1 1533.0 857.9 1533.5 857.0 1534.0 859.0 1534.5 857.6 1535.0 856.8 1535.5 859.4 1536.0 859.0 1536.5 857.1 1537.0 859.3 1537.5 858.3" stroke="#0000ff"/>
<path d="M148.5 697.8 149.0 696.9 149.5 694.2 150.0 695.3 150.5 695.0 151.0 697.0 151.5 697.4 152.0 698.8 152.5 698.3 153.0 696.4 153.5 697.5 154.0 700.7 154.5 700.6 155.0 698.9 155.5 699.1 156.0 699.2 156.5 699.6 157.0 697.4 157.5 701.1 158.0 699.1 158.5 700.3 159.0 696.7 159.5 700.6 160.0 702.3 160.5 697.5 161.0 702.7 161.5 701.4 162.0 699.8 162.5 698.7 163.0 702.5 163.5 701.4 164.0 701.9 164.5 700.7 165.0 700.1 165.5 702.4 166.0 699.9 166.5 702.5 167.0 699.0 167.5 700.0 168.0 699.3 168.5 703.1 169.0 698.9 169.5 699.8 170.0 702.2 170.5 701.6 171.0 704.3 171.5 703.8 172.0 702.1 172.5 702.2 173.0 698.8 173.5 700.1 174.0 700.9 174.5 701.1 175.0 699.4 175.5 700.0 176.0 700.1 176.5 702.7 177.0 701.9 177.5 700.8 178.0 700.9 178.5 701.7 179.0 700.3 179.5 700.9 180.0 699.0 180.5 702.2 181.0 702.6 181.5 701.8 182.0 702.0 182.5 701.8 183.0 704.1 183.5 701.6 184.0 699.4 184.5 699.6 185.0 701.8 185.5 702.0 186.0 701.2 186.5 700.8 187.0 699.4 187.5 696.5 188.0 697.1 188.5 694.9 189.0 696.3 189.5 694.3 190.0 695.8 190.5 694.9 191.0 691.8 191.5 695.1 192.0 694.6 192.5 690.9 193.0 692.6 193.5 692.9 194.0 690.8 194.5 691.8 195.0 690.1 195.5 690.7 196.0 688.6 196.5 687.1 197.0 687.2 197.5 686.4 198.0 684.1 198.5 681.4 199.0 679.2 199.5 678.1 200.0 675.9 200.5 675.3 201.0 673.3 201.5 671.0 202.0 669.3 202.5 667.9 203.0 668.5 203.5 666.0 204.0 660.8 204.5 660.7 205.0 657.5 205.5 656.3 206.0 654.6 206.5 652.6 207.0 649.8 207.5 646.3 208.0 650.2 208.5 651.1 209.0 646.2 209.5 648.5 210.0 646.7 210.5 648.2 211.0 646.5 211.5 648.3 212.0 649.4 212.5 645.9 213.0 652.1 213.5 652.6 214.0 650.2 214.5 660.0 215.0 663.5 215.5 669.0 216.0 673.7 216.5 675.6 217.0 677.0 217.5 680.3 218.0 682.4 218.5 688.6 219.0 689.7 219.5 687.7 220.0 689.4 220.5 691.8 221.0 693.4 221.5 692.6 222.0 693.3 222.5 698.7 223.0 698.5 223.5 695.8 224.0 696.3 224.5 698.4 225.0 700.3 225.5 701.1 226.0 699.9 226.5 697.9 227.0 700.1 227.5 700.2 228.0 698.7 228.5 697.2 229.0 697.9 229.5 696.2 230.0 693.7 230.5 694.5 231.0 691.5 231.5 694.0 232.0 692.4 232.5 689.4 233.0 690.5 233.5 691.2 234.0 685.1 234.5 687.2 235.0 689.1 235.5 683.0 236.0 684.3 236.5 681.4 237.0 682.9 237.5 678.5 238.0 679.2 238.5 680.7 239.0 681.7 239.5 682.3 240.0 683.2 240.5 685.5 241.0 686.2 241.5 687.9 242.0 687.0 242.5 690.1 243.0 696.9 243.5 697.2 244.0 696.4 244.5 697.8 245.0 699.7 245.5 699.4 246.0 704.3 246.5 702.6 247.0 704.5 247.5 708.8 248.0 704.3 248.5 708.3 249.0 706.3 249.5 708.4 250.0 709.8 250.5 710.1 251.0 711.4 251.5 710.8 252.0 712.2 252.5 711.3 253.0 712.8 253.5 712.0 254.0 714.9 254.5 712.9 255.0 715.6 255.5 714.5 256.0 714.9 256.5 716.8 257.0 715.6 257.5 713.3 258.0 716.2 258.5 712.2 259.0 716.0 259.5 715.3 260.0 714.1 260.5 715.9 261.0 715.5 261.5 718.3 262.0 715.4 262.5 718.3 263.0 717.7 263.5 715.4 264.0 715.1 264.5 717.7 265.0 716.0 265.5 716.4 266.0 715.9 266.5 714.8 267.0 715.8 267.5 715.1 268.0 714.5 268.5 716.0 269.0 718.4 269.5 718.3 270.0 716.3 270.5 716.5 271.0 717.0 271.5 718.0 272.0 716.7 272.5 715.8 273.0 715.9 273.5 717.7 274.0 719.4 274.5 715.5 275.0 713.8 275.5 717.2 276.0 716.1 276.5 716.3 277.0 717.5 277.5 716.1 278.0 714.3 278.5 713.5 279.0 715.7 279.5 714.3 280.0 716.0 280.5 714.0 281.0 715.0 281.5 713.6 282.0 714.8 282.5 714.6 283.0 715.8 283.5 716.6 284.0 714.7 284.5 713.8 285.0 717.1 285.5 715.0 286.0 715.3 286.5 715.2 287.0 716.1 287.5 715.4 288.0 714.9 288.5 715.0 289.0 712.9 289.5 713.1 290.0 713.6 290.5 713.8 291.0 713.6 291.5 713.9 292.0 713.4 292.5 712.8 293.0 711.2 293.5 714.2 294.0 713.8 294.5 711.9 295.0 713.5 295.5 713.3 296.0 712.9 296.5 710.4 297.0 711.1 297.5 711.8 298.0 714.5 298.5 711.3 299.0 711.8 299.5 710.8 300.0 711.5 300.5 712.5 301.0 709.3 301.5 708.2 302.0 712.6 302.5 711.7 303.0 710.8 303.5 712.7 304.0 712.6 304.5 708.5 305.0 710.9 305.5 712.4 306.0 710.0 306.5 710.3 307.0 711.8 307.5 710.1 308.0 708.8 308.5 709.3 309.0 708.3 309.5 710.6 310.0 707.5 310.5 710.8 311.0 707.1 311.5 709.0 312.0 706.7 312.5 707.9 313.0 709.3 313.5 709.1 314.0 709.0 314.5 706.7 315.0 706.5 315.5 706.3 316.0 706.4 316.5 704.6 317.0 706.2 317.5 704.8 318.0 705.5 318.5 704.3 319.0 704.2 319.5 701.9 320.0 702.1 320.5 700.6 321.0 701.8 321.5 701.7 322.0 703.0 322.5 699.8 323.0 706.0 323.5 701.0 324.0 702.8 324.5 702.4 325.0 697.1 325.5 700.2 326.0 702.5 326.5 696.8 327.0 701.2 327.5 698.6 328.0 699.1 328.5 700.0 329.0 696.8 329.5 699.7 330.0 698.3 330.5 698.1 331.0 700.1 331.5 704.0 332.0 699.3 332.5 699.5 333.0 698.5 333.5 697.4 334.0 698.7 334.5 700.4 335.0 698.3 335.5 699.3 336.0 697.5 336.5 701.5 337.0 695.2 337.5 698.4 338.0 698.3 338.5 697.8 339.0 695.6 339.5 695.5 340.0 696.8 340.5 697.2 341.0 695.1 341.5 695.3 342.0 697.6 342.5 698.2 343.0 695.7 343.5 695.4 344.0 695.3 344.5 700.0 345.0 696.9 345.5 696.0 346.0 697.5 346.5 699.3 347.0 697.5 347.5 693.5 348.0 695.4 348.5 694.7 349.0 694.7 349.5 693.2 350.0 694.3 350.5 693.0 351.0 695.0 351.5 694.3 352.0 691.9 352.5 691.2 353.0 692.9 353.5 694.3 354.0 693.9 354.5 692.7 355.0 687.5 355.5 691.5 356.0 690.9 356.5 691.2 357.0 689.6 357.5 690.5 358.0 689.9 358.5 694.9 359.0 691.4 359.5 689.7 360.0 689.7 360.5 689.3 361.0 689.5 361.5 688.2 362.0 688.6 362.5 690.0 363.0 689.4 363.5 688.2 364.0 689.6 364.5 687.5 365.0 685.3 365.5 683.7 366.0 685.1 366.5 685.8 367.0 686.3 367.5 687.1 368.0 684.0 368.5 683.3 369.0 685.6 369.5 685.9 370.0 682.9 370.5 683.9 371.0 685.3 371.5 683.2 372.0 682.2 372.5 678.5 373.0 683.9 373.5 682.4 374.0 681.2 374.5 679.8 375.0 678.1 375.5 679.7 376.0 679.4 376.5 681.1 377.0 676.8 377.5 681.0 378.0 678.2 378.5 679.9 379.0 675.8 379.5 677.7 380.0 678.9 380.5 676.6 381.0 673.5 381.5 675.1 382.0 676.3 382.5 672.5 383.0 672.0 383.5 674.6 384.0 672.1 384.5 674.7 385.0 671.0 385.5 669.4 386.0 670.9 386.5 674.6 387.0 670.0 387.5 671.1 388.0 671.1 388.5 668.6 389.0 671.9 389.5 669.8 390.0 669.8 390.5 665.5 391.0 664.9 391.5 662.6 392.0 666.9 392.5 666.4 393.0 667.6 393.5 668.6 394.0 664.9 394.5 664.3 395.0 665.2 395.5 666.7 396.0 661.8 396.5 664.0 397.0 661.9 397.5 661.2 398.0 662.8 398.5 659.3 399.0 658.2 399.5 661.0 400.0 659.2 400.5 658.2 401.0 657.9 401.5 658.6 402.0 656.4 402.5 658.1 403.0 656.9 403.5 658.5 404.0 657.6 404.5 656.3 405.0 653.8 405.5 654.0 406.0 652.1 406.5 658.6 407.0 652.0 407.5 653.2 408.0 654.4 408.5 648.5 409.0 649.2 409.5 649.6 410.0 648.0 410.5 646.9 411.0 648.0 411.5 651.2 412.0 649.5 412.5 647.5 413.0 646.9 413.5 642.8 414.0 647.0 414.5 645.8 415.0 641.9 415.5 643.7 416.0 641.8 416.5 639.9 417.0 637.6 417.5 636.8 418.0 634.8 418.5 636.2 419.0 634.4 419.5 632.8 420.0 630.1 420.5 628.0 421.0 631.9 421.5 621.6 422.0 626.8 422.5 623.3 423.0 620.9 423.5 617.9 424.0 616.9 424.5 612.9 425.0 610.8 425.5 612.2 426.0 607.0 426.5 611.4 427.0 610.6 427.5 598.1 428.0 601.0 428.5 603.8 429.0 602.0 429.5 600.0 430.0 598.9 430.5 597.6 431.0 595.3 431.5 594.8 432.0 587.3 432.5 586.6 433.0 577.6 433.5 579.6 434.0 575.5 434.5 581.4 435.0 583.0 435.5 577.4 436.0 571.7 436.5 574.1 437.0 573.8 437.5 573.6 438.0 575.4 438.5 574.5 439.0 564.3 439.5 574.6 440.0 569.1 440.5 568.5 441.0 573.5 441.5 568.5 442.0 565.1 442.5 564.9 443.0 568.2 443.5 570.2 444.0 571.4 444.5 566.5 445.0 565.3 445.5 570.6 446.0 564.5 446.5 569.4 447.0 565.7 447.5 565.3 448.0 563.7 448.5 564.8 449.0 562.4 449.5 561.5 450.0 562.7 450.5 561.0 451.0 563.4 451.5 562.6 452.0 561.5 452.5 561.5 453.0 561.3 453.5 566.6 454.0 561.7 454.5 560.1 455.0 560.9 455.5 563.6 456.0 561.3 456.5 561.5 457.0 561.3 457.5 562.6 458.0 563.3 458.5 563.6 459.0 558.1 459.5 559.8 460.0 555.7 460.5 565.3 461.0 566.4 461.5 567.2 462.0 564.2 462.5 567.2 463.0 564.2 463.5 564.3 464.0 560.7 464.5 563.0 465.0 563.8 465.5 568.3 466.0 570.6 466.5 565.1 467.0 567.8 467.5 568.1 468.0 565.7 468.5 563.7 469.0 567.0 469.5 565.8 470.0 569.5 470.5 570.7 471.0 571.3 471.5 572.1 472.0 574.6 472.5 571.6 473.0 577.2 473.5 571.2 474.0 576.6 474.5 578.3 475.0 576.2 475.5 575.1 476.0 582.1 476.5 579.8 477.0 584.7 477.5 585.8 478.0 585.0 478.5 586.1 479.0 589.8 479.5 589.3 480.0 587.1 480.5 590.9 481.0 592.8 481.5 592.8 482.0 593.5 482.5 593.4 483.0 594.1 483.5 592.6 484.0 591.9 484.5 598.8 485.0 594.9 485.5 597.6 486.0 593.8 486.5 598.3 487.0 596.3 487.5 606.1 488.0 596.7 488.5 597.2 489.0 602.3 489.5 603.1 490.0 595.4 490.5 601.5 491.0 603.3 491.5 598.5 492.0 603.4 492.5 600.6 493.0 599.7 493.5 601.5 494.0 601.4 494.5 599.3 495.0 608.3 495.5 601.9 496.0 601.3 496.5 605.3 497.0 603.2 497.5 606.7 498.0 603.0 498.5 604.6 499.0 604.1 499.5 604.3 500.0 603.6 500.5 603.9 501.0 608.3 501.5 602.8 502.0 603.2 502.5 603.8 503.0 606.2 503.5 605.9 504.0 607.4 504.5 602.0 505.0 606.1 505.5 605.2 506.0 605.1 506.5 606.5 507.0 601.6 507.5 607.2 508.0 607.2 508.5 603.8 509.0 607.3 509.5 611.5 510.0 607.2 510.5 609.9 511.0 608.3 511.5 607.3 512.0 607.3 512.5 608.9 513.0 613.2 513.5 612.4 514.0 609.1 514.5 613.4 515.0 611.0 515.5 610.0 516.0 612.8 516.5 609.9 517.0 608.5 517.5 615.4 518.0 608.3 518.5 614.0 519.0 609.3 519.5 613.0 520.0 612.8 520.5 612.4 521.0 608.4 521.5 613.4 522.0 613.7 522.5 611.8 523.0 613.8 523.5 616.3 524.0 612.4 524.5 614.6 525.0 611.3 525.5 614.8 526.0 615.3 526.5 619.4 527.0 615.5 527.5 614.2 528.0 616.2 528.5 610.4 529.0 614.9 529.5 610.8 530.0 610.3 530.5 613.9 531.0 611.5 531.5 613.7 532.0 606.8 532.5 610.5 533.0 608.2 533.5 608.4 534.0 604.2 534.5 610.5 535.0 608.4 535.5 605.3 536.0 604.1 536.5 604.8 537.0 609.9 537.5 606.0 538.0 605.0 538.5 606.7 539.0 605.1 539.5 605.3 540.0 606.1 540.5 604.8 541.0 605.7 541.5 600.3 542.0 602.9 542.5 601.5 543.0 602.2 543.5 601.4 544.0 599.5 544.5 599.7 545.0 602.4 545.5 598.3 546.0 596.1 546.5 600.0 547.0 600.4 547.5 596.9 548.0 597.3 548.5 594.3 549.0 595.3 549.5 597.9 550.0 596.4 550.5 594.2 551.0 592.4 551.5 588.4 552.0 592.5 552.5 592.1 553.0 592.8 553.5 594.5 554.0 589.6 554.5 590.3 555.0 584.3 555.5 589.4 556.0 587.7 556.5 588.2 557.0 585.6 557.5 584.2 558.0 585.9 558.5 579.5 559.0 581.8 559.5 581.9 560.0 576.1 560.5 574.1 561.0 577.2 561.5 575.4 562.0 575.7 562.5 574.8 563.0 570.2 563.5 572.2 564.0 573.4 564.5 568.7 565.0 568.2 565.5 565.3 566.0 569.9 566.5 572.3 567.0 563.0 567.5 568.2 568.0 568.1 568.5 563.7 569.0 563.8 569.5 561.6 570.0 561.9 570.5 564.0 571.0 565.0 571.5 563.2 572.0 564.8 572.5 562.7 573.0 558.6 573.5 565.3 574.0 564.2 574.5 558.8 575.0 565.1 575.5 561.2 576.0 559.9 576.5 564.3 577.0 552.0 577.5 553.9 578.0 559.8 578.5 556.7 579.0 554.3 579.5 560.5 580.0 557.2 580.5 551.8 581.0 553.0 581.5 556.6 582.0 558.6 582.5 547.6 583.0 553.3 583.5 551.0 584.0 546.7 584.5 550.6 585.0 546.1 585.5 548.5 586.0 554.0 586.5 550.5 587.0 550.8 587.5 549.9 588.0 548.8 588.5 550.2 589.0 543.9 589.5 545.8 590.0 549.0 590.5 544.3 591.0 544.9 591.5 549.3 592.0 550.0 592.5 543.8 593.0 543.0 593.5 546.7 594.0 545.6 594.5 542.8 595.0 546.2 595.5 545.9 596.0 544.4 596.5 552.3 597.0 547.8 597.5 546.1 598.0 546.6 598.5 552.0 599.0 546.7 599.5 541.6 600.0 544.5 600.5 543.8 601.0 542.1 601.5 544.5 602.0 544.5 602.5 543.7 603.0 542.6 603.5 546.5 604.0 539.8 604.5 546.8 605.0 544.6 605.5 545.6 606.0 538.3 606.5 549.9 607.0 540.5 607.5 543.2 608.0 547.6 608.5 544.4 609.0 545.2 609.5 540.3 610.0 545.7 610.5 548.0 611.0 549.8 611.5 547.6 612.0 549.7 612.5 550.9 613.0 548.5 613.5 549.0 614.0 557.2 614.5 550.0 615.0 556.5 615.5 554.0 616.0 558.6 616.5 553.6 617.0 557.6 617.5 558.0 618.0 557.3 618.5 559.6 619.0 557.4 619.5 560.0 620.0 559.7 620.5 563.4 621.0 561.5 621.5 558.4 622.0 561.6 622.5 562.8 623.0 561.1 623.5 567.5 624.0 565.4 624.5 567.0 625.0 563.0 625.5 564.4 626.0 568.5 626.5 562.3 627.0 567.5 627.5 567.0 628.0 565.8 628.5 567.6 629.0 564.8 629.5 568.5 630.0 564.9 630.5 564.9 631.0 572.2 631.5 566.7 632.0 563.1 632.5 571.4 633.0 566.8 633.5 559.6 634.0 568.8 634.5 571.4 635.0 569.8 635.5 573.4 636.0 568.5 636.5 570.4 637.0 566.1 637.5 569.1 638.0 572.7 638.5 569.9 639.0 568.9 639.5 563.1 640.0 567.3 640.5 564.8 641.0 570.2 641.5 566.0 642.0 568.8 642.5 565.1 643.0 572.6 643.5 564.3 644.0 567.7 644.5 574.2 645.0 567.6 645.5 564.6 646.0 568.3 646.5 569.0 647.0 568.4 647.5 560.3 648.0 565.8 648.5 559.0 649.0 569.3 649.5 563.8 650.0 561.8 650.5 564.2 651.0 563.1 651.5 557.8 652.0 564.8 652.5 559.0 653.0 554.1 653.5 562.0 654.0 561.6 654.5 560.1 655.0 557.4 655.5 552.7 656.0 557.0 656.5 558.9 657.0 555.2 657.5 556.6 658.0 549.1 658.5 553.3 659.0 552.2 659.5 544.4 660.0 543.1 660.5 544.7 661.0 546.0 661.5 546.1 662.0 543.1 662.5 542.6 663.0 541.4 663.5 540.9 664.0 541.3 664.5 540.1 665.0 537.4 665.5 537.3 666.0 534.2 666.5 536.8 667.0 531.8 667.5 537.0 668.0 530.9 668.5 530.5 669.0 526.2 669.5 526.2 670.0 526.5 670.5 524.9 671.0 521.8 671.5 519.1 672.0 521.8 672.5 521.2 673.0 521.5 673.5 522.9 674.0 517.5 674.5 511.7 675.0 516.7 675.5 510.9 676.0 512.0 676.5 518.7 677.0 517.0 677.5 513.2 678.0 513.4 678.5 515.7 679.0 511.4 679.5 519.3 680.0 517.9 680.5 525.7 681.0 518.0 681.5 525.3 682.0 521.4 682.5 527.7 683.0 523.0 683.5 529.5 684.0 527.3 684.5 527.4 685.0 530.7 685.5 533.7 686.0 534.7 686.5 539.3 687.0 538.3 687.5 529.4 688.0 537.1 688.5 533.7 689.0 539.5 689.5 543.6 690.0 539.2 690.5 540.8 691.0 545.8 691.5 545.7 692.0 552.2 692.5 549.8 693.0 551.6 693.5 556.2 694.0 551.1 694.5 553.7 695.0 552.1 695.5 556.8 696.0 560.1 696.5 562.2 697.0 559.5 697.5 558.9 698.0 559.9 698.5 559.4 699.0 564.8 699.5 569.3 700.0 560.4 700.5 562.1 701.0 573.0 701.5 566.1 702.0 572.6 702.5 569.6 703.0 576.2 703.5 577.5 704.0 577.1 704.5 580.1 705.0 579.4 705.5 582.1 706.0 586.7 706.5 586.1 707.0 582.9 707.5 583.9 708.0 586.8 708.5 588.1 709.0 590.3 709.5 589.9 710.0 594.4 710.5 594.1 711.0 596.2 711.5 596.6 712.0 599.3 712.5 596.1 713.0 604.1 713.5 602.1 714.0 603.5 714.5 604.9 715.0 607.1 715.5 607.2 716.0 607.0 716.5 607.0 717.0 604.4 717.5 609.8 718.0 609.5 718.5 610.4 719.0 617.8 719.5 608.7 720.0 614.1 720.5 617.8 721.0 618.1 721.5 619.7 722.0 614.9 722.5 616.7 723.0 621.3 723.5 620.3 724.0 626.0 724.5 623.8 725.0 624.9 725.5 626.7 726.0 626.4 726.5 628.5 727.0 628.1 727.5 630.8 728.0 631.1 728.5 634.0 729.0 631.8 729.5 633.0 730.0 638.6 730.5 639.4 731.0 638.2 731.5 641.1 732.0 640.5 732.5 648.0 733.0 641.5 733.5 649.2 734.0 644.9 734.5 648.4 735.0 647.8 735.5 648.4 736.0 651.9 736.5 652.4 737.0 651.0 737.5 650.5 738.0 657.2 738.5 656.6 739.0 654.8 739.5 654.6 740.0 656.5 740.5 656.7 741.0 659.6 741.5 656.0 742.0 658.6 742.5 657.7 743.0 662.4 743.5 664.0 744.0 661.0 744.5 662.9 745.0 665.2 745.5 662.6 746.0 662.1 746.5 666.5 747.0 666.1 747.5 665.5 748.0 669.3 748.5 667.7 749.0 664.6 749.5 669.2 750.0 669.1 750.5 673.3 751.0 670.5 751.5 670.8 752.0 672.6 752.5 672.9 753.0 670.6 753.5 673.9 754.0 673.7 754.5 677.3 755.0 679.5 755.5 673.9 756.0 674.7 756.5 675.4 757.0 676.1 757.5 676.5 758.0 678.2 758.5 680.4 759.0 676.6 759.5 676.6 760.0 676.5 760.5 681.8 761.0 682.6 761.5 678.1 762.0 678.2 762.5 681.5 763.0 683.5 763.5 683.6 764.0 682.6 764.5 683.7 765.0 683.4 765.5 682.2 766.0 686.5 766.5 683.6 767.0 682.1 767.5 683.4 768.0 681.9 768.5 684.7 769.0 686.7 769.5 683.0 770.0 687.2 770.5 689.0 771.0 686.4 771.5 684.1 772.0 684.8 772.5 685.9 773.0 684.6 773.5 684.9 774.0 686.7 774.5 687.1 775.0 688.6 775.5 685.9 776.0 691.0 776.5 690.0 777.0 689.9 777.5 687.7 778.0 691.7 778.5 688.6 779.0 692.2 779.5 691.2 780.0 688.3 780.5 689.2 781.0 693.1 781.5 691.9 782.0 690.2 782.5 690.9 783.0 691.1 783.5 689.7 784.0 690.7 784.5 690.1 785.0 690.6 785.5 692.1 786.0 690.0 786.5 692.7 787.0 691.8 787.5 692.9 788.0 693.1 788.5 693.7 789.0 692.7 789.5 692.8 790.0 691.4 790.5 692.6 791.0 690.2 791.5 691.1 792.0 692.6 792.5 691.2 793.0 691.9 793.5 689.4 794.0 693.0 794.5 689.9 795.0 691.2 795.5 690.4 796.0 691.8 796.5 689.5 797.0 688.4 797.5 686.8 798.0 689.2 798.5 687.7 799.0 690.3 799.5 691.7 800.0 685.8 800.5 687.2 801.0 689.7 801.5 691.1 802.0 689.6 802.5 689.7 803.0 690.1 803.5 690.4 804.0 692.2 804.5 690.8 805.0 688.2 805.5 689.7 806.0 691.1 806.5 689.8 807.0 691.0 807.5 691.0 808.0 691.1 808.5 693.6 809.0 692.3 809.5 691.7 810.0 692.6 810.5 694.2 811.0 697.7 811.5 695.2 812.0 697.4 812.5 696.2 813.0 692.6 813.5 696.7 814.0 695.2 814.5 694.9 815.0 695.6 815.5 700.3 816.0 695.6 816.5 697.4 817.0 700.3 817.5 699.9 818.0 696.7 818.5 699.3 819.0 699.0 819.5 699.7 820.0 701.3 820.5 699.7 821.0 700.3 821.5 703.1 822.0 698.6 822.5 700.9 823.0 702.2 823.5 699.9 824.0 700.8 824.5 699.9 825.0 701.9 825.5 700.7 826.0 702.7 826.5 702.9 827.0 701.3 827.5 700.5 828.0 701.2 828.5 700.7 829.0 698.6 829.5 701.6 830.0 700.1 830.5 700.6 831.0 697.2 831.5 700.2 832.0 701.7 832.5 699.2 833.0 695.8 833.5 697.7 834.0 697.2 834.5 697.4 835.0 696.4 835.5 697.3 836.0 695.6 836.5 696.4 837.0 694.9 837.5 695.9 838.0 697.1 838.5 694.8 839.0 696.5 839.5 694.1 840.0 694.9 840.5 695.2 841.0 697.5 841.5 694.6 842.0 697.8 842.5 693.9 843.0 696.2 843.5 698.0 844.0 698.0 844.5 695.7 845.0 695.7 845.5 699.1 846.0 696.2 846.5 699.3 847.0 697.9 847.5 699.0 848.0 702.7 848.5 701.8 849.0 701.0 849.5 698.0 850.0 700.6 850.5 700.4 851.0 700.3 851.5 702.4 852.0 698.0 852.5 701.0 853.0 700.7 853.5 699.4 854.0 703.0 854.5 698.7 855.0 700.6 855.5 700.6 856.0 697.3 856.5 698.4 857.0 699.1 857.5 701.7 858.0 701.9 858.5 701.4 859.0 700.9 859.5 697.3 860.0 700.8 860.5 699.8 861.0 702.2 861.5 702.5 862.0 703.8 862.5 701.6 863.0 701.9 863.5 699.4 864.0 701.3 864.5 699.8 865.0 703.2 865.5 700.7 866.0 702.6 866.5 702.3 867.0 703.4 867.5 705.2 868.0 704.4 868.5 706.0 869.0 704.9 869.5 708.7 870.0 706.4 870.5 709.1 871.0 711.0 871.5 705.2 872.0 707.5 872.5 708.9 873.0 711.1 873.5 709.3 874.0 710.8 874.5 709.7 875.0 711.7 875.5 709.8 876.0 712.8 876.5 708.2 877.0 710.0 877.5 715.0 878.0 713.2 878.5 712.2 879.0 716.4 879.5 715.2 880.0 715.6 880.5 713.9 881.0 715.4 881.5 715.5 882.0 713.0 882.5 716.0 883.0 715.2 883.5 717.2 884.0 717.3 884.5 715.1 885.0 715.2 885.5 716.3 886.0 717.0 886.5 715.8 887.0 716.3 887.5 717.2 888.0 717.1 888.5 718.1 889.0 717.1 889.5 715.8 890.0 714.8 890.5 718.0 891.0 716.7 891.5 716.8 892.0 716.9 892.5 715.4 893.0 716.9 893.5 714.3 894.0 717.1 894.5 716.5 895.0 719.9 895.5 718.3 896.0 717.5 896.5 718.1 897.0 718.8 897.5 717.1 898.0 717.8 898.5 717.7 899.0 721.2 899.5 718.3 900.0 716.0 900.5 719.3 901.0 721.5 901.5 717.4 902.0 722.7 902.5 718.6 903.0 720.0 903.5 718.2 904.0 718.6 904.5 717.6 905.0 717.9 905.5 716.7 906.0 720.6 906.5 718.0 907.0 719.9 907.5 720.0 908.0 718.9 908.5 719.8 909.0 719.8 909.5 719.4 910.0 720.1 910.5 720.2 911.0 719.0 911.5 718.8 912.0 719.4 912.5 720.6 913.0 722.1 913.5 722.3 914.0 721.0 914.5 721.8 915.0 720.9 915.5 722.1 916.0 721.1 916.5 721.4 917.0 720.7 917.5 721.0 918.0 723.2 918.5 719.7 919.0 721.1 919.5 720.4 920.0 722.2 920.5 723.2 921.0 720.8 921.5 717.9 922.0 721.8 922.5 721.8 923.0 719.2 923.5 720.9 924.0 721.1 924.5 718.5 925.0 721.9 925.5 721.7 926.0 721.4 926.5 719.9 927.0 720.3 927.5 720.4 928.0 721.7 928.5 720.0 929.0 722.8 929.5 721.6 930.0 718.7 930.5 723.1 931.0 721.3 931.5 720.5 932.0 721.3 932.5 719.1 933.0 721.4 933.5 718.3 934.0 720.0 934.5 722.7 935.0 722.6 935.5 720.8 936.0 720.0 936.5 722.2 937.0 721.1 937.5 721.4 938.0 721.9 938.5 719.9 939.0 722.1 939.5 718.7 940.0 722.8 940.5 719.3 941.0 720.4 941.5 720.4 942.0 722.0 942.5 722.0 943.0 721.6 943.5 721.8 944.0 721.7 944.5 721.1 945.0 718.9 945.5 718.5 946.0 718.5 946.5 721.1 947.0 720.9 947.5 721.0 948.0 721.4 948.5 720.9 949.0 720.0 949.5 719.4 950.0 718.9 950.5 722.6 951.0 722.2 951.5 719.6 952.0 720.8 952.5 721.7 953.0 723.0 953.5 720.4 954.0 721.3 954.5 722.5 955.0 719.1 955.5 720.3 956.0 721.1 956.5 720.3 957.0 723.5 957.5 722.0 958.0 721.2 958.5 719.8 959.0 721.9 959.5 721.6 960.0 720.2 960.5 720.2 961.0 718.9 961.5 720.5 962.0 721.5 962.5 721.6 963.0 721.0 963.5 721.3 964.0 719.5 964.5 719.6 965.0 721.5 965.5 720.5 966.0 719.0 966.5 720.4 967.0 720.8 967.5 720.5 968.0 719.8 968.5 719.0 969.0 720.0 969.5 721.5 970.0 719.6 970.5 718.6 971.0 719.7 971.5 717.8 972.0 719.5 972.5 718.9 973.0 720.4 973.5 719.4 974.0 720.5 974.5 722.0 975.0 719.0 975.5 718.3 976.0 719.8 976.5 719.2 977.0 719.5 977.5 718.7 978.0 720.1 978.5 719.5 979.0 716.9 979.5 719.3 980.0 720.0 980.5 721.0 981.0 719.0 981.5 718.8 982.0 721.1 982.5 719.1 983.0 720.0 983.5 720.5 984.0 720.8 984.5 720.0 985.0 718.7 985.5 721.3 986.0 719.6 986.5 719.6 987.0 722.6 987.5 721.3 988.0 719.0 988.5 719.7 989.0 720.0 989.5 719.4 990.0 718.1 990.5 721.3 991.0 721.2 991.5 720.6 992.0 719.9 992.5 720.6 993.0 721.1 993.5 719.1 994.0 720.0 994.5 719.7 995.0 721.2 995.5 720.7 996.0 718.9 996.5 719.7 997.0 722.4 997.5 719.3 998.0 720.6 998.5 719.7 999.0 721.8 999.5 720.3 1000.0 719.9 1000.5 719.0 1001.0 720.1 1001.5 721.4 1002.0 721.2 1002.5 718.9 1003.0 722.2 1003.5 720.1 1004.0 719.2 1004.5 720.6 1005.0 719.7 1005.5 719.7 1006.0 719.7 1006.5 720.3 1007.0 719.8 1007.5 718.4 1008.0 721.0 1008.5 719.8 1009.0 721.8 1009.5 721.0 1010.0 721.1 1010.5 720.6 1011.0 721.8 1011.5 719.9 1012.0 719.1 1012.5 720.6 1013.0 717.0 1013.5 719.6 1014.0 720.3 1014.5 719.5 1015.0 721.3 1015.5 720.6 1016.0 719.8 1016.5 719.1 1017.0 720.8 1017.5 718.6 1018.0 718.8 1018.5 720.1 1019.0 719.8 1019.5 721.4 1020.0 718.6 1020.5 716.6 1021.0 719.5 1021.5 720.1 1022.0 718.2 1022.5 720.2 1023.0 720.3 1023.5 717.3 1024.0 717.4 1024.5 716.3 1025.0 718.3 1025.5 718.4 1026.0 718.1 1026.5 715.8 1027.0 716.2 1027.5 715.3 1028.0 714.9 1028.5 715.1 1029.0 714.7 1029.5 716.2 1030.0 716.9 1030.5 717.0 1031.0 716.0 1031.5 715.1 1032.0 715.8 1032.5 716.4 1033.0 715.2 1033.5 715.5 1034.0 714.9 1034.5 714.5 1035.0 715.1 1035.5 713.5 1036.0 716.2 1036.5 712.8 1037.0 715.2 1037.5 712.8 1038.0 716.3 1038.5 715.4 1039.0 713.1 1039.5 713.5 1040.0 712.5 1040.5 713.7 1041.0 714.2 1041.5 716.9 1042.0 711.7 1042.5 714.9 1043.0 712.5 1043.5 713.5 1044.0 714.1 1044.5 713.6 1045.0 713.3 1045.5 712.4 1046.0 712.5 1046.5 712.6 1047.0 713.8 1047.5 710.2 1048.0 711.4 1048.5 710.3 1049.0 710.5 1049.5 710.6 1050.0 712.9 1050.5 714.2 1051.0 713.0 1051.5 709.6 1052.0 711.1 1052.5 709.4 1053.0 711.4 1053.5 712.3 1054.0 711.3 1054.5 711.6 1055.0 710.1 1055.5 707.5 1056.0 707.4 1056.5 709.8 1057.0 710.6 1057.5 711.4 1058.0 709.1 1058.5 709.6 1059.0 709.7 1059.5 710.7 1060.0 709.0 1060.5 707.5 1061.0 710.4 1061.5 709.4 1062.0 709.2 1062.5 706.9 1063.0 708.5 1063.5 706.0 1064.0 705.6 1064.5 707.9 1065.0 707.5 1065.5 708.8 1066.0 709.8 1066.5 707.7 1067.0 710.1 1067.5 706.8 1068.0 708.5 1068.5 705.6 1069.0 707.4 1069.5 706.7 1070.0 706.7 1070.5 707.7 1071.0 704.2 1071.5 706.9 1072.0 705.5 1072.5 706.6 1073.0 706.9 1073.5 705.7 1074.0 705.6 1074.5 704.4 1075.0 706.7 1075.5 704.9 1076.0 706.3 1076.5 703.6 1077.0 707.4 1077.5 704.0 1078.0 706.9 1078.5 704.5 1079.0 705.8 1079.5 704.8 1080.0 705.8 1080.5 704.8 1081.0 706.5 1081.5 705.5 1082.0 705.5 1082.5 706.8 1083.0 703.3 1083.5 706.1 1084.0 704.3 1084.5 702.0 1085.0 704.7 1085.5 703.7 1086.0 706.3 1086.5 703.1 1087.0 703.8 1087.5 704.1 1088.0 700.9 1088.5 704.3 1089.0 702.2 1089.5 705.5 1090.0 705.9 1090.5 703.5 1091.0 701.2 1091.5 703.7 1092.0 703.7 1092.5 704.4 1093.0 703.0 1093.5 701.7 1094.0 703.2 1094.5 702.1 1095.0 706.0 1095.5 702.5 1096.0 702.6 1096.5 703.5 1097.0 701.8 1097.5 703.0 1098.0 703.5 1098.5 703.1 1099.0 703.5 1099.5 705.7 1100.0 704.6 1100.5 702.1 1101.0 703.5 1101.5 705.2 1102.0 703.3 1102.5 704.4 1103.0 704.4 1103.5 705.2 1104.0 704.3 1104.5 704.4 1105.0 703.5 1105.5 705.3 1106.0 703.5 1106.5 707.3 1107.0 704.9 1107.5 704.7 1108.0 706.2 1108.5 705.0 1109.0 705.3 1109.5 705.1 1110.0 704.2 1110.5 704.0 1111.0 704.3 1111.5 706.9 1112.0 704.4 1112.5 704.7 1113.0 704.6 1113.5 706.1 1114.0 707.8 1114.5 703.5 1115.0 705.4 1115.5 704.6 1116.0 703.7 1116.5 704.6 1117.0 701.8 1117.5 704.5 1118.0 703.3 1118.5 701.2 1119.0 704.6 1119.5 703.2 1120.0 703.3 1120.5 699.1 1121.0 700.5 1121.5 699.7 1122.0 701.1 1122.5 701.8 1123.0 696.7 1123.5 699.3 1124.0 698.8 1124.5 700.2 1125.0 698.4 1125.5 696.3 1126.0 697.8 1126.5 696.4 1127.0 696.6 1127.5 697.8 1128.0 697.0 1128.5 698.2 1129.0 695.7 1129.5 701.8 1130.0 700.7 1130.5 700.5 1131.0 698.1 1131.5 697.6 1132.0 700.3 1132.5 702.0 1133.0 706.3 1133.5 705.8 1134.0 703.9 1134.5 707.1 1135.0 707.7 1135.5 706.5 1136.0 708.6 1136.5 707.6 1137.0 706.4 1137.5 705.9 1138.0 707.5 1138.5 709.1 1139.0 706.1 1139.5 705.8 1140.0 708.9 1140.5 704.6 1141.0 710.8 1141.5 707.9 1142.0 709.6 1142.5 711.2 1143.0 706.8 1143.5 707.5 1144.0 712.0 1144.5 708.7 1145.0 709.0 1145.5 709.5 1146.0 710.7 1146.5 711.1 1147.0 709.6 1147.5 709.0 1148.0 709.5 1148.5 710.0 1149.0 711.4 1149.5 709.9 1150.0 712.2 1150.5 708.7 1151.0 710.6 1151.5 712.3 1152.0 711.7 1152.5 710.5 1153.0 709.0 1153.5 709.2 1154.0 710.0 1154.5 710.7 1155.0 710.0 1155.5 708.5 1156.0 709.5 1156.5 711.2 1157.0 711.7 1157.5 708.8 1158.0 710.3 1158.5 708.6 1159.0 710.1 1159.5 715.6 1160.0 711.1 1160.5 710.6 1161.0 710.4 1161.5 709.7 1162.0 708.9 1162.5 711.3 1163.0 711.1 1163.5 713.5 1164.0 709.5 1164.5 712.2 1165.0 713.5 1165.5 709.3 1166.0 712.7 1166.5 709.9 1167.0 712.7 1167.5 714.0 1168.0 712.2 1168.5 712.6 1169.0 711.4 1169.5 712.8 1170.0 713.9 1170.5 712.3 1171.0 712.4 1171.5 713.2 1172.0 713.8 1172.5 710.7 1173.0 713.0 1173.5 712.1 1174.0 713.6 1174.5 714.4 1175.0 713.5 1175.5 714.9 1176.0 712.0 1176.5 712.8 1177.0 712.2 1177.5 713.5 1178.0 713.7 1178.5 713.4 1179.0 712.1 1179.5 713.6 1180.0 713.2 1180.5 714.6 1181.0 713.6 1181.5 715.5 1182.0 714.3 1182.5 711.8 1183.0 714.0 1183.5 712.4 1184.0 715.5 1184.5 716.2 1185.0 714.4 1185.5 715.0 1186.0 712.7 1186.5 711.8 1187.0 713.9 1187.5 714.4 1188.0 712.9 1188.5 714.9 1189.0 715.3 1189.5 715.7 1190.0 716.9 1190.5 716.0 1191.0 714.6 1191.5 715.3 1192.0 716.0 1192.5 714.0 1193.0 717.0 1193.5 716.5 1194.0 715.1 1194.5 714.7 1195.0 720.2 1195.5 716.6 1196.0 716.8 1196.5 717.9 1197.0 717.0 1197.5 716.1 1198.0 716.7 1198.5 714.8 1199.0 716.8 1199.5 714.1 1200.0 716.6 1200.5 716.8 1201.0 714.3 1201.5 718.6 1202.0 714.9 1202.5 717.6 1203.0 715.7 1203.5 716.8 1204.0 715.7 1204.5 719.6 1205.0 717.8 1205.5 718.8 1206.0 717.6 1206.5 717.6 1207.0 716.9 1207.5 716.5 1208.0 717.6 1208.5 717.1 1209.0 716.8 1209.5 715.3 1210.0 716.7 1210.5 717.8 1211.0 716.6 1211.5 717.6 1212.0 717.0 1212.5 716.0 1213.0 716.2 1213.5 716.4 1214.0 717.0 1214.5 717.1 1215.0 718.8 1215.5 716.2 1216.0 715.1 1216.5 718.4 1217.0 717.1 1217.5 717.5 1218.0 720.8 1218.5 719.5 1219.0 718.5 1219.5 718.9 1220.0 718.0 1220.5 719.0 1221.0 717.2 1221.5 717.1 1222.0 717.4 1222.5 719.9 1223.0 719.9 1223.5 717.3 1224.0 719.5 1224.5 717.9 1225.0 719.4 1225.5 717.8 1226.0 719.4 1226.5 718.1 1227.0 717.9 1227.5 718.3 1228.0 718.5 1228.5 717.7 1229.0 716.8 1229.5 720.4 1230.0 718.0 1230.5 716.3 1231.0 715.8 1231.5 715.2 1232.0 717.8 1232.5 720.2 1233.0 716.7 1233.5 718.3 1234.0 716.5 1234.5 720.0 1235.0 719.2 1235.5 719.2 1236.0 720.4 1236.5 720.8 1237.0 720.1 1237.5 718.2 1238.0 717.4 1238.5 717.7 1239.0 716.9 1239.5 721.2 1240.0 718.9 1240.5 719.3 1241.0 719.4 1241.5 721.6 1242.0 718.6 1242.5 720.7 1243.0 719.7 1243.5 719.2 1244.0 717.2 1244.5 720.6 1245.0 718.7 1245.5 719.0 1246.0 719.9 1246.5 719.8 1247.0 721.1 1247.5 719.1 1248.0 720.1 1248.5 720.3 1249.0 720.1 1249.5 720.9 1250.0 719.9 1250.5 721.7 1251.0 719.6 1251.5 718.8 1252.0 720.5 1252.5 722.0 1253.0 720.1 1253.5 720.0 1254.0 720.4 1254.5 721.1 1255.0 720.8 1255.5 721.4 1256.0 719.2 1256.5 722.9 1257.0 721.9 1257.5 720.3 1258.0 722.9 1258.5 721.9 1259.0 723.1 1259.5 720.2 1260.0 723.4 1260.5 721.6 1261.0 719.3 1261.5 722.5 1262.0 721.3 1262.5 720.6 1263.0 721.5 1263.5 719.6 1264.0 722.4 1264.5 721.6 1265.0 721.5 1265.5 723.5 1266.0 721.9 1266.5 721.2 1267.0 720.8 1267.5 721.9 1268.0 723.2 1268.5 721.3 1269.0 720.8 1269.5 723.1 1270.0 722.1 1270.5 722.0 1271.0 724.4 1271.5 720.7 1272.0 722.3 1272.5 720.1 1273.0 721.8 1273.5 722.8 1274.0 723.5 1274.5 720.8 1275.0 723.2 1275.5 723.1 1276.0 722.1 1276.5 725.0 1277.0 722.3 1277.5 721.3 1278.0 722.8 1278.5 720.2 1279.0 724.1 1279.5 723.5 1280.0 721.9 1280.5 723.1 1281.0 723.0 1281.5 724.6 1282.0 721.7 1282.5 721.0 1283.0 720.1 1283.5 722.1 1284.0 720.7 1284.5 722.3 1285.0 723.0 1285.5 722.0 1286.0 721.5 1286.5 723.9 1287.0 722.3 1287.5 722.8 1288.0 723.7 1288.5 721.1 1289.0 721.6 1289.5 725.5 1290.0 722.5 1290.5 721.5 1291.0 722.4 1291.5 722.1 1292.0 721.4 1292.5 722.3 1293.0 722.8 1293.5 722.8 1294.0 723.5 1294.5 720.9 1295.0 721.2 1295.5 723.8 1296.0 722.4 1296.5 724.4 1297.0 723.3 1297.5 721.4 1298.0 723.7 1298.5 722.0 1299.0 723.4 1299.5 724.6 1300.0 725.6 1300.5 723.2 1301.0 724.1 1301.5 723.7 1302.0 724.3 1302.5 720.6 1303.0 723.1 1303.5 723.9 1304.0 724.2 1304.5 722.8 1305.0 724.7 1305.5 725.1 1306.0 723.9 1306.5 723.7 1307.0 723.6 1307.5 724.2 1308.0 725.5 1308.5 725.9 1309.0 723.8 1309.5 723.3 1310.0 723.5 1310.5 725.6 1311.0 724.8 1311.5 725.0 1312.0 725.3 1312.5 725.2 1313.0 724.8 1313.5 723.8 1314.0 724.4 1314.5 725.3 1315.0 725.7 1315.5 724.9 1316.0 724.9 1316.5 727.0 1317.0 725.0 1317.5 725.9 1318.0 725.3 1318.5 724.8 1319.0 724.1 1319.5 725.3 1320.0 725.1 1320.5 727.0 1321.0 724.9 1321.5 725.8 1322.0 727.1 1322.5 726.3 1323.0 727.0 1323.5 727.5 1324.0 724.7 1324.5 726.2 1325.0 725.7 1325.5 728.3 1326.0 726.7 1326.5 727.5 1327.0 728.9 1327.5 726.7 1328.0 727.2 1328.5 727.6 1329.0 726.9 1329.5 728.7 1330.0 728.3 1330.5 728.5 1331.0 727.5 1331.5 727.1 1332.0 727.1 1332.5 727.2 1333.0 725.8 1333.5 728.0 1334.0 728.6 1334.5 727.7 1335.0 727.2 1335.5 727.8 1336.0 728.0 1336.5 728.2 1337.0 729.8 1337.5 726.9 1338.0 728.3 1338.5 728.6 1339.0 728.0 1339.5 727.6 1340.0 726.8 1340.5 727.3 1341.0 728.7 1341.5 729.6 1342.0 727.2 1342.5 728.5 1343.0 728.6 1343.5 729.1 1344.0 728.3 1344.5 728.5 1345.0 729.1 1345.5 726.8 1346.0 728.1 1346.5 726.1 1347.0 725.9 1347.5 727.2 1348.0 726.4 1348.5 728.7 1349.0 729.3 1349.5 727.8 1350.0 728.0 1350.5 727.9 1351.0 727.9 1351.5 728.3 1352.0 728.6 1352.5 727.7 1353.0 727.3 1353.5 727.7 1354.0 729.1 1354.5 727.8 1355.0 729.9 1355.5 728.0 1356.0 729.8 1356.5 727.0 1357.0 727.5 1357.5 728.8 1358.0 728.9 1358.5 728.2 1359.0 730.6 1359.5 728.4 1360.0 728.7 1360.5 727.7 1361.0 730.2 1361.5 729.3 1362.0 728.9 1362.5 726.6 1363.0 728.8 1363.5 727.9 1364.0 728.9 1364.5 729.5 1365.0 727.6 1365.5 728.7 1366.0 729.5 1366.5 728.7 1367.0 728.2 1367.5 727.4 1368.0 727.8 1368.5 727.2 1369.0 729.7 1369.5 728.7 1370.0 727.3 1370.5 728.6 1371.0 727.2 1371.5 725.0 1372.0 730.0 1372.5 730.0 1373.0 727.1 1373.5 728.0 1374.0 729.0 1374.5 728.4 1375.0 727.9 1375.5 728.3 1376.0 728.6 1376.5 728.3 1377.0 729.2 1377.5 728.7 1378.0 728.2 1378.5 729.1 1379.0 727.2 1379.5 730.7 1380.0 727.2 1380.5 729.1 1381.0 729.6 1381.5 729.7 1382.0 729.6 1382.5 730.7 1383.0 728.1 1383.5 729.4 1384.0 729.6 1384.5 729.0 1385.0 728.9 1385.5 731.0 1386.0 728.9 1386.5 729.2 1387.0 729.5 1387.5 729.6 1388.0 730.0 1388.5 729.7 1389.0 730.4 1389.5 730.2 1390.0 730.6 1390.5 731.6 1391.0 729.3 1391.5 732.1 1392.0 729.8 1392.5 731.1 1393.0 730.6 1393.5 730.1 1394.0 728.4 1394.5 732.4 1395.0 729.8 1395.5 729.8 1396.0 731.9 1396.5 730.9 1397.0 733.0 1397.5 732.8 1398.0 731.8 1398.5 731.3 1399.0 732.0 1399.5 729.7 1400.0 731.4 1400.5 731.5 1401.0 730.8 1401.5 731.7 1402.0 729.9 1402.5 732.5 1403.0 733.0 1403.5 730.2 1404.0 731.9 1404.5 733.5 1405.0 732.3 1405.5 730.8 1406.0 730.9 1406.5 733.0 1407.0 734.1 1407.5 730.9 1408.0 732.2 1408.5 731.4 1409.0 732.0 1409.5 732.7 1410.0 732.4 1410.5 731.7 1411.0 734.8 1411.5 732.4 1412.0 732.5 1412.5 733.9 1413.0 732.8 1413.5 732.6 1414.0 733.9 1414.5 731.8 1415.0 733.9 1415.5 734.2 1416.0 733.9 1416.5 733.1 1417.0 733.3 1417.5 731.5 1418.0 733.4 1418.5 733.9 1419.0 734.6 1419.5 733.9 1420.0 733.4 1420.5 733.0 1421.0 733.9 1421.5 734.2 1422.0 735.5 1422.5 734.2 1423.0 733.8 1423.5 734.3 1424.0 733.9 1424.5 734.3 1425.0 732.2 1425.5 733.0 1426.0 733.5 1426.5 735.4 1427.0 734.9 1427.5 735.2 1428.0 736.4 1428.5 734.0 1429.0 736.5 1429.5 735.7 1430.0 734.6 1430.5 737.1 1431.0 734.0 1431.5 734.3 1432.0 735.4 1432.5 736.1 1433.0 735.5 1433.5 733.5 1434.0 735.5 1434.5 735.8 1435.0 738.7 1435.5 737.5 1436.0 736.2 1436.5 734.9 1437.0 736.5 1437.5 734.8 1438.0 736.4 1438.5 736.6 1439.0 735.7 1439.5 736.5 1440.0 735.8 1440.5 735.6 1441.0 737.9 1441.5 736.8 1442.0 735.8 1442.5 735.2 1443.0 736.1 1443.5 736.4 1444.0 736.5 1444.5 737.0 1445.0 735.7 1445.5 733.8 1446.0 737.0 1446.5 735.8 1447.0 735.2 1447.5 735.5 1448.0 732.2 1448.5 733.2 1449.0 732.8 1449.5 734.4 1450.0 731.7 1450.5 732.5 1451.0 734.3 1451.5 733.3 1452.0 732.1 1452.5 734.6 1453.0 731.1 1453.5 733.0 1454.0 732.3 1454.5 733.2 1455.0 732.4 1455.5 731.8 1456.0 733.1 1456.5 731.5 1457.0 733.6 1457.5 732.8 1458.0 734.2 1458.5 732.9 1459.0 732.8 1459.5 734.1 1460.0 735.1 1460.5 731.7 1461.0 734.2 1461.5 734.9 1462.0 732.8 1462.5 733.6 1463.0 735.4 1463.5 734.0 1464.0 734.4 1464.5 737.1 1465.0 734.4 1465.5 734.6 1466.0 733.2 1466.5 734.7 1467.0 734.7 1467.5 738.1 1468.0 737.7 1468.5 735.2 1469.0 738.8 1469.5 737.7 1470.0 736.8 1470.5 738.0 1471.0 737.7 1471.5 736.6 1472.0 735.6 1472.5 736.6 1473.0 737.7 1473.5 737.4 1474.0 737.1 1474.5 739.0 1475.0 736.8 1475.5 739.0 1476.0 737.6 1476.5 738.2 1477.0 736.9 1477.5 738.1 1478.0 737.3 1478.5 736.2 1479.0 738.1 1479.5 738.1 1480.0 739.0 1480.5 738.4 1481.0 737.0 1481.5 737.4 1482.0 735.4 1482.5 736.9 1483.0 739.5 1483.5 739.8 1484.0 738.9 1484.5 738.4 1485.0 738.7 1485.5 738.6 1486.0 736.2 1486.5 737.2 1487.0 739.4 1487.5 739.4 1488.0 738.4 1488.5 737.8 1489.0 737.7 1489.5 737.5 1490.0 737.1 1490.5 736.0 1491.0 738.3 1491.5 737.6 1492.0 737.9 1492.5 740.0 1493.0 738.7 1493.5 737.3 1494.0 738.7 1494.5 736.5 1495.0 739.2 1495.5 738.4 1496.0 737.9 1496.5 738.7 1497.0 739.7 1497.5 737.6 1498.0 737.0 1498.5 740.4 1499.0 738.1 1499.5 739.7 1500.0 737.4 1500.5 738.5 1501.0 737.4 1501.5 738.8 1502.0 737.8 1502.5 737.4 1503.0 739.8 1503.5 738.5 1504.0 735.9 1504.5 737.8 1505.0 737.1 1505.5 736.8 1506.0 737.5 1506.5 737.6 1507.0 738.1 1507.5 737.3 1508.0 736.1 1508.5 737.5 1509.0 739.1 1509.5 736.7 1510.0 738.8 1510.5 738.7 1511.0 737.7 1511.5 738.5 1512.0 737.4 1512.5 737.8 1513.0 737.1 1513.5 738.8 1514.0 739.8 1514.5 737.6 1515.0 739.6 1515.5 736.0 1516.0 737.4 1516.5 737.3 1517.0 740.3 1517.5 737.8 1518.0 739.3 1518.5 736.3 1519.0 738.7 1519.5 739.2 1520.0 738.6 1520.5 735.7 1521.0 738.9 1521.5 739.6 1522.0 740.2 1522.5 739.2 1523.0 736.9 1523.5 738.6 1524.0 739.9 1524.5 738.0 1525.0 739.6 1525.5 738.5 1526.0 739.1 1526.5 739.9 1527.0 738.3 1527.5 742.3 1528.0 739.3 1528.5 739.6 1529.0 738.4 1529.5 739.4 1530.0 739.0 1530.5 737.8 1531.0 737.7 1531.5 739.8 1532.0 739.4 1532.5 736.7 1533.0 737.2 1533.5 739.3 1534.0 739.6 1534.5 740.4 1535.0 738.4 1535.5 740.5 1536.0 739.5 1536.5 739.4 1537.0 739.8 1537.5 741.1" stroke="#ff00ff"/>
<path d="M147.9 398.2 148.4 398.9 148.9 397.6 149.4 398.4 149.9 397.8 150.4 398.8 150.9 399.4 151.4 399.7 151.9 401.4 152.4 401.4 152.9 402.2 153.4 401.9 153.9 403.3 154.4 402.6 154.9 404.0 155.4 403.9 155.9 404.6 156.4 404.1 156.9 403.3 157.4 403.5 157.9 407.7 158.4 406.4 158.9 406.9 159.4 406.7 159.9 406.7 160.4 410.8 160.9 406.8 161.4 408.3 161.9 408.6 162.4 407.7 162.9 407.7 163.4 408.6 163.9 409.2 164.4 409.3 164.9 410.9 165.4 409.0 165.9 410.9 166.4 412.3 166.9 411.9 167.4 409.9 167.9 408.1 168.4 412.5 168.9 412.3 169.4 411.3 169.9 413.5 170.4 411.8 170.9 412.6 171.4 411.5 171.9 413.1 172.4 412.4 172.9 412.5 173.4 414.4 173.9 413.5 174.4 411.8 174.9 414.3 175.4 414.5 175.9 412.8 176.4 413.3 176.9 413.9 177.4 413.6 177.9 414.0 178.4 414.6 178.9 413.4 179.4 416.2 179.9 413.1 180.4 413.2 180.9 415.9 181.4 416.2 181.9 413.5 182.4 413.1 182.9 412.0 183.4 414.2 183.9 412.9 184.4 411.6 184.9 412.7 185.4 413.5 185.9 412.3 186.4 413.3 186.9 411.1 187.4 409.0 187.9 407.0 188.4 405.9 188.9 404.7 189.4 402.3 189.9 400.2 190.4 396.9 190.9 395.1 191.4 393.0 191.9 388.8 192.4 384.6 192.9 384.5 193.4 379.3 193.9 373.8 194.4 369.7 194.9 363.8 195.4 356.6 195.9 352.2 196.4 344.4 196.9 339.4 197.4 331.2 197.9 323.4 198.4 311.9 198.9 301.4 199.4 289.0 199.9 277.0 200.4 263.1 200.9 251.2 201.4 234.7 201.9 217.8 202.4 203.0 202.9 187.7 203.4 174.5 203.9 163.4 204.4 152.8 204.9 140.6 205.4 130.4 205.9 123.8 206.4 119.1 206.9 109.5 207.4 106.3 207.9 101.5 208.4 102.2 208.9 102.9 209.4 104.5 209.9 110.4 210.4 118.6 210.9 122.3 211.4 129.5 211.9 136.8 212.4 148.2 212.9 162.0 213.4 176.7 213.9 193.5 214.4 206.7 214.9 224.3 215.4 242.6 215.9 260.1 216.4 276.4 216.9 294.7 217.4 307.3 217.9 325.2 218.4 337.2 218.9 346.5 219.4 355.6 219.9 366.1 220.4 374.1 220.9 381.5 221.4 383.7 221.9 387.8 222.4 391.4 222.9 393.7 223.4 394.9 223.9 394.1 224.4 393.7 224.9 393.7 225.4 392.7 225.9 392.2 226.4 391.5 226.9 388.5 227.4 384.8 227.9 384.1 228.4 379.3 228.9 375.8 229.4 375.6 229.9 368.3 230.4 365.3 230.9 361.7 231.4 359.8 231.9 354.0 232.4 352.1 232.9 347.6 233.4 343.1 233.9 341.0 234.4 337.1 234.9 332.1 235.4 329.4 235.9 327.0 236.4 327.5 236.9 326.5 237.4 326.8 237.9 328.2 238.4 328.7 238.9 331.8 239.4 333.0 239.9 334.8 240.4 338.2 240.9 342.0 241.4 345.6 241.9 351.3 242.4 353.5 242.9 360.7 243.4 367.0 243.9 370.9 244.4 377.6 244.9 382.8 245.4 388.2 245.9 396.6 246.4 399.5 246.9 407.0 247.4 409.2 247.9 412.0 248.4 415.3 248.9 418.6 249.4 421.3 249.9 425.2 250.4 425.1 250.9 430.4 251.4 431.5 251.9 433.2 252.4 431.3 252.9 430.5 253.4 433.0 253.9 434.1 254.4 435.1 254.9 434.7 255.4 435.6 255.9 436.3 256.4 434.8 256.9 438.9 257.4 436.0 257.9 437.8 258.4 438.9 258.9 437.0 259.4 438.1 259.9 440.0 260.4 438.0 260.9 439.6 261.4 438.8 261.9 438.9 262.4 439.5 262.9 438.5 263.4 438.6 263.9 439.9 264.4 439.2 264.9 439.5 265.4 437.7 265.9 439.1 266.4 440.5 266.9 440.2 267.4 439.6 267.9 438.7 268.4 438.6 268.9 439.8 269.4 440.9 269.9 439.5 270.4 440.9 270.9 439.1 271.4 440.8 271.9 438.5 272.4 439.8 272.9 438.5 273.4 440.4 273.9 440.3 274.4 438.7 274.9 439.0 275.4 439.4 275.9 438.3 276.4 439.0 276.9 439.1 277.4 441.0 277.9 441.7 278.4 439.8 278.9 440.1 279.4 440.7 279.9 440.0 280.4 440.4 280.9 441.8 281.4 441.2 281.9 441.0 282.4 440.6 282.9 442.9 283.4 440.8 283.9 441.7 284.4 440.6 284.9 441.2 285.4 442.0 285.9 441.6 286.4 442.8 286.9 442.4 287.4 440.9 287.9 439.9 288.4 443.7 288.9 442.0 289.4 444.4 289.9 442.8 290.4 442.0 290.9 443.5 291.4 442.7 291.9 443.0 292.4 442.0 292.9 443.7 293.4 444.2 293.9 442.4 294.4 445.0 294.9 442.4 295.4 443.3 295.9 441.2 296.4 440.9 296.9 445.3 297.4 444.6 297.9 444.3 298.4 441.1 298.9 443.3 299.4 443.5 299.9 443.1 300.4 443.3 300.9 442.0 301.4 442.8 301.9 441.8 302.4 442.6 302.9 443.4 303.4 442.2 303.9 442.7 304.4 442.5 304.9 443.0 305.4 444.0 305.9 443.3 306.4 443.4 306.9 441.4 307.4 442.5 307.9 443.6 308.4 441.6 308.9 441.9 309.4 441.1 309.9 443.4 310.4 441.1 310.9 440.5 311.4 441.6 311.9 441.8 312.4 440.7 312.9 440.8 313.4 439.5 313.9 438.6 314.4 437.7 314.9 437.1 315.4 436.4 315.9 436.8 316.4 435.1 316.9 433.6 317.4 432.0 317.9 428.8 318.4 424.8 318.9 422.7 319.4 419.7 319.9 416.4 320.4 416.4 320.9 413.1 321.4 410.9 321.9 409.0 322.4 409.1 322.9 405.8 323.4 405.5 323.9 402.8 324.4 401.5 324.9 402.1 325.4 402.2 325.9 401.8 326.4 400.8 326.9 401.8 327.4 401.4 327.9 402.9 328.4 403.9 328.9 406.1 329.4 406.8 329.9 406.8 330.4 408.0 330.9 408.2 331.4 412.2 331.9 413.1 332.4 417.4 332.9 418.5 333.4 422.3 333.9 426.7 334.4 428.9 334.9 431.3 335.4 431.7 335.9 435.7 336.4 436.5 336.9 438.8 337.4 439.2 337.9 438.7 338.4 442.3 338.9 443.8 339.4 441.7 339.9 442.3 340.4 443.2 340.9 443.5 341.4 442.1 341.9 446.0 342.4 445.4 342.9 443.7 343.4 442.5 343.9 445.1 344.4 447.0 344.9 445.8 345.4 446.2 345.9 444.0 346.4 445.4 346.9 443.6 347.4 447.5 347.9 446.0 348.4 443.1 348.9 443.5 349.4 446.1 349.9 445.8 350.4 445.4 350.9 446.4 351.4 448.0 351.9 446.3 352.4 444.0 352.9 445.8 353.4 444.6 353.9 445.3 354.4 446.6 354.9 446.1 355.4 445.2 355.9 446.4 356.4 445.6 356.9 447.2 357.4 446.4 357.9 447.1 358.4 446.5 358.9 447.6 359.4 446.7 359.9 446.9 360.4 446.3 360.9 447.1 361.4 445.0 361.9 449.9 362.4 446.2 362.9 447.1 363.4 446.4 363.9 446.4 364.4 447.3 364.9 446.2 365.4 446.2 365.9 445.0 366.4 445.4 366.9 445.0 367.4 448.1 367.9 444.5 368.4 444.6 368.9 445.8 369.4 447.0 369.9 443.3 370.4 443.3 370.9 444.9 371.4 444.9 371.9 442.7 372.4 442.0 372.9 442.7 373.4 444.3 373.9 443.2 374.4 443.7 374.9 442.5 375.4 442.3 375.9 442.7 376.4 441.3 376.9 441.0 377.4 439.0 377.9 438.5 378.4 438.8 378.9 437.3 379.4 436.0 379.9 437.0 380.4 436.5 380.9 435.7 381.4 434.9 381.9 437.1 382.4 439.4 382.9 436.4 383.4 436.3 383.9 437.9 384.4 438.4 384.9 438.6 385.4 439.0 385.9 441.3 386.4 441.1 386.9 441.4 387.4 440.0 387.9 437.9 388.4 438.7 388.9 435.9 389.4 435.3 389.9 433.4 390.4 435.2 390.9 434.2 391.4 432.0 391.9 431.7 392.4 431.9 392.9 432.1 393.4 432.8 393.9 432.0 394.4 432.4 394.9 430.4 395.4 431.8 395.9 430.3 396.4 434.3 396.9 434.0 397.4 433.4 397.9 434.0 398.4 435.1 398.9 434.3 399.4 431.9 399.9 433.9 400.4 432.2 400.9 434.5 401.4 434.7 401.9 436.8 402.4 438.0 402.9 437.2 403.4 438.6 403.9 439.9 404.4 440.0 404.9 440.5 405.4 438.4 405.9 440.9 406.4 442.5 406.9 442.2 407.4 440.6 407.9 442.2 408.4 443.0 408.9 441.9 409.4 444.0 409.9 442.6 410.4 443.3 410.9 443.7 411.4 446.4 411.9 443.7 412.4 443.5 412.9 444.9 413.4 443.6 413.9 444.4 414.4 441.7 414.9 444.5 415.4 444.1 415.9 442.7 416.4 445.7 416.9 443.9 417.4 443.9 417.9 442.7 418.4 442.4 418.9 443.5 419.4 442.5 419.9 444.7 420.4 445.1 420.9 443.5 421.4 442.4 421.9 443.7 422.4 443.0 422.9 444.3 423.4 444.4 423.9 443.7 424.4 444.2 424.9 445.3 425.4 446.0 425.9 443.6 426.4 445.0 426.9 443.9 427.4 443.0 427.9 445.6 428.4 444.6 428.9 444.3 429.4 444.5 429.9 444.0 430.4 443.0 430.9 446.1 431.4 445.1 431.9 444.4 432.4 445.2 432.9 445.4 433.4 443.7 433.9 444.3 434.4 443.0 434.9 443.7 435.4 442.4 435.9 444.9 436.4 441.4 436.9 441.9 437.4 441.3 437.9 439.9 438.4 440.8 438.9 439.1 439.4 438.2 439.9 438.1 440.4 436.6 440.9 438.0 441.4 436.4 441.9 435.9 442.4 432.2 442.9 432.9 443.4 430.6 443.9 430.4 444.4 430.5 444.9 428.2 445.4 426.5 445.9 426.7 446.4 425.5 446.9 425.3 447.4 420.2 447.9 421.7 448.4 420.0 448.9 418.7 449.4 419.1 449.9 417.0 450.4 415.1 450.9 415.9 451.4 415.9 451.9 417.6 452.4 414.2 452.9 413.3 453.4 412.0 453.9 413.6 454.4 413.7 454.9 414.2 455.4 412.7 455.9 413.9 456.4 412.7 456.9 415.9 457.4 414.6 457.9 413.9 458.4 418.8 458.9 418.8 459.4 419.5 459.9 420.5 460.4 420.1 460.9 423.6 461.4 422.5 461.9 427.0 462.4 426.3 462.9 425.1 463.4 429.0 463.9 431.0 464.4 429.2 464.9 431.3 465.4 430.5 465.9 430.6 466.4 429.1 466.9 433.9 467.4 432.6 467.9 434.0 468.4 432.8 468.9 433.5 469.4 436.1 469.9 434.7 470.4 434.9 470.9 434.2 471.4 435.9 471.9 436.5 472.4 435.1 472.9 435.4 473.4 434.2 473.9 437.0 474.4 434.7 474.9 435.1 475.4 437.0 475.9 434.8 476.4 433.2 476.9 433.8 477.4 434.3 477.9 436.4 478.4 434.5 478.9 433.7 479.4 434.4 479.9 434.5 480.4 431.8 480.9 433.6 481.4 432.4 481.9 431.4 482.4 427.6 482.9 429.7 483.4 430.4 483.9 427.8 484.4 429.9 484.9 426.7 485.4 424.8 485.9 425.9 486.4 424.8 486.9 424.7 487.4 422.9 487.9 423.9 488.4 421.2 488.9 421.4 489.4 419.2 489.9 418.9 490.4 419.3 490.9 417.5 491.4 417.0 491.9 416.5 492.4 416.4 492.9 416.4 493.4 416.0 493.9 416.1 494.4 415.1 494.9 414.4 495.4 413.6 495.9 415.4 496.4 415.4 496.9 414.9 497.4 419.4 497.9 416.1 498.4 419.1 498.9 419.7 499.4 419.2 499.9 422.4 500.4 419.5 500.9 418.3 501.4 420.5 501.9 417.0 502.4 415.5 502.9 415.1 503.4 414.6 503.9 414.6 504.4 414.2 504.9 411.6 505.4 413.4 505.9 415.5 506.4 412.8 506.9 414.4 507.4 416.7 507.9 418.6 508.4 417.9 508.9 418.7 509.4 419.5 509.9 422.3 510.4 422.5 510.9 419.5 511.4 419.8 511.9 421.2 512.4 421.2 512.9 423.6 513.4 423.6 513.9 425.8 514.4 424.8 514.9 424.3 515.4 425.7 515.9 423.6 516.4 423.4 516.9 425.2 517.4 426.6 517.9 424.1 518.4 427.4 518.9 427.8 519.4 426.7 519.9 427.8 520.4 427.7 520.9 428.5 521.4 429.6 521.9 428.0 522.4 430.1 522.9 429.9 523.4 430.0 523.9 426.7 524.4 426.7 524.9 429.5 525.4 428.0 525.9 427.7 526.4 427.5 526.9 426.7 527.4 427.6 527.9 427.0 528.4 426.8 528.9 427.9 529.4 425.8 529.9 428.1 530.4 424.1 530.9 429.1 531.4 424.5 531.9 426.4 532.4 426.5 532.9 425.1 533.4 425.7 533.9 424.4 534.4 422.3 534.9 424.3 535.4 424.9 535.9 422.7 536.4 421.1 536.9 422.0 537.4 422.6 537.9 422.2 538.4 422.7 538.9 421.6 539.4 421.1 539.9 417.8 540.4 422.0 540.9 419.1 541.4 419.4 541.9 417.5 542.4 417.2 542.9 416.9 543.4 418.0 543.9 417.3 544.4 415.7 544.9 416.7 545.4 413.4 545.9 413.7 546.4 411.9 546.9 412.9 547.4 410.6 547.9 410.7 548.4 410.6 548.9 405.4 549.4 409.3 549.9 406.4 550.4 405.1 550.9 402.8 551.4 404.3 551.9 401.9 552.4 404.9 552.9 405.4 553.4 408.9 553.9 408.0 554.4 411.3 554.9 413.3 555.4 416.2 555.9 415.4 556.4 418.1 556.9 416.9 557.4 418.2 557.9 419.7 558.4 420.5 558.9 419.7 559.4 421.1 559.9 422.7 560.4 421.8 560.9 422.6 561.4 422.1 561.9 424.9 562.4 425.6 562.9 424.1 563.4 423.9 563.9 426.1 564.4 424.9 564.9 423.7 565.4 423.0 565.9 424.0 566.4 427.2 566.9 424.2 567.4 428.2 567.9 425.0 568.4 424.8 568.9 426.6 569.4 424.9 569.9 425.7 570.4 424.1 570.9 423.9 571.4 424.5 571.9 425.5 572.4 424.3 572.9 422.4 573.4 424.6 573.9 423.1 574.4 422.1 574.9 420.8 575.4 417.8 575.9 421.0 576.4 417.5 576.9 417.5 577.4 417.3 577.9 415.9 578.4 413.8 578.9 412.5 579.4 412.0 579.9 411.7 580.4 410.3 580.9 408.0 581.4 407.9 581.9 406.7 582.4 406.0 582.9 404.4 583.4 404.7 583.9 402.6 584.4 402.7 584.9 401.2 585.4 400.2 585.9 399.7 586.4 401.1 586.9 402.8 587.4 404.9 587.9 405.0 588.4 406.4 588.9 408.2 589.4 412.1 589.9 412.3 590.4 413.0 590.9 415.4 591.4 414.1 591.9 416.6 592.4 417.4 592.9 418.2 593.4 417.9 593.9 421.1 594.4 422.7 594.9 420.1 595.4 422.5 595.9 423.8 596.4 426.2 596.9 423.9 597.4 423.8 597.9 425.4 598.4 428.2 598.9 426.5 599.4 427.1 599.9 429.2 600.4 425.2 600.9 425.5 601.4 429.4 601.9 429.6 602.4 427.4 602.9 429.9 603.4 429.7 603.9 430.1 604.4 429.3 604.9 429.9 605.4 429.7 605.9 431.0 606.4 430.9 606.9 433.3 607.4 432.3 607.9 430.1 608.4 432.5 608.9 433.9 609.4 432.8 609.9 433.9 610.4 432.8 610.9 433.8 611.4 432.1 611.9 434.3 612.4 432.0 612.9 435.2 613.4 432.1 613.9 431.6 614.4 434.7 614.9 434.1 615.4 434.5 615.9 435.0 616.4 434.6 616.9 433.8 617.4 435.1 617.9 435.3 618.4 435.6 618.9 437.3 619.4 434.4 619.9 435.3 620.4 436.0 620.9 434.9 621.4 434.1 621.9 434.9 622.4 436.8 622.9 435.4 623.4 436.4 623.9 434.9 624.4 436.3 624.9 435.0 625.4 434.8 625.9 435.8 626.4 435.3 626.9 436.4 627.4 432.2 627.9 433.8 628.4 434.1 628.9 432.9 629.4 430.0 629.9 428.8 630.4 428.1 630.9 428.2 631.4 427.5 631.9 427.2 632.4 427.2 632.9 425.2 633.4 425.2 633.9 425.3 634.4 425.4 634.9 427.1 635.4 428.0 635.9 431.0 636.4 429.3 636.9 429.2 637.4 431.4 637.9 429.6 638.4 431.5 638.9 432.9 639.4 433.3 639.9 433.5 640.4 433.3 640.9 432.9 641.4 434.7 641.9 434.7 642.4 436.7 642.9 436.2 643.4 437.6 643.9 435.7 644.4 439.2 644.9 437.7 645.4 437.4 645.9 438.1 646.4 439.3 646.9 441.6 647.4 441.3 647.9 439.3 648.4 440.7 648.9 440.4 649.4 438.7 649.9 439.3 650.4 438.0 650.9 439.2 651.4 437.0 651.9 439.0 652.4 438.6 652.9 438.5 653.4 438.1 653.9 439.7 654.4 437.1 654.9 436.7 655.4 436.1 655.9 434.9 656.4 433.2 656.9 430.2 657.4 428.0 657.9 426.6 658.4 425.1 658.9 423.7 659.4 421.7 659.9 420.7 660.4 416.5 660.9 415.4 661.4 411.1 661.9 405.7 662.4 403.4 662.9 395.4 663.4 396.5 663.9 391.8 664.4 388.2 664.9 382.2 665.4 383.3 665.9 376.4 666.4 372.7 666.9 370.4 667.4 365.3 667.9 361.0 668.4 359.3 668.9 354.1 669.4 352.5 669.9 348.0 670.4 345.3 670.9 339.1 671.4 338.8 671.9 335.3 672.4 335.6 672.9 332.3 673.4 335.8 673.9 336.1 674.4 338.5 674.9 339.7 675.4 344.3 675.9 347.7 676.4 349.5 676.9 353.7 677.4 359.6 677.9 368.1 678.4 372.7 678.9 379.2 679.4 383.7 679.9 389.0 680.4 394.5 680.9 398.9 681.4 405.2 681.9 407.7 682.4 410.9 682.9 412.1 683.4 416.9 683.9 418.4 684.4 420.8 684.9 424.2 685.4 422.9 685.9 424.4 686.4 425.6 686.9 426.4 687.4 424.7 687.9 425.7 688.4 425.8 688.9 424.3 689.4 423.3 689.9 423.7 690.4 426.7 690.9 426.3 691.4 425.0 691.9 426.2 692.4 427.2 692.9 428.2 693.4 429.7 693.9 433.4 694.4 431.2 694.9 433.5 695.4 433.7 695.9 435.0 696.4 435.7 696.9 437.3 697.4 437.6 697.9 439.3 698.4 439.8 698.9 439.2 699.4 442.9 699.9 440.0 700.4 442.3 700.9 444.9 701.4 442.2 701.9 444.9 702.4 445.5 702.9 444.6 703.4 442.6 703.9 446.6 704.4 445.4 704.9 444.9 705.4 447.2 705.9 445.2 706.4 447.4 706.9 445.9 707.4 447.3 707.9 445.7 708.4 446.7 708.9 446.4 709.4 446.8 709.9 448.0 710.4 447.8 710.9 448.3 711.4 449.7 711.9 448.3 712.4 446.5 712.9 448.4 713.4 448.9 713.9 450.0 714.4 450.1 714.9 450.0 715.4 448.7 715.9 449.7 716.4 447.4 716.9 450.4 717.4 449.4 717.9 449.3 718.4 448.2 718.9 448.6 719.4 447.6 719.9 448.8 720.4 446.5 720.9 448.8 721.4 448.1 721.9 449.5 722.4 447.0 722.9 446.6 723.4 446.7 723.9 446.2 724.4 445.7 724.9 444.3 725.4 444.0 725.9 444.2 726.4 443.9 726.9 442.1 727.4 441.3 727.9 441.3 728.4 441.4 728.9 439.3 729.4 439.1 729.9 438.3 730.4 437.0 730.9 434.6 731.4 433.5 731.9 431.0 732.4 431.4 732.9 432.0 733.4 429.7 733.9 432.0 734.4 431.8 734.9 429.8 735.4 431.4 735.9 429.2 736.4 430.1 736.9 431.6 737.4 432.8 737.9 433.4 738.4 433.5 738.9 437.5 739.4 436.5 739.9 437.3 740.4 438.5 740.9 438.6 741.4 438.9 741.9 439.2 742.4 438.8 742.9 443.1 743.4 441.1 743.9 441.0 744.4 442.6 744.9 442.4 745.4 447.0 745.9 445.6 746.4 447.2 746.9 447.7 747.4 447.1 747.9 447.6 748.4 446.5 748.9 447.6 749.4 447.5 749.9 448.6 750.4 448.1 750.9 450.7 751.4 450.5 751.9 449.8 752.4 448.4 752.9 451.3 753.4 451.8 753.9 451.0 754.4 449.8 754.9 451.9 755.4 452.8 755.9 449.6 756.4 452.5 756.9 449.8 757.4 452.0 757.9 453.9 758.4 452.0 758.9 452.4 759.4 451.5 759.9 451.8 760.4 454.4 760.9 453.2 761.4 451.3 761.9 451.1 762.4 451.5 762.9 453.9 763.4 451.6 763.9 452.5 764.4 450.7 764.9 449.6 765.4 452.2 765.9 450.1 766.4 448.6 766.9 447.7 767.4 446.6 767.9 445.5 768.4 443.2 768.9 445.0 769.4 442.8 769.9 442.2 770.4 439.6 770.9 439.4 771.4 438.0 771.9 437.8 772.4 436.1 772.9 434.3 773.4 431.9 773.9 430.3 774.4 429.9 774.9 429.6 775.4 429.6 775.9 429.0 776.4 432.8 776.9 432.0 777.4 430.3 777.9 432.3 778.4 433.1 778.9 435.9 779.4 437.9 779.9 436.4 780.4 439.0 780.9 438.9 781.4 441.5 781.9 442.7 782.4 442.5 782.9 443.9 783.4 444.0 783.9 444.4 784.4 444.1 784.9 446.3 785.4 446.1 785.9 445.7 786.4 445.8 786.9 445.1 787.4 443.3 787.9 442.8 788.4 443.5 788.9 440.7 789.4 441.2 789.9 436.5 790.4 433.7 790.9 432.3 791.4 429.6 791.9 424.4 792.4 422.4 792.9 419.7 793.4 417.2 793.9 413.1 794.4 410.4 794.9 405.7 795.4 404.7 795.9 402.3 796.4 401.0 796.9 395.7 797.4 394.3 797.9 392.7 798.4 393.8 798.9 389.7 799.4 391.4 799.9 395.2 800.4 394.1 800.9 392.6 801.4 394.8 801.9 396.8 802.4 397.5 802.9 397.9 803.4 398.6 803.9 402.1 804.4 404.1 804.9 409.0 805.4 413.0 805.9 416.4 806.4 422.4 806.9 423.9 807.4 428.9 807.9 431.7 808.4 436.0 808.9 439.5 809.4 441.8 809.9 444.9 810.4 447.1 810.9 448.5 811.4 448.7 811.9 447.5 812.4 449.9 812.9 449.2 813.4 451.2 813.9 448.2 814.4 451.6 814.9 449.6 815.4 451.8 815.9 450.3 816.4 452.1 816.9 451.1 817.4 449.6 817.9 451.0 818.4 452.1 818.9 452.7 819.4 450.5 819.9 452.0 820.4 452.8 820.9 453.7 821.4 454.4 821.9 453.5 822.4 452.9 822.9 455.0 823.4 454.3 823.9 455.6 824.4 454.0 824.9 455.1 825.4 453.1 825.9 454.1 826.4 453.5 826.9 453.5 827.4 451.5 827.9 451.9 828.4 450.6 828.9 450.9 829.4 451.2 829.9 453.3 830.4 449.5 830.9 449.8 831.4 448.5 831.9 449.0 832.4 447.4 832.9 447.1 833.4 445.4 833.9 446.7 834.4 444.6 834.9 440.3 835.4 441.7 835.9 440.8 836.4 437.7 836.9 438.8 837.4 439.1 837.9 438.9 838.4 440.4 838.9 439.1 839.4 443.0 839.9 444.3 840.4 445.3 840.9 446.0 841.4 447.8 841.9 448.7 842.4 451.7 842.9 452.1 843.4 454.5 843.9 452.3 844.4 454.4 844.9 452.0 845.4 452.0 845.9 450.5 846.4 451.6 846.9 450.1 847.4 449.9 847.9 449.9 848.4 447.1 848.9 446.4 849.4 445.8 849.9 443.6 850.4 441.9 850.9 441.7 851.4 440.8 851.9 440.0 852.4 438.9 852.9 435.9 853.4 435.7 853.9 435.0 854.4 431.6 854.9 430.9 855.4 428.2 855.9 427.6 856.4 427.9 856.9 424.9 857.4 422.6 857.9 423.1 858.4 422.4 858.9 423.0 859.4 420.2 859.9 421.1 860.4 422.7 860.9 422.0 861.4 426.2 861.9 424.1 862.4 427.0 862.9 427.9 863.4 430.5 863.9 433.7 864.4 435.0 864.9 436.8 865.4 437.9 865.9 436.7 866.4 441.0 866.9 440.4 867.4 443.8 867.9 445.7 868.4 447.2 868.9 449.9 869.4 449.8 869.9 453.7 870.4 453.3 870.9 454.4 871.4 454.3 871.9 454.8 872.4 454.0 872.9 456.5 873.4 453.4 873.9 455.3 874.4 455.0 874.9 455.0 875.4 455.8 875.9 454.9 876.4 457.0 876.9 457.2 877.4 456.7 877.9 457.7 878.4 456.0 878.9 455.4 879.4 457.1 879.9 457.7 880.4 461.0 880.9 458.2 881.4 459.7 881.9 459.7 882.4 461.2 882.9 459.1 883.4 459.7 883.9 458.8 884.4 457.8 884.9 457.3 885.4 457.0 885.9 458.8 886.4 456.9 886.9 455.8 887.4 455.3 887.9 454.1 888.4 454.2 888.9 453.7 889.4 454.0 889.9 453.7 890.4 450.4 890.9 451.9 891.4 452.6 891.9 449.5 892.4 449.9 892.9 449.9 893.4 450.5 893.9 449.6 894.4 448.4 894.9 449.0 895.4 449.5 895.9 448.7 896.4 450.5 896.9 449.3 897.4 448.2 897.9 449.1 898.4 450.6 898.9 451.3 899.4 453.1 899.9 453.7 900.4 456.0 900.9 455.9 901.4 457.3 901.9 455.5 902.4 456.3 902.9 457.9 903.4 457.3 903.9 457.9 904.4 457.4 904.9 456.4 905.4 458.8 905.9 458.0 906.4 454.9 906.9 455.7 907.4 456.2 907.9 456.6 908.4 455.6 908.9 453.9 909.4 456.0 909.9 454.4 910.4 455.5 910.9 453.9 911.4 454.0 911.9 453.1 912.4 452.3 912.9 449.9 913.4 450.7 913.9 448.8 914.4 446.2 914.9 446.2 915.4 445.2 915.9 445.0 916.4 444.2 916.9 441.1 917.4 441.7 917.9 439.2 918.4 436.2 918.9 436.3 919.4 432.6 919.9 430.1 920.4 430.3 920.9 428.6 921.4 425.4 921.9 426.0 922.4 424.9 922.9 422.7 923.4 425.5 923.9 423.7 924.4 425.1 924.9 423.7 925.4 428.7 925.9 429.2 926.4 432.4 926.9 432.0 927.4 437.1 927.9 439.0 928.4 441.0 928.9 437.4 929.4 442.9 929.9 444.3 930.4 442.3 930.9 446.5 931.4 448.8 931.9 451.9 932.4 450.8 932.9 453.2 933.4 453.9 933.9 455.3 934.4 455.3 934.9 457.5 935.4 458.4 935.9 456.7 936.4 460.1 936.9 458.7 937.4 459.8 937.9 461.8 938.4 460.9 938.9 461.6 939.4 461.9 939.9 461.7 940.4 460.4 940.9 459.9 941.4 461.6 941.9 461.6 942.4 461.1 942.9 460.4 943.4 461.4 943.9 460.3 944.4 458.7 944.9 460.4 945.4 460.4 945.9 460.4 946.4 458.1 946.9 457.8 947.4 458.4 947.9 457.0 948.4 456.8 948.9 457.3 949.4 456.1 949.9 457.1 950.4 454.9 950.9 456.0 951.4 455.0 951.9 456.4 952.4 453.5 952.9 453.4 953.4 455.0 953.9 453.2 954.4 453.5 954.9 454.5 955.4 454.9 955.9 453.2 956.4 455.2 956.9 454.8 957.4 455.3 957.9 455.6 958.4 455.1 958.9 456.1 959.4 454.8 959.9 453.2 960.4 452.4 960.9 452.2 961.4 450.6 961.9 449.7 962.4 446.7 962.9 445.6 963.4 446.3 963.9 442.8 964.4 443.3 964.9 440.8 965.4 437.7 965.9 434.9 966.4 435.3 966.9 432.2 967.4 430.6 967.9 428.2 968.4 430.3 968.9 428.5 969.4 428.1 969.9 428.7 970.4 429.1 970.9 429.9 971.4 431.5 971.9 431.9 972.4 430.9 972.9 436.1 973.4 437.3 973.9 438.4 974.4 441.7 974.9 440.3 975.4 440.9 975.9 448.1 976.4 449.4 976.9 449.6 977.4 453.2 977.9 456.3 978.4 455.9 978.9 458.8 979.4 461.2 979.9 461.1 980.4 460.2 980.9 461.1 981.4 460.2 981.9 461.9 982.4 461.8 982.9 461.4 983.4 461.2 983.9 465.0 984.4 463.0 984.9 461.8 985.4 462.4 985.9 464.5 986.4 464.5 986.9 462.0 987.4 462.8 987.9 463.5 988.4 462.0 988.9 461.0 989.4 461.1 989.9 462.1 990.4 461.1 990.9 460.4 991.4 461.5 991.9 462.6 992.4 462.2 992.9 461.2 993.4 463.4 993.9 460.4 994.4 461.1 994.9 459.7 995.4 462.0 995.9 461.0 996.4 459.3 996.9 460.2 997.4 463.1 997.9 462.0 998.4 461.4 998.9 462.3 999.4 459.7 999.9 460.6 1000.4 460.2 1000.9 460.8 1001.4 461.4 1001.9 462.5 1002.4 463.1 1002.9 463.2 1003.4 465.1 1003.9 461.8 1004.4 462.4 1004.9 463.0 1005.4 461.7 1005.9 462.3 1006.4 463.2 1006.9 461.8 1007.4 463.3 1007.9 464.2 1008.4 461.7 1008.9 460.4 1009.4 462.9 1009.9 461.5 1010.4 462.5 1010.9 461.3 1011.4 461.5 1011.9 461.8 1012.4 460.7 1012.9 458.7 1013.4 457.0 1013.9 454.8 1014.4 454.4 1014.9 455.1 1015.4 455.2 1015.9 453.3 1016.4 452.3 1016.9 450.0 1017.4 448.7 1017.9 447.5 1018.4 449.0 1018.9 445.2 1019.4 447.4 1019.9 445.2 1020.4 446.6 1020.9 446.4 1021.4 447.1 1021.9 447.8 1022.4 446.0 1022.9 446.2 1023.4 447.3 1023.9 447.4 1024.4 449.5 1024.9 449.3 1025.4 450.0 1025.9 451.0 1026.4 450.6 1026.9 453.1 1027.4 450.8 1027.9 454.0 1028.4 455.3 1028.9 455.0 1029.4 456.1 1029.9 458.7 1030.4 458.2 1030.9 457.2 1031.4 458.3 1031.9 461.2 1032.4 459.4 1032.9 462.1 1033.4 462.4 1033.9 460.9 1034.4 461.9 1034.9 460.6 1035.4 461.2 1035.9 461.0 1036.4 462.5 1036.9 460.5 1037.4 461.8 1037.9 461.8 1038.4 462.0 1038.9 458.5 1039.4 458.1 1039.9 458.2 1040.4 457.9 1040.9 457.2 1041.4 456.2 1041.9 457.0 1042.4 454.4 1042.9 453.3 1043.4 451.1 1043.9 451.4 1044.4 450.2 1044.9 448.9 1045.4 446.8 1045.9 446.4 1046.4 446.1 1046.9 442.3 1047.4 439.6 1047.9 441.7 1048.4 440.6 1048.9 438.5 1049.4 437.2 1049.9 439.6 1050.4 435.1 1050.9 433.5 1051.4 434.0 1051.9 435.1 1052.4 434.2 1052.9 434.9 1053.4 436.3 1053.9 436.3 1054.4 437.7 1054.9 438.5 1055.4 438.3 1055.9 440.6 1056.4 440.2 1056.9 443.9 1057.4 443.5 1057.9 446.2 1058.4 446.6 1058.9 450.3 1059.4 451.5 1059.9 456.6 1060.4 456.6 1060.9 458.8 1061.4 457.4 1061.9 458.6 1062.4 460.1 1062.9 459.1 1063.4 462.2 1063.9 460.7 1064.4 461.6 1064.9 461.9 1065.4 461.6 1065.9 462.8 1066.4 461.4 1066.9 462.7 1067.4 463.7 1067.9 462.8 1068.4 462.8 1068.9 462.3 1069.4 462.8 1069.9 463.6 1070.4 462.6 1070.9 461.1 1071.4 463.2 1071.9 462.9 1072.4 463.6 1072.9 463.2 1073.4 464.8 1073.9 461.9 1074.4 462.1 1074.9 463.9 1075.4 462.1 1075.9 463.6 1076.4 463.3 1076.9 461.2 1077.4 464.1 1077.9 464.8 1078.4 463.6 1078.9 461.9 1079.4 464.3 1079.9 462.4 1080.4 463.4 1080.9 464.0 1081.4 462.8 1081.9 461.8 1082.4 463.6 1082.9 463.8 1083.4 463.0 1083.9 463.3 1084.4 465.1 1084.9 464.5 1085.4 464.3 1085.9 464.4 1086.4 465.4 1086.9 465.5 1087.4 465.4 1087.9 464.1 1088.4 465.3 1088.9 464.9 1089.4 465.3 1089.9 466.1 1090.4 465.3 1090.9 464.4 1091.4 463.2 1091.9 462.1 1092.4 462.1 1092.9 460.6 1093.4 460.2 1093.9 459.1 1094.4 459.6 1094.9 459.2 1095.4 460.9 1095.9 459.3 1096.4 458.0 1096.9 459.0 1097.4 457.4 1097.9 458.8 1098.4 458.3 1098.9 460.4 1099.4 455.9 1099.9 456.7 1100.4 456.5 1100.9 456.6 1101.4 456.8 1101.9 454.7 1102.4 454.6 1102.9 455.3 1103.4 455.6 1103.9 452.9 1104.4 451.9 1104.9 454.2 1105.4 453.2 1105.9 452.3 1106.4 448.4 1106.9 447.0 1107.4 444.9 1107.9 442.4 1108.4 438.8 1108.9 436.0 1109.4 434.0 1109.9 428.6 1110.4 424.2 1110.9 419.7 1111.4 414.9 1111.9 411.0 1112.4 406.3 1112.9 402.2 1113.4 401.0 1113.9 397.6 1114.4 395.0 1114.9 394.8 1115.4 391.1 1115.9 390.0 1116.4 388.3 1116.9 386.4 1117.4 385.4 1117.9 384.9 1118.4 382.6 1118.9 383.2 1119.4 383.7 1119.9 383.9 1120.4 384.4 1120.9 387.2 1121.4 386.4 1121.9 386.7 1122.4 388.0 1122.9 389.6 1123.4 391.7 1123.9 392.6 1124.4 396.4 1124.9 396.8 1125.4 403.0 1125.9 407.8 1126.4 411.4 1126.9 418.4 1127.4 423.0 1127.9 425.3 1128.4 431.2 1128.9 432.1 1129.4 433.4 1129.9 435.4 1130.4 437.2 1130.9 440.2 1131.4 441.9 1131.9 442.3 1132.4 444.7 1132.9 447.2 1133.4 449.7 1133.9 451.6 1134.4 452.9 1134.9 455.4 1135.4 456.2 1135.9 455.2 1136.4 452.2 1136.9 453.4 1137.4 453.0 1137.9 450.9 1138.4 449.6 1138.9 447.8 1139.4 444.4 1139.9 441.7 1140.4 443.5 1140.9 441.0 1141.4 440.8 1141.9 438.9 1142.4 437.8 1142.9 438.1 1143.4 434.2 1143.9 434.2 1144.4 431.9 1144.9 432.0 1145.4 431.5 1145.9 430.9 1146.4 429.7 1146.9 427.7 1147.4 429.2 1147.9 430.2 1148.4 431.4 1148.9 434.4 1149.4 435.0 1149.9 435.8 1150.4 438.8 1150.9 441.8 1151.4 444.9 1151.9 444.1 1152.4 447.0 1152.9 447.2 1153.4 446.1 1153.9 448.1 1154.4 447.1 1154.9 448.2 1155.4 448.1 1155.9 448.9 1156.4 447.6 1156.9 449.4 1157.4 446.5 1157.9 448.1 1158.4 447.5 1158.9 449.2 1159.4 447.4 1159.9 445.6 1160.4 444.5 1160.9 444.7 1161.4 443.3 1161.9 445.7 1162.4 439.9 1162.9 442.5 1163.4 439.7 1163.9 443.4 1164.4 441.6 1164.9 444.4 1165.4 442.6 1165.9 444.9 1166.4 444.6 1166.9 446.3 1167.4 445.8 1167.9 443.4 1168.4 446.5 1168.9 446.4 1169.4 449.7 1169.9 449.9 1170.4 450.0 1170.9 451.1 1171.4 451.5 1171.9 451.4 1172.4 454.7 1172.9 453.6 1173.4 453.8 1173.9 453.2 1174.4 454.8 1174.9 456.1 1175.4 456.5 1175.9 456.8 1176.4 457.8 1176.9 457.3 1177.4 458.9 1177.9 457.7 1178.4 458.8 1178.9 459.4 1179.4 461.4 1179.9 461.4 1180.4 461.4 1180.9 460.5 1181.4 461.6 1181.9 463.2 1182.4 464.0 1182.9 461.5 1183.4 462.9 1183.9 463.7 1184.4 464.2 1184.9 464.1 1185.4 465.0 1185.9 463.0 1186.4 466.3 1186.9 463.6 1187.4 465.0 1187.9 465.5 1188.4 466.3 1188.9 466.1 1189.4 466.2 1189.9 466.7 1190.4 465.3 1190.9 466.3 1191.4 467.2 1191.9 464.9 1192.4 464.3 1192.9 464.8 1193.4 467.4 1193.9 467.2 1194.4 465.6 1194.9 466.3 1195.4 466.6 1195.9 467.3 1196.4 464.3 1196.9 465.7 1197.4 466.1 1197.9 466.7 1198.4 466.5 1198.9 466.1 1199.4 466.8 1199.9 463.9 1200.4 469.8 1200.9 467.5 1201.4 467.6 1201.9 466.0 1202.4 467.1 1202.9 468.9 1203.4 468.6 1203.9 466.8 1204.4 465.5 1204.9 466.9 1205.4 466.5 1205.9 467.7 1206.4 465.4 1206.9 466.6 1207.4 467.1 1207.9 466.3 1208.4 467.9 1208.9 465.6 1209.4 465.4 1209.9 466.4 1210.4 467.6 1210.9 466.4 1211.4 466.1 1211.9 467.5 1212.4 466.9 1212.9 466.1 1213.4 466.7 1213.9 466.3 1214.4 467.2 1214.9 466.7 1215.4 465.7 1215.9 466.0 1216.4 466.0 1216.9 466.8 1217.4 466.8 1217.9 465.5 1218.4 466.1 1218.9 466.6 1219.4 467.4 1219.9 466.5 1220.4 468.2 1220.9 466.1 1221.4 466.8 1221.9 465.7 1222.4 464.9 1222.9 466.1 1223.4 466.4 1223.9 466.2 1224.4 466.0 1224.9 465.4 1225.4 464.9 1225.9 465.4 1226.4 466.1 1226.9 466.6 1227.4 462.0 1227.9 466.0 1228.4 466.4 1228.9 466.5 1229.4 465.5 1229.9 465.7 1230.4 464.4 1230.9 464.7 1231.4 465.2 1231.9 463.4 1232.4 463.6 1232.9 464.5 1233.4 462.8 1233.9 464.1 1234.4 462.4 1234.9 464.0 1235.4 463.7 1235.9 463.0 1236.4 462.4 1236.9 462.8 1237.4 460.8 1237.9 462.6 1238.4 463.0 1238.9 464.0 1239.4 462.0 1239.9 462.2 1240.4 463.7 1240.9 463.8 1241.4 461.2 1241.9 462.6 1242.4 462.6 1242.9 461.6 1243.4 459.8 1243.9 459.7 1244.4 461.0 1244.9 462.7 1245.4 459.8 1245.9 461.5 1246.4 461.7 1246.9 458.2 1247.4 458.8 1247.9 460.9 1248.4 460.3 1248.9 459.8 1249.4 459.2 1249.9 459.9 1250.4 458.6 1250.9 462.1 1251.4 458.4 1251.9 457.9 1252.4 460.2 1252.9 461.8 1253.4 460.1 1253.9 460.9 1254.4 460.2 1254.9 461.6 1255.4 461.0 1255.9 461.3 1256.4 461.2 1256.9 462.6 1257.4 465.5 1257.9 463.8 1258.4 464.4 1258.9 466.9 1259.4 464.1 1259.9 464.0 1260.4 465.8 1260.9 464.2 1261.4 466.0 1261.9 466.9 1262.4 464.6 1262.9 465.2 1263.4 467.5 1263.9 464.5 1264.4 464.7 1264.9 465.4 1265.4 464.6 1265.9 463.8 1266.4 466.0 1266.9 463.4 1267.4 464.0 1267.9 462.8 1268.4 462.7 1268.9 460.9 1269.4 462.6 1269.9 460.3 1270.4 461.1 1270.9 457.5 1271.4 457.2 1271.9 457.2 1272.4 455.8 1272.9 454.2 1273.4 454.0 1273.9 452.3 1274.4 453.4 1274.9 450.2 1275.4 453.0 1275.9 454.0 1276.4 453.4 1276.9 453.2 1277.4 451.7 1277.9 452.5 1278.4 451.5 1278.9 451.7 1279.4 451.5 1279.9 447.9 1280.4 452.3 1280.9 451.7 1281.4 451.9 1281.9 449.7 1282.4 451.2 1282.9 450.7 1283.4 447.4 1283.9 447.2 1284.4 448.0 1284.9 445.6 1285.4 444.4 1285.9 441.7 1286.4 441.7 1286.9 435.8 1287.4 434.2 1287.9 432.5 1288.4 430.2 1288.9 428.8 1289.4 427.0 1289.9 423.1 1290.4 422.3 1290.9 420.9 1291.4 418.3 1291.9 417.2 1292.4 414.5 1292.9 412.0 1293.4 413.1 1293.9 411.7 1294.4 413.1 1294.9 411.2 1295.4 409.7 1295.9 411.3 1296.4 413.5 1296.9 414.8 1297.4 415.0 1297.9 417.4 1298.4 416.2 1298.9 418.2 1299.4 422.5 1299.9 424.7 1300.4 428.4 1300.9 433.5 1301.4 436.6 1301.9 437.7 1302.4 441.0 1302.9 441.0 1303.4 444.8 1303.9 447.2 1304.4 446.9 1304.9 452.1 1305.4 454.2 1305.9 454.1 1306.4 455.7 1306.9 457.2 1307.4 456.0 1307.9 457.5 1308.4 456.8 1308.9 454.7 1309.4 455.3 1309.9 455.5 1310.4 457.1 1310.9 455.8 1311.4 456.6 1311.9 454.8 1312.4 453.8 1312.9 457.1 1313.4 457.6 1313.9 454.9 1314.4 454.1 1314.9 455.3 1315.4 452.7 1315.9 453.6 1316.4 452.2 1316.9 454.1 1317.4 453.9 1317.9 453.3 1318.4 453.5 1318.9 453.1 1319.4 454.6 1319.9 457.5 1320.4 456.5 1320.9 458.9 1321.4 457.1 1321.9 458.2 1322.4 457.8 1322.9 457.8 1323.4 458.6 1323.9 455.1 1324.4 457.4 1324.9 456.7 1325.4 455.2 1325.9 454.4 1326.4 453.2 1326.9 453.2 1327.4 451.6 1327.9 449.7 1328.4 449.8 1328.9 449.8 1329.4 448.3 1329.9 447.2 1330.4 446.7 1330.9 445.4 1331.4 445.0 1331.9 443.2 1332.4 444.9 1332.9 446.2 1333.4 445.0 1333.9 444.8 1334.4 447.2 1334.9 447.0 1335.4 447.7 1335.9 448.7 1336.4 449.8 1336.9 449.8 1337.4 449.7 1337.9 453.2 1338.4 452.3 1338.9 452.4 1339.4 454.5 1339.9 456.9 1340.4 455.5 1340.9 459.7 1341.4 459.4 1341.9 462.8 1342.4 462.4 1342.9 462.3 1343.4 464.2 1343.9 464.3 1344.4 462.6 1344.9 463.2 1345.4 462.3 1345.9 463.7 1346.4 461.2 1346.9 462.3 1347.4 460.1 1347.9 462.8 1348.4 459.7 1348.9 460.7 1349.4 461.9 1349.9 461.1 1350.4 460.8 1350.9 460.0 1351.4 460.3 1351.9 458.8 1352.4 460.8 1352.9 461.1 1353.4 460.9 1353.9 460.0 1354.4 461.2 1354.9 460.3 1355.4 460.7 1355.9 460.0 1356.4 459.6 1356.9 458.8 1357.4 456.9 1357.9 460.4 1358.4 459.8 1358.9 462.2 1359.4 458.2 1359.9 461.4 1360.4 459.8 1360.9 461.1 1361.4 460.5 1361.9 462.1 1362.4 462.1 1362.9 463.4 1363.4 463.0 1363.9 463.7 1364.4 464.9 1364.9 464.4 1365.4 464.1 1365.9 465.9 1366.4 464.8 1366.9 465.6 1367.4 465.2 1367.9 465.0 1368.4 462.8 1368.9 466.9 1369.4 465.1 1369.9 467.2 1370.4 468.4 1370.9 465.2 1371.4 467.5 1371.9 466.5 1372.4 467.2 1372.9 465.5 1373.4 466.8 1373.9 467.0 1374.4 468.4 1374.9 469.1 1375.4 467.3 1375.9 466.6 1376.4 469.3 1376.9 466.9 1377.4 467.0 1377.9 467.2 1378.4 467.6 1378.9 467.9 1379.4 466.5 1379.9 467.0 1380.4 469.1 1380.9 468.9 1381.4 467.7 1381.9 467.5 1382.4 467.0 1382.9 468.3 1383.4 466.7 1383.9 467.2 1384.4 466.5 1384.9 466.2 1385.4 466.7 1385.9 466.5 1386.4 465.6 1386.9 465.9 1387.4 465.7 1387.9 464.9 1388.4 464.4 1388.9 464.6 1389.4 465.1 1389.9 465.2 1390.4 464.0 1390.9 463.2 1391.4 463.1 1391.9 464.9 1392.4 463.6 1392.9 461.4 1393.4 462.1 1393.9 461.4 1394.4 461.4 1394.9 459.9 1395.4 461.6 1395.9 460.1 1396.4 460.9 1396.9 463.1 1397.4 462.5 1397.9 460.5 1398.4 460.3 1398.9 460.4 1399.4 459.4 1399.9 460.3 1400.4 461.0 1400.9 460.2 1401.4 462.1 1401.9 461.2 1402.4 460.6 1402.9 463.0 1403.4 461.8 1403.9 461.0 1404.4 462.3 1404.9 460.8 1405.4 457.4 1405.9 457.2 1406.4 455.1 1406.9 452.9 1407.4 455.6 1407.9 454.9 1408.4 451.8 1408.9 453.5 1409.4 451.2 1409.9 453.9 1410.4 452.6 1410.9 452.3 1411.4 453.9 1411.9 452.5 1412.4 452.3 1412.9 453.5 1413.4 452.5 1413.9 454.1 1414.4 453.7 1414.9 455.2 1415.4 455.7 1415.9 456.5 1416.4 455.3 1416.9 458.9 1417.4 457.3 1417.9 459.7 1418.4 457.6 1418.9 458.3 1419.4 458.7 1419.9 460.5 1420.4 459.2 1420.9 460.4 1421.4 458.6 1421.9 460.0 1422.4 461.0 1422.9 460.9 1423.4 459.2 1423.9 462.0 1424.4 460.6 1424.9 463.9 1425.4 461.9 1425.9 464.7 1426.4 463.2 1426.9 463.2 1427.4 462.4 1427.9 463.0 1428.4 463.7 1428.9 461.3 1429.4 464.6 1429.9 462.4 1430.4 463.4 1430.9 460.8 1431.4 464.2 1431.9 464.5 1432.4 464.0 1432.9 464.0 1433.4 463.2 1433.9 463.6 1434.4 464.6 1434.9 462.8 1435.4 463.6 1435.9 463.7 1436.4 462.5 1436.9 462.8 1437.4 462.6 1437.9 461.6 1438.4 464.4 1438.9 461.1 1439.4 463.1 1439.9 462.1 1440.4 458.5 1440.9 460.7 1441.4 461.1 1441.9 460.2 1442.4 457.5 1442.9 457.6 1443.4 454.8 1443.9 453.6 1444.4 453.0 1444.9 451.8 1445.4 451.7 1445.9 448.8 1446.4 447.9 1446.9 443.7 1447.4 441.6 1447.9 439.8 1448.4 439.6 1448.9 433.8 1449.4 431.1 1449.9 430.7 1450.4 430.4 1450.9 426.3 1451.4 426.8 1451.9 424.7 1452.4 426.9 1452.9 425.3 1453.4 424.2 1453.9 423.3 1454.4 422.7 1454.9 422.8 1455.4 421.8 1455.9 421.7 1456.4 422.1 1456.9 424.2 1457.4 424.5 1457.9 427.6 1458.4 425.9 1458.9 430.1 1459.4 431.6 1459.9 434.2 1460.4 434.8 1460.9 435.8 1461.4 438.8 1461.9 443.2 1462.4 443.8 1462.9 445.4 1463.4 446.6 1463.9 448.6 1464.4 449.8 1464.9 449.7 1465.4 452.0 1465.9 454.9 1466.4 456.5 1466.9 455.7 1467.4 456.1 1467.9 458.6 1468.4 457.3 1468.9 456.2 1469.4 457.3 1469.9 458.1 1470.4 458.8 1470.9 456.4 1471.4 457.2 1471.9 456.0 1472.4 457.3 1472.9 456.0 1473.4 455.7 1473.9 454.1 1474.4 454.5 1474.9 454.2 1475.4 450.5 1475.9 455.1 1476.4 454.1 1476.9 453.8 1477.4 453.7 1477.9 454.6 1478.4 455.4 1478.9 454.5 1479.4 456.8 1479.9 457.5 1480.4 457.9 1480.9 456.6 1481.4 458.0 1481.9 456.4 1482.4 457.4 1482.9 457.6 1483.4 456.0 1483.9 453.4 1484.4 451.9 1484.9 450.6 1485.4 450.3 1485.9 448.0 1486.4 447.1 1486.9 444.2 1487.4 445.4 1487.9 445.2 1488.4 445.5 1488.9 447.5 1489.4 445.0 1489.9 445.3 1490.4 447.8 1490.9 446.6 1491.4 448.0 1491.9 448.9 1492.4 449.3 1492.9 449.0 1493.4 451.4 1493.9 452.6 1494.4 450.6 1494.9 452.3 1495.4 454.6 1495.9 454.4 1496.4 454.7 1496.9 456.5 1497.4 459.1 1497.9 458.3 1498.4 460.7 1498.9 462.0 1499.4 461.8 1499.9 464.0 1500.4 464.8 1500.9 465.7 1501.4 466.0 1501.9 463.5 1502.4 465.8 1502.9 464.6 1503.4 463.9 1503.9 460.5 1504.4 460.9 1504.9 458.9 1505.4 456.0 1505.9 457.6 1506.4 454.7 1506.9 453.8 1507.4 454.7 1507.9 453.0 1508.4 453.4 1508.9 452.2 1509.4 452.3 1509.9 452.3 1510.4 451.0 1510.9 451.6 1511.4 451.3 1511.9 449.2 1512.4 450.9 1512.9 450.6 1513.4 450.1 1513.9 451.4 1514.4 452.4 1514.9 452.0 1515.4 450.3 1515.9 453.0 1516.4 453.1 1516.9 453.7 1517.4 455.1 1517.9 455.1 1518.4 457.7 1518.9 456.7 1519.4 456.7 1519.9 457.6 1520.4 457.5 1520.9 457.5 1521.4 456.2 1521.9 454.7 1522.4 454.0 1522.9 450.6 1523.4 450.4 1523.9 452.3 1524.4 450.2 1524.9 452.0 1525.4 451.8 1525.9 448.7 1526.4 450.6 1526.9 453.8 1527.4 450.5 1527.9 452.4 1528.4 452.5 1528.9 453.3 1529.4 454.1 1529.9 455.1 1530.4 456.8 1530.9 455.8 1531.4 457.9 1531.9 457.3 1532.4 459.3 1532.9 459.8 1533.4 459.4 1533.9 461.1 1534.4 460.9 1534.9 461.5 1535.4 464.4 1535.9 462.0 1536.4 465.3 1536.9 466.3 1537.4 465.7" stroke="#008a00"/>
</g>
<g stroke="#000" fill="none">
<line x1="121" y1="34" x2="1540.8" y2="34" stroke-width="3.8"/>
<line x1="123" y1="32.1" x2="123" y2="1088.6" stroke-width="4"/>
<line x1="1538.9" y1="32.1" x2="1538.9" y2="1088.6" stroke-width="3.7"/>
<line x1="121" y1="1087.2" x2="1540.8" y2="1087.2" stroke-width="2.9"/>
</g>
<g stroke="#000" stroke-width="3">
<line x1="148.4" y1="1087" x2="148.4" y2="1075"/>
<line x1="274.8" y1="1087" x2="274.8" y2="1066"/>
<line x1="401.2" y1="1087" x2="401.2" y2="1075"/>
<line x1="527.7" y1="1087" x2="527.7" y2="1066"/>
<line x1="654.1" y1="1087" x2="654.1" y2="1075"/>
<line x1="780.6" y1="1087" x2="780.6" y2="1066"/>
<line x1="907.0" y1="1087" x2="907.0" y2="1075"/>
<line x1="1033.5" y1="1087" x2="1033.5" y2="1066"/>
<line x1="1160.0" y1="1087" x2="1160.0" y2="1075"/>
<line x1="1286.4" y1="1087" x2="1286.4" y2="1066"/>
<line x1="1412.8" y1="1087" x2="1412.8" y2="1075"/>
<line x1="1539.3" y1="1087" x2="1539.3" y2="1066"/>
</g>
<text transform="translate(249.33,1145.91) scale(0.4614,0.4944)" font-size="100">10</text>
<text transform="translate(501.71,1146.01) scale(0.4644,0.4915)" font-size="100">20</text>
<text transform="translate(754.78,1146.01) scale(0.4600,0.4930)" font-size="100">30</text>
<text transform="translate(1007.34,1145.71) scale(0.4604,0.4873)" font-size="100">40</text>
<text transform="translate(1260.52,1146.01) scale(0.4596,0.4887)" font-size="100">50</text>
<text transform="translate(1512.42,1146.00) scale(0.4689,0.4958)" font-size="100">60</text>
<text transform="translate(763.44,1195.90) scale(0.5521,0.5250)" font-size="100">2θ (°)</text>
<text transform="translate(75.40,784.57) rotate(-90) scale(0.5673,0.5780)" font-size="100">Intensity (a.u.)</text>
<text transform="translate(1203.19,385.70) scale(0.4682,0.4900)" font-size="100">UIO-66(Zr)</text>
<text transform="translate(1174.78,696.82) scale(0.4739,0.4789)" font-size="100">PET-UIO66-3</text>
<text transform="translate(1176.75,820.21) scale(0.4646,0.4901)" font-size="100">PET-UIO66-1</text>
<text transform="translate(1155.44,929.91) scale(0.4735,0.4859)" font-size="100">PET-UIO66-0.5</text>
<text transform="translate(1270.01,1033.25) scale(0.4695,0.4964)" font-size="100">PET</text>
<text transform="translate(363.17,548.00) scale(0.3862,0.3850)" font-size="100">(011)</text>
<text transform="translate(457.31,548.00) scale(0.3772,0.3850)" font-size="100">(010)</text>
<text transform="translate(555.08,511.50) scale(0.3835,0.3850)" font-size="100">(110)</text>
<text transform="translate(645.63,494.60) scale(0.3737,0.3850)" font-size="100">(100)</text>
<text transform="translate(830.44,656.50) scale(0.3728,0.3850)" font-size="100">(101)</text>
<rect transform="translate(249.33,1145.91) scale(0.4614,0.4944)" x="4.88" y="-10.45" width="18.26" height="14.16" fill="#fff"/>
<rect transform="translate(249.33,1145.91) scale(0.4614,0.4944)" x="37.26" y="-10.45" width="16.94" height="14.16" fill="#fff"/>
<rect transform="translate(1176.75,820.21) scale(0.4646,0.4901)" x="549.43" y="-10.45" width="18.26" height="14.16" fill="#fff"/>
<rect transform="translate(1176.75,820.21) scale(0.4646,0.4901)" x="581.80" y="-10.45" width="16.94" height="14.16" fill="#fff"/>
<rect transform="translate(363.17,548.00) scale(0.3862,0.3850)" x="93.75" y="-10.45" width="18.26" height="14.16" fill="#fff"/>
<rect transform="translate(363.17,548.00) scale(0.3862,0.3850)" x="126.12" y="-10.45" width="16.94" height="14.16" fill="#fff"/>
<rect transform="translate(363.17,548.00) scale(0.3862,0.3850)" x="143.83" y="-10.45" width="18.26" height="14.16" fill="#fff"/>
<rect transform="translate(363.17,548.00) scale(0.3862,0.3850)" x="176.20" y="-10.45" width="16.94" height="14.16" fill="#fff"/>
<rect transform="translate(457.31,548.00) scale(0.3772,0.3850)" x="93.77" y="-10.45" width="18.26" height="14.16" fill="#fff"/>
<rect transform="translate(457.31,548.00) scale(0.3772,0.3850)" x="126.14" y="-10.45" width="16.94" height="14.16" fill="#fff"/>
<rect transform="translate(555.08,511.50) scale(0.3835,0.3850)" x="38.15" y="-10.45" width="18.26" height="14.16" fill="#fff"/>
<rect transform="translate(555.08,511.50) scale(0.3835,0.3850)" x="70.52" y="-10.45" width="16.94" height="14.16" fill="#fff"/>
<rect transform="translate(555.08,511.50) scale(0.3835,0.3850)" x="88.20" y="-10.45" width="18.26" height="14.16" fill="#fff"/>
<rect transform="translate(555.08,511.50) scale(0.3835,0.3850)" x="120.58" y="-10.45" width="16.94" height="14.16" fill="#fff"/>
<rect transform="translate(645.63,494.60) scale(0.3737,0.3850)" x="38.16" y="-10.45" width="18.26" height="14.16" fill="#fff"/>
<rect transform="translate(645.63,494.60) scale(0.3737,0.3850)" x="70.53" y="-10.45" width="16.94" height="14.16" fill="#fff"/>
<rect transform="translate(830.44,656.50) scale(0.3728,0.3850)" x="38.16" y="-10.45" width="18.26" height="14.16" fill="#fff"/>
<rect transform="translate(830.44,656.50) scale(0.3728,0.3850)" x="70.53" y="-10.45" width="16.94" height="14.16" fill="#fff"/>
<rect transform="translate(830.44,656.50) scale(0.3728,0.3850)" x="149.32" y="-10.45" width="18.26" height="14.16" fill="#fff"/>
<rect transform="translate(830.44,656.50) scale(0.3728,0.3850)" x="181.69" y="-10.45" width="16.94" height="14.16" fill="#fff"/>
</svg>
</body></html>
